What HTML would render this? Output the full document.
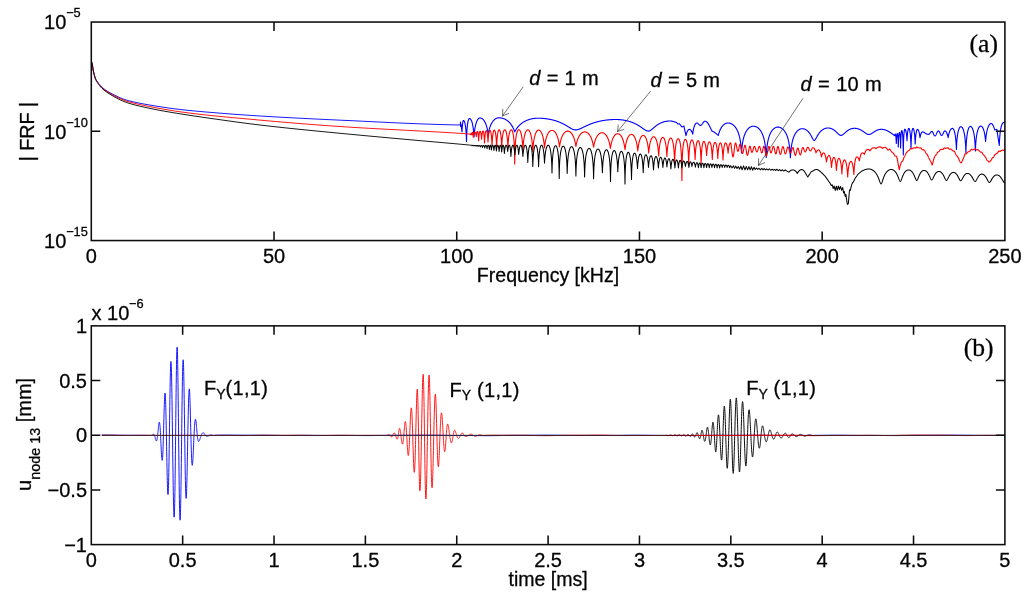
<!DOCTYPE html>
<html><head><meta charset="utf-8"><title>FRF</title>
<style>
html,body{margin:0;padding:0;background:#fff;}
svg{display:block;}
text{font-family:"Liberation Sans",sans-serif;fill:#000000;stroke:#000000;stroke-width:0.3px;}
.s{font-family:"Liberation Serif",serif;}
</style></head>
<body>
<svg width="1024" height="601" viewBox="0 0 1024 601">
<rect x="0" y="0" width="1024" height="601" fill="#ffffff"/>
<g fill="none" stroke-linejoin="round" stroke-linecap="butt">
<path d="M91.60 62.00L91.85 62.59L92.10 63.60L92.35 64.72L92.60 66.21L92.85 67.79L93.10 69.45L93.35 70.85L93.60 72.01L93.85 73.03L94.10 73.98L94.35 74.88L94.60 75.76L94.85 76.60L95.10 77.38L95.35 78.08L95.60 78.70L95.85 79.24L96.10 79.72L96.35 80.15L96.60 80.56L96.85 80.94L97.10 81.31L97.35 81.66L97.60 82.01L97.85 82.35L98.10 82.70L98.35 83.04L98.60 83.39L98.85 83.72L99.10 84.05L99.35 84.38L99.60 84.69L99.85 85.00L100.00 85.18L101.00 86.30L102.00 87.27L103.00 88.13L104.00 88.91L105.00 89.64L106.00 90.33L107.00 90.99L108.00 91.61L109.00 92.20L110.00 92.77L111.00 93.31L112.00 93.84L113.00 94.35L114.00 94.85L115.00 95.35L116.00 95.84L117.00 96.33L118.00 96.80L119.00 97.26L120.00 97.70L121.00 98.12L122.00 98.52L123.00 98.91L124.00 99.27L125.00 99.61L126.00 99.93L127.00 100.23L128.00 100.52L129.00 100.80L130.00 101.06L131.00 101.32L132.00 101.56L133.00 101.80L134.00 102.03L135.00 102.25L136.00 102.46L137.00 102.67L138.00 102.88L139.00 103.08L140.00 103.27L141.00 103.46L142.00 103.65L143.00 103.84L144.00 104.02L145.00 104.20L146.00 104.38L147.00 104.56L148.00 104.73L149.00 104.91L150.00 105.08L151.00 105.25L152.00 105.42L153.00 105.59L154.00 105.75L155.00 105.92L156.00 106.08L157.00 106.24L158.00 106.41L159.00 106.56L160.00 106.72L161.00 106.88L162.00 107.03L163.00 107.18L164.00 107.33L165.00 107.48L166.00 107.63L167.00 107.77L168.00 107.92L169.00 108.06L170.00 108.19L171.00 108.33L172.00 108.46L173.00 108.60L174.00 108.73L175.00 108.86L176.00 108.98L177.00 109.11L178.00 109.23L179.00 109.35L180.00 109.47L181.00 109.58L182.00 109.70L183.00 109.81L184.00 109.92L185.00 110.03L186.00 110.14L187.00 110.24L188.00 110.35L189.00 110.45L190.00 110.55L191.00 110.64L192.00 110.74L193.00 110.84L194.00 110.93L195.00 111.03L196.00 111.12L197.00 111.21L198.00 111.30L199.00 111.39L200.00 111.48L201.00 111.57L202.00 111.65L203.00 111.74L204.00 111.83L205.00 111.91L206.00 112.00L207.00 112.08L208.00 112.16L209.00 112.25L210.00 112.33L211.00 112.41L212.00 112.50L213.00 112.58L214.00 112.66L215.00 112.74L216.00 112.82L217.00 112.91L218.00 112.99L219.00 113.07L220.00 113.15L221.00 113.23L222.00 113.31L223.00 113.39L224.00 113.46L225.00 113.54L226.00 113.62L227.00 113.70L228.00 113.77L229.00 113.85L230.00 113.93L231.00 114.00L232.00 114.08L233.00 114.15L234.00 114.23L235.00 114.30L236.00 114.37L237.00 114.45L238.00 114.52L239.00 114.59L240.00 114.66L241.00 114.74L242.00 114.81L243.00 114.88L244.00 114.95L245.00 115.02L246.00 115.08L247.00 115.15L248.00 115.22L249.00 115.29L250.00 115.35L251.00 115.42L252.00 115.49L253.00 115.55L254.00 115.62L255.00 115.68L256.00 115.75L257.00 115.81L258.00 115.87L259.00 115.93L260.00 116.00L261.00 116.06L262.00 116.12L263.00 116.18L264.00 116.24L265.00 116.30L266.00 116.36L267.00 116.42L268.00 116.48L269.00 116.54L270.00 116.60L271.00 116.66L272.00 116.71L273.00 116.77L274.00 116.83L275.00 116.89L276.00 116.94L277.00 117.00L278.00 117.06L279.00 117.11L280.00 117.17L281.00 117.22L282.00 117.28L283.00 117.33L284.00 117.39L285.00 117.44L286.00 117.50L287.00 117.55L288.00 117.60L289.00 117.66L290.00 117.71L291.00 117.76L292.00 117.82L293.00 117.87L294.00 117.92L295.00 117.97L296.00 118.02L297.00 118.08L298.00 118.13L299.00 118.18L300.00 118.23L301.00 118.28L302.00 118.33L303.00 118.38L304.00 118.43L305.00 118.48L306.00 118.53L307.00 118.58L308.00 118.63L309.00 118.68L310.00 118.73L311.00 118.78L312.00 118.83L313.00 118.88L314.00 118.93L315.00 118.98L316.00 119.03L317.00 119.08L318.00 119.12L319.00 119.17L320.00 119.22L321.00 119.27L322.00 119.32L323.00 119.36L324.00 119.41L325.00 119.46L326.00 119.51L327.00 119.56L328.00 119.60L329.00 119.65L330.00 119.70L331.00 119.74L332.00 119.79L333.00 119.84L334.00 119.88L335.00 119.93L336.00 119.98L337.00 120.02L338.00 120.07L339.00 120.12L340.00 120.16L341.00 120.21L342.00 120.25L343.00 120.30L344.00 120.35L345.00 120.39L346.00 120.44L347.00 120.48L348.00 120.53L349.00 120.57L350.00 120.62L351.00 120.67L352.00 120.71L353.00 120.76L354.00 120.81L355.00 120.85L356.00 120.90L357.00 120.95L358.00 121.00L359.00 121.05L360.00 121.09L361.00 121.14L362.00 121.19L363.00 121.24L364.00 121.29L365.00 121.34L366.00 121.39L367.00 121.44L368.00 121.49L369.00 121.53L370.00 121.58L371.00 121.63L372.00 121.68L373.00 121.73L374.00 121.78L375.00 121.83L376.00 121.88L377.00 121.93L378.00 121.97L379.00 122.02L380.00 122.07L381.00 122.12L382.00 122.17L383.00 122.22L384.00 122.27L385.00 122.31L386.00 122.36L387.00 122.41L388.00 122.46L389.00 122.50L390.00 122.55L391.00 122.60L392.00 122.64L393.00 122.69L394.00 122.74L395.00 122.78L396.00 122.83L397.00 122.87L398.00 122.92L399.00 122.96L400.00 123.01L401.00 123.05L402.00 123.10L403.00 123.14L404.00 123.18L405.00 123.23L406.00 123.27L407.00 123.31L408.00 123.35L409.00 123.40L410.00 123.44L411.00 123.48L412.00 123.52L413.00 123.56L414.00 123.60L415.00 123.64L416.00 123.68L417.00 123.72L418.00 123.76L419.00 123.80L420.00 123.83L421.00 123.87L422.00 123.91L423.00 123.95L424.00 123.98L425.00 124.02L426.00 124.05L427.00 124.09L428.00 124.12L429.00 124.16L430.00 124.19L431.00 124.23L432.00 124.26L433.00 124.29L434.00 124.33L435.00 124.36L436.00 124.39L437.00 124.42L438.00 124.45L439.00 124.48L440.00 124.51L441.00 124.54L442.00 124.57L443.00 124.60L444.00 124.63L445.00 124.65L446.00 124.68L447.00 124.71L448.00 124.73L449.00 124.76L450.00 124.78L451.00 124.81L452.00 124.83L453.00 124.86L454.00 124.88L455.00 124.90L456.00 124.93L457.00 124.95L458.00 124.96L459.00 124.98L460.00 125.00" stroke="#0000ff" stroke-width="0.90"/>
<path d="M460.00 125.00L460.15 125.00L460.30 125.00L460.50 122.00L460.70 126.50L460.85 125.25L461.00 124.00L461.17 125.33L461.33 126.67L461.50 128.00L461.67 129.33L461.83 130.67L462.00 132.00L462.15 128.99L462.30 126.76L462.45 125.05L462.60 123.71L462.75 122.66L462.90 121.85L463.05 121.24L463.20 120.83L463.35 120.58L463.50 120.50L463.65 120.53L463.80 120.61L463.95 120.75L464.10 120.95L464.25 121.21L464.40 121.53L464.55 121.92L464.70 122.38L464.85 122.92L465.00 123.55L465.15 124.27L465.30 125.10L465.45 126.06L465.60 127.18L465.75 128.48L465.90 130.02L466.05 131.88L466.20 134.19L466.35 137.19L466.50 141.40L466.65 136.42L466.80 133.05L466.95 130.52L467.10 128.51L467.25 126.86L467.40 125.48L467.55 124.30L467.70 123.29L467.85 122.42L468.00 121.67L468.15 121.01L468.30 120.45L468.45 119.97L468.60 119.57L468.75 119.23L468.90 118.97L469.05 118.76L469.20 118.62L469.35 118.53L469.50 118.50L469.65 118.51L469.80 118.55L469.95 118.61L470.10 118.69L470.25 118.80L470.40 118.93L470.55 119.08L470.70 119.27L470.85 119.48L471.00 119.71L471.15 119.98L471.30 120.28L471.45 120.61L471.60 120.97L471.75 121.37L471.90 121.81L472.05 122.30L472.20 122.83L472.35 123.41L472.50 124.05L472.65 124.75L472.80 125.53L472.95 126.39L473.10 127.35L473.25 128.42L473.40 129.64L473.55 131.04L473.70 132.67L473.85 134.61L474.00 137.00L474.15 135.07L474.30 133.44L474.45 132.03L474.60 130.79L474.75 129.69L474.90 128.70L475.05 127.81L475.20 127.00L475.35 126.25L475.50 125.57L475.65 124.93L475.80 124.35L475.95 123.80L476.10 123.30L476.25 122.83L476.40 122.39L476.55 121.98L476.70 121.60L476.85 121.24L477.00 120.91L477.15 120.60L477.30 120.32L477.45 120.05L477.60 119.80L477.75 119.57L477.90 119.36L478.05 119.17L478.20 118.99L478.35 118.83L478.50 118.68L478.65 118.55L478.80 118.43L478.95 118.33L479.10 118.24L479.25 118.17L479.40 118.11L479.55 118.06L479.70 118.03L479.85 118.01L480.00 118.00L480.15 118.00L480.30 118.01L480.46 118.03L480.61 118.05L480.76 118.09L480.91 118.12L481.06 118.17L481.21 118.22L481.37 118.28L481.52 118.34L481.67 118.42L481.82 118.50L481.97 118.59L482.13 118.68L482.28 118.78L482.43 118.90L482.58 119.01L482.73 119.14L482.89 119.28L483.04 119.42L483.19 119.58L483.34 119.74L483.49 119.91L483.64 120.09L483.80 120.28L483.95 120.48L484.10 120.70L484.25 120.92L484.40 121.15L484.56 121.40L484.71 121.66L484.86 121.93L485.01 122.22L485.16 122.52L485.31 122.84L485.47 123.17L485.62 123.52L485.77 123.89L485.92 124.28L486.07 124.69L486.23 125.13L486.38 125.58L486.53 126.07L486.68 126.59L486.83 127.13L486.99 127.72L487.14 128.34L487.29 129.01L487.44 129.73L487.59 130.50L487.74 131.35L487.90 132.27L488.05 133.28L488.20 134.40L488.35 133.52L488.50 132.70L488.65 131.95L488.80 131.25L488.95 130.59L489.10 129.98L489.25 129.40L489.41 128.85L489.56 128.34L489.71 127.85L489.86 127.38L490.01 126.94L490.16 126.52L490.31 126.12L490.46 125.73L490.61 125.37L490.76 125.01L490.91 124.68L491.06 124.35L491.21 124.05L491.36 123.75L491.52 123.46L491.67 123.19L491.82 122.92L491.97 122.67L492.12 122.42L492.27 122.19L492.42 121.96L492.57 121.74L492.72 121.54L492.87 121.33L493.02 121.14L493.17 120.95L493.32 120.77L493.47 120.60L493.63 120.43L493.78 120.27L493.93 120.12L494.08 119.97L494.23 119.83L494.38 119.69L494.53 119.56L494.68 119.43L494.83 119.31L494.98 119.20L495.13 119.09L495.28 118.98L495.43 118.88L495.58 118.79L495.74 118.70L495.89 118.61L496.04 118.53L496.19 118.46L496.34 118.38L496.49 118.32L496.64 118.25L496.79 118.19L496.94 118.14L497.09 118.09L497.24 118.04L497.39 118.00L497.54 117.96L497.69 117.93L497.85 117.90L498.00 117.87L498.15 117.85L498.30 117.83L498.45 117.82L498.60 117.81L498.75 117.80L498.90 117.80L499.05 117.80L499.20 117.80L499.35 117.81L499.50 117.81L499.65 117.82L499.80 117.83L499.95 117.84L500.10 117.85L500.25 117.87L500.40 117.88L500.56 117.90L500.71 117.92L500.86 117.94L501.01 117.96L501.16 117.99L501.31 118.01L501.46 118.04L501.61 118.07L501.76 118.10L501.91 118.14L502.06 118.17L502.21 118.21L502.36 118.24L502.51 118.28L502.66 118.33L502.81 118.37L502.96 118.42L503.11 118.46L503.26 118.51L503.41 118.56L503.56 118.62L503.72 118.67L503.87 118.73L504.02 118.79L504.17 118.85L504.32 118.91L504.47 118.98L504.62 119.04L504.77 119.11L504.92 119.18L505.07 119.26L505.22 119.33L505.37 119.41L505.52 119.49L505.67 119.57L505.82 119.66L505.97 119.74L506.12 119.83L506.27 119.93L506.42 120.02L506.57 120.12L506.72 120.21L506.88 120.32L507.03 120.42L507.18 120.53L507.33 120.64L507.48 120.75L507.63 120.86L507.78 120.98L507.93 121.10L508.08 121.23L508.23 121.36L508.38 121.49L508.53 121.62L508.68 121.76L508.83 121.90L508.98 122.04L509.13 122.19L509.28 122.34L509.43 122.49L509.58 122.65L509.73 122.82L509.88 122.98L510.04 123.15L510.19 123.33L510.34 123.51L510.49 123.69L510.64 123.88L510.79 124.08L510.94 124.28L511.09 124.48L511.24 124.69L511.39 124.91L511.54 125.13L511.69 125.36L511.84 125.60L511.99 125.84L512.14 126.09L512.29 126.35L512.44 126.61L512.59 126.89L512.74 127.17L512.89 127.46L513.04 127.76L513.20 128.07L513.35 128.39L513.50 128.72L513.65 129.07L513.80 129.43L513.95 129.80L514.10 130.18L514.25 130.59L514.40 131.01L514.55 131.44L514.70 131.90L514.85 131.60L515.00 131.31L515.15 131.02L515.30 130.75L515.45 130.48L515.61 130.21L515.76 129.96L515.91 129.71L516.06 129.47L516.21 129.23L516.36 129.00L516.51 128.78L516.66 128.56L516.81 128.34L516.96 128.13L517.12 127.93L517.27 127.73L517.42 127.53L517.57 127.34L517.72 127.15L517.87 126.97L518.02 126.79L518.17 126.61L518.32 126.44L518.47 126.27L518.63 126.10L518.78 125.94L518.93 125.78L519.08 125.62L519.23 125.47L519.38 125.32L519.53 125.17L519.68 125.02L519.83 124.88L519.98 124.74L520.14 124.60L520.29 124.47L520.44 124.33L520.59 124.20L520.74 124.08L520.89 123.95L521.04 123.83L521.19 123.70L521.34 123.59L521.49 123.47L521.65 123.35L521.80 123.24L521.95 123.13L522.10 123.02L522.25 122.91L522.40 122.80L522.55 122.70L522.70 122.60L522.85 122.50L523.00 122.40L523.15 122.30L523.31 122.20L523.46 122.11L523.61 122.02L523.76 121.92L523.91 121.83L524.06 121.75L524.21 121.66L524.36 121.57L524.51 121.49L524.66 121.41L524.82 121.33L524.97 121.25L525.12 121.17L525.27 121.09L525.42 121.02L525.57 120.94L525.72 120.87L525.87 120.80L526.02 120.73L526.17 120.66L526.33 120.59L526.48 120.52L526.63 120.45L526.78 120.39L526.93 120.33L527.08 120.26L527.23 120.20L527.38 120.14L527.53 120.08L527.68 120.02L527.84 119.97L527.99 119.91L528.14 119.86L528.29 119.80L528.44 119.75L528.59 119.70L528.74 119.65L528.89 119.60L529.04 119.55L529.19 119.50L529.35 119.45L529.50 119.41L529.65 119.36L529.80 119.32L529.95 119.27L530.10 119.23L530.25 119.19L530.40 119.15L530.55 119.11L530.70 119.07L530.85 119.03L531.01 119.00L531.16 118.96L531.31 118.93L531.46 118.89L531.61 118.86L531.76 118.83L531.91 118.80L532.06 118.76L532.21 118.73L532.36 118.71L532.52 118.68L532.67 118.65L532.82 118.62L532.97 118.60L533.12 118.57L533.27 118.55L533.42 118.53L533.57 118.50L533.72 118.48L533.87 118.46L534.03 118.44L534.18 118.42L534.33 118.40L534.48 118.39L534.63 118.37L534.78 118.35L534.93 118.34L535.08 118.32L535.23 118.31L535.38 118.30L535.54 118.29L535.69 118.28L535.84 118.27L535.99 118.26L536.14 118.25L536.29 118.24L536.44 118.23L536.59 118.22L536.74 118.22L536.89 118.21L537.05 118.21L537.20 118.21L537.35 118.20L537.50 118.20L537.65 118.20L537.80 118.20L537.95 118.20L538.10 118.20L538.25 118.20L538.40 118.20L538.55 118.20L538.70 118.21L538.85 118.21L539.00 118.21L539.15 118.21L539.30 118.22L539.45 118.22L539.60 118.22L539.76 118.23L539.91 118.23L540.06 118.24L540.21 118.24L540.36 118.25L540.51 118.26L540.66 118.26L540.81 118.27L540.96 118.28L541.11 118.28L541.26 118.29L541.41 118.30L541.56 118.31L541.71 118.32L541.86 118.33L542.01 118.33L542.16 118.34L542.31 118.35L542.46 118.37L542.61 118.38L542.76 118.39L542.91 118.40L543.06 118.41L543.21 118.42L543.36 118.44L543.52 118.45L543.67 118.46L543.82 118.48L543.97 118.49L544.12 118.50L544.27 118.52L544.42 118.53L544.57 118.55L544.72 118.57L544.87 118.58L545.02 118.60L545.17 118.62L545.32 118.63L545.47 118.65L545.62 118.67L545.77 118.69L545.92 118.71L546.07 118.73L546.22 118.75L546.37 118.77L546.52 118.79L546.67 118.81L546.82 118.83L546.97 118.85L547.12 118.87L547.28 118.89L547.43 118.92L547.58 118.94L547.73 118.96L547.88 118.99L548.03 119.01L548.18 119.03L548.33 119.06L548.48 119.08L548.63 119.11L548.78 119.14L548.93 119.16L549.08 119.19L549.23 119.22L549.38 119.25L549.53 119.27L549.68 119.30L549.83 119.33L549.98 119.36L550.13 119.39L550.28 119.42L550.43 119.45L550.58 119.48L550.73 119.51L550.88 119.55L551.04 119.58L551.19 119.61L551.34 119.64L551.49 119.68L551.64 119.71L551.79 119.75L551.94 119.78L552.09 119.82L552.24 119.85L552.39 119.89L552.54 119.93L552.69 119.96L552.84 120.00L552.99 120.04L553.14 120.08L553.29 120.12L553.44 120.16L553.59 120.20L553.74 120.24L553.89 120.28L554.04 120.32L554.19 120.36L554.34 120.40L554.49 120.45L554.64 120.49L554.80 120.53L554.95 120.58L555.10 120.62L555.25 120.67L555.40 120.71L555.55 120.76L555.70 120.81L555.85 120.85L556.00 120.90L556.15 120.95L556.30 121.00L556.45 121.05L556.60 121.10L556.75 121.15L556.90 121.20L557.05 121.25L557.20 121.30L557.35 121.36L557.50 121.41L557.65 121.46L557.80 121.52L557.95 121.57L558.10 121.63L558.25 121.68L558.40 121.74L558.56 121.80L558.71 121.85L558.86 121.91L559.01 121.97L559.16 122.03L559.31 122.09L559.46 122.15L559.61 122.21L559.76 122.28L559.91 122.34L560.06 122.40L560.21 122.46L560.36 122.53L560.51 122.59L560.66 122.66L560.81 122.73L560.96 122.79L561.11 122.86L561.26 122.93L561.41 123.00L561.56 123.07L561.71 123.14L561.86 123.21L562.01 123.28L562.16 123.35L562.32 123.42L562.47 123.50L562.62 123.57L562.77 123.64L562.92 123.72L563.07 123.80L563.22 123.87L563.37 123.95L563.52 124.03L563.67 124.10L563.82 124.18L563.97 124.26L564.12 124.34L564.27 124.42L564.42 124.51L564.57 124.59L564.72 124.67L564.87 124.76L565.02 124.84L565.17 124.92L565.32 125.01L565.47 125.10L565.62 125.18L565.77 125.27L565.92 125.36L566.08 125.44L566.23 125.53L566.38 125.62L566.53 125.71L566.68 125.80L566.83 125.89L566.98 125.98L567.13 126.07L567.28 126.17L567.43 126.26L567.58 126.35L567.73 126.44L567.88 126.54L568.03 126.63L568.18 126.72L568.33 126.82L568.48 126.91L568.63 127.00L568.78 127.10L568.93 127.19L569.08 127.29L569.23 127.38L569.38 127.47L569.53 127.56L569.68 127.66L569.84 127.75L569.99 127.84L570.14 127.93L570.29 128.02L570.44 128.11L570.59 128.20L570.74 128.29L570.89 128.37L571.04 128.46L571.19 128.54L571.34 128.63L571.49 128.71L571.64 128.79L571.79 128.86L571.94 128.94L572.09 129.01L572.24 129.09L572.39 129.16L572.54 129.22L572.69 129.29L572.84 129.35L572.99 129.41L573.14 129.47L573.29 129.52L573.44 129.57L573.60 129.62L573.75 129.66L573.90 129.70L574.05 129.74L574.20 129.77L574.35 129.80L574.50 129.83L574.65 129.85L574.80 129.87L574.95 129.88L575.10 129.89L575.25 129.90L575.40 129.90L575.55 129.90L575.70 129.89L575.85 129.89L576.00 129.88L576.15 129.87L576.30 129.85L576.45 129.84L576.60 129.82L576.75 129.80L576.90 129.77L577.05 129.75L577.20 129.72L577.35 129.69L577.50 129.65L577.65 129.62L577.80 129.58L577.95 129.54L578.10 129.50L578.25 129.46L578.40 129.41L578.55 129.37L578.70 129.32L578.85 129.27L579.00 129.21L579.15 129.16L579.30 129.10L579.46 129.05L579.61 128.99L579.76 128.93L579.91 128.87L580.06 128.81L580.21 128.75L580.36 128.68L580.51 128.62L580.66 128.55L580.81 128.49L580.96 128.42L581.11 128.35L581.26 128.28L581.41 128.21L581.56 128.14L581.71 128.07L581.86 128.00L582.01 127.93L582.16 127.86L582.31 127.79L582.46 127.71L582.61 127.64L582.76 127.57L582.91 127.49L583.06 127.42L583.21 127.35L583.36 127.27L583.51 127.20L583.66 127.13L583.81 127.05L583.96 126.98L584.11 126.91L584.26 126.83L584.41 126.76L584.56 126.68L584.71 126.61L584.86 126.54L585.01 126.47L585.16 126.39L585.31 126.32L585.46 126.25L585.61 126.18L585.76 126.10L585.91 126.03L586.06 125.96L586.21 125.89L586.36 125.82L586.51 125.75L586.66 125.68L586.81 125.61L586.96 125.54L587.11 125.47L587.26 125.41L587.41 125.34L587.57 125.27L587.72 125.20L587.87 125.14L588.02 125.07L588.17 125.00L588.32 124.94L588.47 124.87L588.62 124.81L588.77 124.74L588.92 124.68L589.07 124.62L589.22 124.55L589.37 124.49L589.52 124.43L589.67 124.37L589.82 124.31L589.97 124.24L590.12 124.18L590.27 124.12L590.42 124.06L590.57 124.01L590.72 123.95L590.87 123.89L591.02 123.83L591.17 123.77L591.32 123.72L591.47 123.66L591.62 123.60L591.77 123.55L591.92 123.49L592.07 123.44L592.22 123.39L592.37 123.33L592.52 123.28L592.67 123.23L592.82 123.17L592.97 123.12L593.12 123.07L593.27 123.02L593.42 122.97L593.57 122.92L593.72 122.87L593.87 122.82L594.02 122.77L594.17 122.72L594.32 122.67L594.47 122.63L594.62 122.58L594.77 122.53L594.92 122.49L595.07 122.44L595.22 122.39L595.37 122.35L595.52 122.30L595.68 122.26L595.83 122.22L595.98 122.17L596.13 122.13L596.28 122.09L596.43 122.05L596.58 122.00L596.73 121.96L596.88 121.92L597.03 121.88L597.18 121.84L597.33 121.80L597.48 121.76L597.63 121.72L597.78 121.68L597.93 121.65L598.08 121.61L598.23 121.57L598.38 121.53L598.53 121.50L598.68 121.46L598.83 121.42L598.98 121.39L599.13 121.35L599.28 121.32L599.43 121.28L599.58 121.25L599.73 121.22L599.88 121.18L600.03 121.15L600.18 121.12L600.33 121.09L600.48 121.05L600.63 121.02L600.78 120.99L600.93 120.96L601.08 120.93L601.23 120.90L601.38 120.87L601.53 120.84L601.68 120.81L601.83 120.78L601.98 120.75L602.13 120.73L602.28 120.70L602.43 120.67L602.58 120.64L602.73 120.62L602.88 120.59L603.03 120.57L603.18 120.54L603.33 120.51L603.48 120.49L603.63 120.47L603.79 120.44L603.94 120.42L604.09 120.39L604.24 120.37L604.39 120.35L604.54 120.32L604.69 120.30L604.84 120.28L604.99 120.26L605.14 120.24L605.29 120.22L605.44 120.20L605.59 120.18L605.74 120.16L605.89 120.14L606.04 120.12L606.19 120.10L606.34 120.08L606.49 120.06L606.64 120.04L606.79 120.02L606.94 120.01L607.09 119.99L607.24 119.97L607.39 119.96L607.54 119.94L607.69 119.92L607.84 119.91L607.99 119.89L608.14 119.88L608.29 119.86L608.44 119.85L608.59 119.83L608.74 119.82L608.89 119.81L609.04 119.79L609.19 119.78L609.34 119.77L609.49 119.75L609.64 119.74L609.79 119.73L609.94 119.72L610.09 119.71L610.24 119.70L610.39 119.69L610.54 119.68L610.69 119.67L610.84 119.66L610.99 119.65L611.14 119.64L611.29 119.63L611.44 119.62L611.59 119.61L611.74 119.60L611.90 119.60L612.05 119.59L612.20 119.58L612.35 119.58L612.50 119.57L612.65 119.56L612.80 119.56L612.95 119.55L613.10 119.55L613.25 119.54L613.40 119.54L613.55 119.53L613.70 119.53L613.85 119.52L614.00 119.52L614.15 119.52L614.30 119.51L614.45 119.51L614.60 119.51L614.75 119.51L614.90 119.51L615.05 119.50L615.20 119.50L615.35 119.50L615.50 119.50L615.65 119.50L615.80 119.50L615.95 119.50L616.10 119.50L616.25 119.50L616.40 119.50L616.55 119.51L616.70 119.51L616.85 119.51L617.00 119.51L617.15 119.52L617.30 119.52L617.45 119.53L617.60 119.53L617.75 119.54L617.90 119.54L618.05 119.55L618.20 119.56L618.35 119.57L618.50 119.57L618.65 119.58L618.80 119.59L618.95 119.60L619.10 119.61L619.25 119.62L619.40 119.63L619.55 119.64L619.70 119.65L619.85 119.66L620.00 119.68L620.15 119.69L620.30 119.70L620.45 119.72L620.60 119.73L620.75 119.75L620.90 119.76L621.05 119.78L621.20 119.79L621.35 119.81L621.50 119.83L621.65 119.85L621.80 119.86L621.95 119.88L622.10 119.90L622.25 119.92L622.40 119.94L622.55 119.96L622.70 119.98L622.85 120.00L623.00 120.03L623.15 120.05L623.30 120.07L623.45 120.09L623.60 120.12L623.75 120.14L623.90 120.17L624.05 120.19L624.20 120.22L624.35 120.25L624.50 120.27L624.65 120.30L624.80 120.33L624.95 120.36L625.10 120.39L625.25 120.41L625.40 120.44L625.55 120.48L625.70 120.51L625.85 120.54L626.00 120.57L626.15 120.60L626.30 120.64L626.45 120.67L626.60 120.70L626.75 120.74L626.90 120.78L627.05 120.81L627.20 120.85L627.35 120.88L627.50 120.92L627.65 120.96L627.80 121.00L627.95 121.04L628.10 121.08L628.25 121.12L628.40 121.16L628.55 121.20L628.70 121.24L628.85 121.29L629.00 121.33L629.15 121.38L629.30 121.42L629.45 121.47L629.60 121.51L629.75 121.56L629.90 121.60L630.05 121.65L630.20 121.70L630.35 121.75L630.50 121.80L630.65 121.85L630.80 121.90L630.95 121.95L631.10 122.01L631.25 122.06L631.40 122.11L631.55 122.17L631.70 122.22L631.85 122.28L632.00 122.33L632.15 122.39L632.30 122.45L632.45 122.51L632.60 122.57L632.75 122.63L632.90 122.69L633.05 122.75L633.20 122.81L633.35 122.87L633.50 122.94L633.65 123.00L633.80 123.06L633.95 123.13L634.10 123.20L634.25 123.26L634.40 123.33L634.55 123.40L634.70 123.47L634.85 123.54L635.00 123.61L635.15 123.68L635.30 123.76L635.45 123.83L635.60 123.90L635.75 123.98L635.90 124.06L636.05 124.13L636.20 124.21L636.35 124.29L636.50 124.37L636.65 124.45L636.80 124.53L636.95 124.61L637.10 124.69L637.25 124.78L637.40 124.86L637.55 124.95L637.70 125.03L637.85 125.12L638.00 125.21L638.15 125.29L638.30 125.38L638.45 125.47L638.60 125.56L638.75 125.66L638.90 125.75L639.05 125.84L639.20 125.94L639.35 126.03L639.50 126.13L639.65 126.22L639.80 126.32L639.95 126.42L640.10 126.52L640.25 126.62L640.40 126.72L640.55 126.82L640.70 126.92L640.85 127.02L641.00 127.12L641.15 127.23L641.30 127.33L641.45 127.44L641.60 127.54L641.75 127.64L641.90 127.75L642.05 127.86L642.20 127.96L642.35 128.07L642.50 128.17L642.65 128.28L642.80 128.39L642.95 128.49L643.10 128.60L643.25 128.70L643.40 128.81L643.55 128.91L643.70 129.02L643.85 129.12L644.00 129.22L644.15 129.32L644.30 129.42L644.45 129.52L644.60 129.62L644.75 129.71L644.90 129.81L645.05 129.90L645.20 129.99L645.35 130.08L645.50 130.16L645.65 130.25L645.80 130.33L645.95 130.41L646.10 130.48L646.25 130.55L646.40 130.62L646.55 130.68L646.70 130.74L646.85 130.80L647.00 130.85L647.15 130.89L647.30 130.94L647.45 130.97L647.60 131.01L647.75 131.04L647.90 131.06L648.05 131.08L648.20 131.09L648.35 131.10L648.50 131.10L648.65 131.10L648.80 131.08L648.95 131.06L649.10 131.03L649.25 131.00L649.40 130.95L649.55 130.90L649.70 130.84L649.85 130.77L650.00 130.69L650.15 130.61L650.30 130.53L650.45 130.44L650.60 130.34L650.76 130.24L650.91 130.13L651.06 130.02L651.21 129.90L651.36 129.79L651.51 129.67L651.66 129.54L651.81 129.42L651.96 129.29L652.11 129.16L652.26 129.03L652.41 128.90L652.56 128.77L652.71 128.64L652.86 128.51L653.01 128.37L653.16 128.24L653.31 128.11L653.46 127.97L653.61 127.84L653.76 127.71L653.91 127.58L654.06 127.45L654.21 127.32L654.36 127.19L654.51 127.06L654.66 126.94L654.81 126.81L654.97 126.69L655.12 126.56L655.27 126.44L655.42 126.32L655.57 126.20L655.72 126.09L655.87 125.97L656.02 125.85L656.17 125.74L656.32 125.63L656.47 125.52L656.62 125.41L656.77 125.30L656.92 125.20L657.07 125.09L657.22 124.99L657.37 124.89L657.52 124.79L657.67 124.69L657.82 124.60L657.97 124.50L658.12 124.41L658.27 124.32L658.42 124.22L658.57 124.14L658.72 124.05L658.87 123.96L659.02 123.88L659.17 123.79L659.33 123.71L659.48 123.63L659.63 123.55L659.78 123.47L659.93 123.40L660.08 123.32L660.23 123.25L660.38 123.18L660.53 123.11L660.68 123.04L660.83 122.97L660.98 122.90L661.13 122.83L661.28 122.77L661.43 122.71L661.58 122.65L661.73 122.58L661.88 122.53L662.03 122.47L662.18 122.41L662.33 122.36L662.48 122.30L662.63 122.25L662.78 122.20L662.93 122.15L663.08 122.10L663.23 122.05L663.38 122.00L663.53 121.95L663.69 121.91L663.84 121.87L663.99 121.82L664.14 121.78L664.29 121.74L664.44 121.70L664.59 121.66L664.74 121.63L664.89 121.59L665.04 121.56L665.19 121.52L665.34 121.49L665.49 121.46L665.64 121.43L665.79 121.40L665.94 121.37L666.09 121.34L666.24 121.32L666.39 121.29L666.54 121.27L666.69 121.25L666.84 121.22L666.99 121.20L667.14 121.18L667.29 121.16L667.44 121.15L667.59 121.13L667.74 121.11L667.90 121.10L668.05 121.09L668.20 121.07L668.35 121.06L668.50 121.05L668.65 121.04L668.80 121.03L668.95 121.02L669.10 121.02L669.25 121.01L669.40 121.01L669.55 121.00L669.70 121.00L669.85 121.00L670.00 121.00L670.15 121.00L670.30 121.00L670.46 121.01L670.61 121.02L670.76 121.03L670.91 121.04L671.07 121.05L671.22 121.07L671.37 121.08L671.52 121.10L671.68 121.13L671.83 121.15L671.98 121.17L672.13 121.20L672.29 121.23L672.44 121.26L672.59 121.29L672.74 121.33L672.90 121.36L673.05 121.40L673.20 121.44L673.35 121.48L673.50 121.52L673.66 121.56L673.81 121.61L673.96 121.66L674.11 121.70L674.27 121.75L674.42 121.80L674.57 121.85L674.72 121.90L674.88 121.95L675.03 122.00L675.18 122.06L675.33 122.11L675.49 122.17L675.64 122.22L675.79 122.28L675.94 122.33L676.10 122.39L676.25 122.44L676.40 122.50L676.56 122.65L676.72 122.80L676.88 122.95L677.04 123.10L677.20 123.25L677.36 123.40L677.52 123.55L677.68 123.70L677.84 123.85L678.00 124.00L678.15 123.98L678.30 123.96L678.45 123.94L678.60 123.92L678.75 123.90L678.90 123.88L679.05 123.86L679.20 123.84L679.35 123.82L679.50 123.80L679.66 124.01L679.82 124.23L679.98 124.44L680.14 124.65L680.30 124.87L680.46 125.08L680.62 125.29L680.78 125.51L680.94 125.72L681.10 125.93L681.26 126.15L681.42 126.36L681.58 126.57L681.74 126.79L681.90 127.00L682.05 126.92L682.21 126.85L682.36 126.77L682.52 126.69L682.67 126.62L682.82 126.54L682.98 126.46L683.13 126.38L683.28 126.31L683.44 126.23L683.59 126.15L683.75 126.08L683.90 126.00L684.05 126.69L684.20 127.39L684.35 128.08L684.50 128.77L684.65 129.46L684.80 130.16L684.95 130.85L685.10 131.54L685.25 132.24L685.40 132.93L685.55 133.62L685.70 134.31L685.85 135.01L686.00 135.70L686.15 135.02L686.31 134.40L686.46 133.84L686.62 133.32L686.77 132.84L686.93 132.41L687.08 132.01L687.24 131.65L687.39 131.32L687.55 131.02L687.70 130.75L687.85 130.51L688.01 130.29L688.16 130.10L688.32 129.93L688.47 129.79L688.63 129.67L688.78 129.57L688.94 129.50L689.09 129.44L689.25 129.41L689.40 129.40L689.55 129.41L689.70 129.43L689.85 129.48L690.00 129.54L690.15 129.61L690.30 129.71L690.45 129.82L690.60 129.95L690.75 130.10L690.90 130.26L691.05 130.45L691.20 130.66L691.35 130.89L691.50 131.14L691.65 131.41L691.80 131.71L691.95 132.03L692.10 132.38L692.25 132.76L692.40 133.18L692.55 133.62L692.70 134.10L692.86 132.93L693.01 131.89L693.17 130.96L693.32 130.13L693.48 129.37L693.63 128.68L693.79 128.05L693.94 127.48L694.10 126.96L694.26 126.48L694.41 126.04L694.57 125.64L694.72 125.27L694.88 124.94L695.03 124.64L695.19 124.36L695.34 124.12L695.50 123.90L695.66 123.71L695.81 123.54L695.97 123.39L696.12 123.27L696.28 123.17L696.43 123.10L696.59 123.04L696.74 123.01L696.90 123.00L697.05 123.01L697.20 123.04L697.36 123.10L697.51 123.17L697.66 123.27L697.81 123.38L697.97 123.51L698.12 123.65L698.27 123.80L698.42 123.96L698.57 124.12L698.73 124.28L698.88 124.44L699.03 124.60L699.18 124.75L699.33 124.89L699.49 125.02L699.64 125.13L699.79 125.23L699.94 125.30L700.10 125.36L700.25 125.39L700.40 125.40L700.55 125.39L700.71 125.35L700.86 125.30L701.01 125.22L701.17 125.12L701.32 125.00L701.47 124.86L701.63 124.71L701.78 124.53L701.93 124.35L702.09 124.15L702.24 123.95L702.39 123.74L702.55 123.52L702.70 123.30L702.85 123.08L703.01 122.86L703.16 122.65L703.31 122.45L703.47 122.25L703.62 122.07L703.77 121.89L703.93 121.74L704.08 121.60L704.23 121.48L704.39 121.38L704.54 121.30L704.69 121.25L704.85 121.21L705.00 121.20L705.15 121.21L705.30 121.22L705.45 121.25L705.60 121.29L705.76 121.35L705.91 121.41L706.06 121.49L706.21 121.58L706.36 121.67L706.51 121.78L706.66 121.91L706.81 122.04L706.96 122.18L707.12 122.34L707.27 122.50L707.42 122.67L707.57 122.86L707.72 123.05L707.87 123.26L708.02 123.47L708.17 123.69L708.32 123.92L708.48 124.16L708.63 124.41L708.78 124.66L708.93 124.93L709.08 125.20L709.23 125.48L709.38 125.76L709.53 126.05L709.68 126.35L709.84 126.65L709.99 126.95L710.14 127.27L710.29 127.58L710.44 127.90L710.59 128.23L710.74 128.55L710.89 128.88L711.04 129.22L711.20 129.55L711.35 129.89L711.50 130.22L711.65 130.56L711.80 130.90L711.96 130.97L712.11 131.05L712.27 131.12L712.42 131.20L712.58 131.28L712.74 131.35L712.89 131.43L713.05 131.50L713.21 131.57L713.36 131.65L713.52 131.72L713.67 131.80L713.83 131.88L713.99 131.95L714.14 132.03L714.30 132.10L714.45 132.23L714.61 132.35L714.76 132.48L714.92 132.61L715.07 132.73L715.22 132.86L715.38 132.99L715.53 133.12L715.68 133.24L715.84 133.37L715.99 133.50L716.15 133.62L716.30 133.75L716.45 133.88L716.61 134.00L716.76 134.13L716.92 134.26L717.07 134.38L717.22 134.51L717.38 134.64L717.53 134.77L717.68 134.89L717.84 135.02L717.99 135.15L718.15 135.27L718.30 135.40L718.45 134.80L718.60 134.23L718.75 133.69L718.91 133.18L719.06 132.70L719.21 132.24L719.36 131.81L719.51 131.39L719.66 131.00L719.82 130.62L719.97 130.26L720.12 129.91L720.27 129.58L720.42 129.27L720.57 128.96L720.72 128.67L720.88 128.39L721.03 128.12L721.18 127.86L721.33 127.61L721.48 127.37L721.63 127.14L721.79 126.92L721.94 126.71L722.09 126.50L722.24 126.30L722.39 126.11L722.54 125.93L722.70 125.76L722.85 125.59L723.00 125.42L723.15 125.27L723.30 125.12L723.45 124.98L723.60 124.84L723.76 124.71L723.91 124.58L724.06 124.46L724.21 124.35L724.36 124.24L724.51 124.13L724.67 124.03L724.82 123.94L724.97 123.85L725.12 123.76L725.27 123.68L725.42 123.61L725.58 123.54L725.73 123.47L725.88 123.41L726.03 123.35L726.18 123.30L726.33 123.25L726.48 123.21L726.64 123.17L726.79 123.13L726.94 123.10L727.09 123.07L727.24 123.05L727.39 123.03L727.55 123.02L727.70 123.01L727.85 123.00L728.00 123.00L728.15 123.00L728.30 123.01L728.45 123.01L728.60 123.02L728.75 123.04L728.90 123.06L729.05 123.08L729.20 123.10L729.35 123.13L729.50 123.15L729.65 123.19L729.80 123.22L729.95 123.26L730.10 123.30L730.25 123.35L730.40 123.40L730.55 123.45L730.70 123.51L730.85 123.56L731.00 123.63L731.15 123.69L731.30 123.76L731.45 123.83L731.60 123.91L731.75 123.99L731.90 124.07L732.05 124.16L732.20 124.25L732.35 124.35L732.50 124.45L732.65 124.55L732.80 124.66L732.95 124.77L733.10 124.88L733.25 125.00L733.40 125.13L733.55 125.25L733.70 125.39L733.85 125.53L734.00 125.67L734.15 125.82L734.30 125.97L734.45 126.13L734.60 126.29L734.75 126.46L734.90 126.64L735.05 126.82L735.20 127.00L735.35 127.20L735.50 127.40L735.65 127.60L735.80 127.82L735.95 128.04L736.10 128.27L736.25 128.51L736.40 128.75L736.55 129.01L736.70 129.27L736.85 129.54L737.00 129.83L737.15 130.12L737.30 130.43L737.45 130.74L737.60 131.07L737.75 131.41L737.90 131.77L738.05 132.14L738.20 132.53L738.35 132.94L738.50 133.36L738.65 133.81L738.80 134.27L738.95 134.77L739.10 135.28L739.25 135.83L739.40 136.41L739.55 137.02L739.70 137.67L739.85 138.37L740.00 139.11L740.15 139.92L740.30 140.79L740.45 141.74L740.60 142.78L740.75 143.94L740.90 145.23L741.05 146.70L741.20 148.40L741.35 150.42L741.50 152.90L741.65 150.79L741.80 149.02L741.95 147.50L742.10 146.17L742.25 144.99L742.40 143.92L742.55 142.96L742.71 142.07L742.86 141.26L743.01 140.50L743.16 139.80L743.31 139.14L743.46 138.52L743.61 137.94L743.76 137.39L743.91 136.87L744.06 136.38L744.21 135.92L744.36 135.47L744.51 135.05L744.66 134.65L744.81 134.26L744.96 133.89L745.12 133.54L745.27 133.20L745.42 132.88L745.57 132.57L745.72 132.27L745.87 131.98L746.02 131.71L746.17 131.44L746.32 131.18L746.47 130.94L746.62 130.70L746.77 130.47L746.92 130.25L747.07 130.04L747.22 129.84L747.37 129.64L747.53 129.45L747.68 129.27L747.83 129.10L747.98 128.93L748.13 128.77L748.28 128.61L748.43 128.46L748.58 128.32L748.73 128.18L748.88 128.04L749.03 127.92L749.18 127.79L749.33 127.68L749.48 127.56L749.63 127.46L749.78 127.36L749.94 127.26L750.09 127.17L750.24 127.08L750.39 126.99L750.54 126.91L750.69 126.84L750.84 126.77L750.99 126.70L751.14 126.64L751.29 126.58L751.44 126.53L751.59 126.48L751.74 126.44L751.89 126.39L752.04 126.36L752.19 126.32L752.35 126.30L752.50 126.27L752.65 126.25L752.80 126.23L752.95 126.22L753.10 126.21L753.25 126.20L753.40 126.20L753.55 126.20L753.70 126.21L753.85 126.22L754.00 126.23L754.15 126.24L754.30 126.26L754.45 126.29L754.60 126.31L754.76 126.34L754.91 126.37L755.06 126.41L755.21 126.45L755.36 126.50L755.51 126.54L755.66 126.60L755.81 126.65L755.96 126.71L756.11 126.77L756.26 126.84L756.41 126.91L756.56 126.99L756.71 127.06L756.86 127.15L757.01 127.23L757.16 127.33L757.32 127.42L757.47 127.52L757.62 127.63L757.77 127.73L757.92 127.85L758.07 127.97L758.22 128.09L758.37 128.22L758.52 128.35L758.67 128.49L758.82 128.63L758.97 128.78L759.12 128.93L759.27 129.09L759.42 129.26L759.57 129.43L759.72 129.61L759.88 129.79L760.03 129.98L760.18 130.18L760.33 130.39L760.48 130.60L760.63 130.82L760.78 131.05L760.93 131.29L761.08 131.53L761.23 131.79L761.38 132.05L761.53 132.33L761.68 132.61L761.83 132.91L761.98 133.22L762.13 133.54L762.28 133.87L762.44 134.22L762.59 134.58L762.74 134.96L762.89 135.36L763.04 135.77L763.19 136.21L763.34 136.66L763.49 137.14L763.64 137.64L763.79 138.18L763.94 138.74L764.09 139.34L764.24 139.97L764.39 140.65L764.54 141.38L764.69 142.16L764.84 143.00L765.00 143.92L765.15 144.93L765.30 146.04L765.45 147.28L765.60 148.69L765.75 150.30L765.90 152.20L766.05 154.49L766.20 157.40L766.35 154.46L766.50 152.14L766.66 150.23L766.81 148.61L766.96 147.20L767.11 145.95L767.26 144.84L767.42 143.83L767.57 142.91L767.72 142.07L767.87 141.29L768.02 140.56L768.18 139.88L768.33 139.25L768.48 138.66L768.63 138.10L768.78 137.57L768.94 137.07L769.09 136.59L769.24 136.14L769.39 135.71L769.54 135.30L769.69 134.91L769.85 134.54L770.00 134.18L770.15 133.84L770.30 133.51L770.45 133.20L770.61 132.90L770.76 132.61L770.91 132.33L771.06 132.07L771.21 131.81L771.37 131.57L771.52 131.33L771.67 131.10L771.82 130.89L771.97 130.67L772.13 130.47L772.28 130.28L772.43 130.09L772.58 129.91L772.73 129.74L772.89 129.57L773.04 129.42L773.19 129.26L773.34 129.12L773.49 128.98L773.65 128.84L773.80 128.71L773.95 128.59L774.10 128.47L774.25 128.36L774.41 128.25L774.56 128.15L774.71 128.06L774.86 127.97L775.01 127.88L775.16 127.80L775.32 127.72L775.47 127.65L775.62 127.58L775.77 127.52L775.92 127.46L776.08 127.41L776.23 127.36L776.38 127.31L776.53 127.27L776.68 127.24L776.84 127.20L776.99 127.18L777.14 127.15L777.29 127.13L777.44 127.12L777.60 127.11L777.75 127.10L777.90 127.10L778.05 127.10L778.20 127.11L778.35 127.12L778.50 127.13L778.65 127.15L778.80 127.17L778.95 127.19L779.10 127.22L779.26 127.25L779.41 127.28L779.56 127.32L779.71 127.36L779.86 127.41L780.01 127.46L780.16 127.51L780.31 127.57L780.46 127.63L780.61 127.70L780.76 127.77L780.91 127.84L781.06 127.92L781.21 128.00L781.36 128.09L781.51 128.18L781.67 128.28L781.82 128.38L781.97 128.48L782.12 128.59L782.27 128.71L782.42 128.82L782.57 128.95L782.72 129.08L782.87 129.21L783.02 129.35L783.17 129.50L783.32 129.65L783.47 129.80L783.62 129.96L783.77 130.13L783.92 130.31L784.07 130.49L784.23 130.68L784.38 130.87L784.53 131.07L784.68 131.28L784.83 131.50L784.98 131.73L785.13 131.96L785.28 132.20L785.43 132.45L785.58 132.72L785.73 132.99L785.88 133.27L786.03 133.56L786.18 133.87L786.33 134.19L786.48 134.52L786.63 134.86L786.79 135.22L786.94 135.60L787.09 135.99L787.24 136.40L787.39 136.83L787.54 137.28L787.69 137.76L787.84 138.26L787.99 138.79L788.14 139.35L788.29 139.94L788.44 140.57L788.59 141.24L788.74 141.96L788.89 142.74L789.04 143.57L789.20 144.48L789.35 145.48L789.50 146.58L789.65 147.80L789.80 149.19L789.95 150.77L790.10 152.63L790.25 154.87L790.40 157.70L790.55 155.12L790.70 153.04L790.85 151.29L791.00 149.79L791.15 148.47L791.30 147.29L791.45 146.24L791.61 145.27L791.76 144.39L791.91 143.58L792.06 142.83L792.21 142.13L792.36 141.48L792.51 140.86L792.66 140.28L792.81 139.74L792.96 139.22L793.11 138.74L793.26 138.27L793.41 137.83L793.56 137.41L793.71 137.01L793.86 136.62L794.02 136.26L794.17 135.91L794.32 135.57L794.47 135.25L794.62 134.94L794.77 134.64L794.92 134.36L795.07 134.08L795.22 133.82L795.37 133.56L795.52 133.32L795.67 133.09L795.82 132.86L795.97 132.64L796.12 132.43L796.27 132.23L796.43 132.04L796.58 131.85L796.73 131.67L796.88 131.50L797.03 131.33L797.18 131.17L797.33 131.01L797.48 130.87L797.63 130.72L797.78 130.59L797.93 130.46L798.08 130.33L798.23 130.21L798.38 130.10L798.53 129.99L798.68 129.88L798.84 129.78L798.99 129.69L799.14 129.60L799.29 129.51L799.44 129.43L799.59 129.35L799.74 129.28L799.89 129.21L800.04 129.15L800.19 129.09L800.34 129.04L800.49 128.99L800.64 128.94L800.79 128.90L800.94 128.86L801.09 128.83L801.25 128.80L801.40 128.77L801.55 128.75L801.70 128.73L801.85 128.72L802.00 128.71L802.15 128.70L802.30 128.70L802.45 128.70L802.60 128.71L802.75 128.72L802.90 128.73L803.05 128.74L803.20 128.76L803.35 128.78L803.51 128.81L803.66 128.84L803.81 128.87L803.96 128.91L804.11 128.95L804.26 128.99L804.41 129.04L804.56 129.09L804.71 129.14L804.86 129.20L805.01 129.26L805.16 129.33L805.31 129.40L805.46 129.47L805.61 129.55L805.76 129.63L805.92 129.72L806.07 129.81L806.22 129.90L806.37 130.00L806.52 130.10L806.67 130.20L806.82 130.31L806.97 130.43L807.12 130.55L807.27 130.67L807.42 130.80L807.57 130.94L807.72 131.07L807.87 131.22L808.02 131.37L808.17 131.52L808.33 131.68L808.48 131.84L808.63 132.01L808.78 132.19L808.93 132.37L809.08 132.56L809.23 132.75L809.38 132.95L809.53 133.15L809.68 133.36L809.83 133.58L809.98 133.81L810.13 134.04L810.28 134.27L810.43 134.52L810.58 134.77L810.74 135.02L810.89 135.29L811.04 135.56L811.19 135.83L811.34 136.11L811.49 136.40L811.64 136.69L811.79 136.98L811.94 137.27L812.09 137.57L812.24 137.87L812.39 138.16L812.54 138.45L812.69 138.73L812.84 139.00L812.99 139.26L813.15 139.50L813.30 139.72L813.45 139.92L813.60 140.09L813.75 140.22L813.90 140.32L814.05 140.38L814.20 140.40L814.35 140.38L814.50 140.33L814.65 140.24L814.81 140.12L814.96 139.97L815.11 139.80L815.26 139.60L815.41 139.38L815.56 139.14L815.72 138.89L815.87 138.63L816.02 138.36L816.17 138.09L816.32 137.81L816.47 137.53L816.63 137.25L816.78 136.97L816.93 136.69L817.08 136.42L817.23 136.14L817.38 135.88L817.54 135.61L817.69 135.36L817.84 135.10L817.99 134.86L818.14 134.61L818.29 134.38L818.45 134.15L818.60 133.92L818.75 133.70L818.90 133.49L819.05 133.28L819.20 133.07L819.36 132.87L819.51 132.68L819.66 132.49L819.81 132.31L819.96 132.13L820.11 131.96L820.27 131.79L820.42 131.63L820.57 131.47L820.72 131.32L820.87 131.17L821.02 131.02L821.18 130.88L821.33 130.74L821.48 130.61L821.63 130.48L821.78 130.35L821.93 130.23L822.09 130.12L822.24 130.00L822.39 129.89L822.54 129.79L822.69 129.68L822.84 129.58L823.00 129.49L823.15 129.40L823.30 129.31L823.45 129.22L823.60 129.14L823.75 129.06L823.91 128.98L824.06 128.91L824.21 128.84L824.36 128.77L824.51 128.71L824.66 128.65L824.82 128.59L824.97 128.53L825.12 128.48L825.27 128.43L825.42 128.38L825.57 128.34L825.73 128.30L825.88 128.26L826.03 128.22L826.18 128.19L826.33 128.16L826.48 128.13L826.64 128.11L826.79 128.08L826.94 128.06L827.09 128.05L827.24 128.03L827.39 128.02L827.55 128.01L827.70 128.01L827.85 128.00L828.00 128.00L828.15 128.00L828.30 128.01L828.46 128.01L828.61 128.02L828.76 128.03L828.91 128.05L829.06 128.06L829.21 128.08L829.37 128.10L829.52 128.13L829.67 128.16L829.82 128.18L829.97 128.22L830.12 128.25L830.28 128.29L830.43 128.33L830.58 128.37L830.73 128.42L830.88 128.46L831.04 128.52L831.19 128.57L831.34 128.62L831.49 128.68L831.64 128.74L831.79 128.81L831.95 128.88L832.10 128.95L832.25 129.02L832.40 129.09L832.55 129.17L832.70 129.25L832.86 129.33L833.01 129.42L833.16 129.51L833.31 129.60L833.46 129.70L833.62 129.79L833.77 129.89L833.92 130.00L834.07 130.10L834.22 130.21L834.37 130.32L834.53 130.44L834.68 130.56L834.83 130.68L834.98 130.80L835.13 130.92L835.28 131.05L835.44 131.18L835.59 131.31L835.74 131.45L835.89 131.59L836.04 131.73L836.20 131.87L836.35 132.01L836.50 132.16L836.65 132.30L836.80 132.45L836.95 132.60L837.11 132.75L837.26 132.90L837.41 133.05L837.56 133.20L837.71 133.35L837.86 133.50L838.02 133.65L838.17 133.80L838.32 133.94L838.47 134.08L838.62 134.22L838.78 134.36L838.93 134.48L839.08 134.61L839.23 134.72L839.38 134.83L839.53 134.93L839.69 135.03L839.84 135.11L839.99 135.19L840.14 135.25L840.29 135.30L840.44 135.35L840.60 135.38L840.75 135.39L840.90 135.40L841.05 135.39L841.20 135.38L841.35 135.36L841.50 135.32L841.65 135.28L841.80 135.22L841.95 135.16L842.10 135.09L842.25 135.01L842.40 134.93L842.55 134.84L842.70 134.74L842.85 134.63L843.00 134.52L843.15 134.41L843.30 134.29L843.45 134.17L843.60 134.04L843.75 133.91L843.90 133.78L844.05 133.65L844.20 133.52L844.35 133.38L844.50 133.25L844.65 133.11L844.80 132.98L844.95 132.84L845.10 132.70L845.25 132.57L845.40 132.44L845.55 132.30L845.70 132.17L845.85 132.04L846.00 131.91L846.15 131.79L846.30 131.66L846.45 131.54L846.60 131.42L846.75 131.30L846.90 131.18L847.05 131.07L847.20 130.95L847.35 130.84L847.50 130.73L847.65 130.63L847.80 130.52L847.95 130.42L848.10 130.32L848.25 130.23L848.40 130.13L848.55 130.04L848.70 129.95L848.85 129.86L849.00 129.78L849.15 129.70L849.30 129.62L849.45 129.54L849.60 129.47L849.75 129.39L849.90 129.32L850.05 129.25L850.20 129.19L850.35 129.13L850.50 129.07L850.65 129.01L850.80 128.95L850.95 128.90L851.10 128.85L851.25 128.80L851.40 128.75L851.55 128.71L851.70 128.66L851.85 128.63L852.00 128.59L852.15 128.55L852.30 128.52L852.45 128.49L852.60 128.46L852.75 128.44L852.90 128.41L853.05 128.39L853.20 128.37L853.35 128.35L853.50 128.34L853.65 128.33L853.80 128.32L853.95 128.31L854.10 128.30L854.25 128.30L854.40 128.30L854.55 128.30L854.70 128.30L854.85 128.31L855.00 128.31L855.16 128.32L855.31 128.33L855.46 128.35L855.61 128.36L855.76 128.38L855.91 128.39L856.06 128.41L856.21 128.43L856.36 128.46L856.51 128.48L856.67 128.51L856.82 128.54L856.97 128.57L857.12 128.60L857.27 128.64L857.42 128.67L857.57 128.71L857.72 128.75L857.87 128.79L858.02 128.84L858.18 128.88L858.33 128.93L858.48 128.98L858.63 129.03L858.78 129.08L858.93 129.14L859.08 129.20L859.23 129.25L859.38 129.32L859.54 129.38L859.69 129.44L859.84 129.51L859.99 129.58L860.14 129.65L860.29 129.72L860.44 129.79L860.59 129.87L860.74 129.95L860.89 130.03L861.05 130.11L861.20 130.19L861.35 130.28L861.50 130.36L861.65 130.45L861.80 130.54L861.95 130.63L862.10 130.72L862.25 130.82L862.41 130.92L862.56 131.01L862.71 131.11L862.86 131.21L863.01 131.31L863.16 131.42L863.31 131.52L863.46 131.63L863.61 131.73L863.76 131.84L863.92 131.95L864.07 132.05L864.22 132.16L864.37 132.27L864.52 132.38L864.67 132.49L864.82 132.60L864.97 132.71L865.12 132.81L865.27 132.92L865.43 133.03L865.58 133.13L865.73 133.23L865.88 133.33L866.03 133.43L866.18 133.53L866.33 133.62L866.48 133.71L866.63 133.80L866.79 133.88L866.94 133.96L867.09 134.04L867.24 134.11L867.39 134.17L867.54 134.23L867.69 134.29L867.84 134.34L867.99 134.38L868.14 134.42L868.30 134.45L868.45 134.47L868.60 134.49L868.75 134.50L868.90 134.50L869.05 134.50L869.20 134.49L869.35 134.47L869.50 134.45L869.65 134.42L869.80 134.38L869.95 134.34L870.10 134.29L870.26 134.24L870.41 134.18L870.56 134.11L870.71 134.04L870.86 133.97L871.01 133.89L871.16 133.81L871.31 133.73L871.46 133.64L871.61 133.55L871.76 133.45L871.91 133.36L872.06 133.26L872.21 133.16L872.36 133.06L872.51 132.96L872.67 132.86L872.82 132.75L872.97 132.65L873.12 132.55L873.27 132.44L873.42 132.34L873.57 132.24L873.72 132.14L873.87 132.03L874.02 131.93L874.17 131.83L874.32 131.74L874.47 131.64L874.62 131.54L874.77 131.45L874.92 131.36L875.07 131.26L875.23 131.17L875.38 131.09L875.53 131.00L875.68 130.92L875.83 130.83L875.98 130.75L876.13 130.68L876.28 130.60L876.43 130.52L876.58 130.45L876.73 130.38L876.88 130.31L877.03 130.25L877.18 130.18L877.33 130.12L877.48 130.06L877.63 130.01L877.79 129.95L877.94 129.90L878.09 129.85L878.24 129.80L878.39 129.75L878.54 129.71L878.69 129.67L878.84 129.63L878.99 129.59L879.14 129.55L879.29 129.52L879.44 129.49L879.59 129.46L879.74 129.44L879.89 129.41L880.04 129.39L880.20 129.37L880.35 129.36L880.50 129.34L880.65 129.33L880.80 129.32L880.95 129.31L881.10 129.30L881.25 129.30L881.40 129.30L881.55 129.30L881.70 129.30L881.85 129.31L882.00 129.32L882.15 129.33L882.30 129.34L882.45 129.35L882.60 129.36L882.75 129.38L882.90 129.40L883.05 129.42L883.20 129.44L883.35 129.47L883.50 129.50L883.65 129.52L883.80 129.56L883.95 129.59L884.10 129.62L884.25 129.66L884.40 129.70L884.55 129.74L884.70 129.78L884.85 129.82L885.00 129.87L885.15 129.92L885.30 129.97L885.45 130.02L885.60 130.07L885.75 130.13L885.90 130.18L886.05 130.24L886.20 130.30L886.35 130.36L886.50 130.43L886.65 130.49L886.80 130.56L886.95 130.62L887.10 130.69L887.25 130.77L887.40 130.84L887.55 130.91L887.70 130.99L887.85 131.07L888.00 131.15L888.15 131.23L888.30 131.31L888.45 131.39L888.60 131.47L888.75 131.56L888.90 131.65L889.05 131.74L889.20 131.82L889.35 131.92L889.50 132.01L889.65 132.10L889.80 132.19L889.95 132.29L890.10 132.39L890.25 132.48L890.40 132.58L890.55 132.68L890.70 132.78L890.85 132.88L891.00 132.98L891.15 133.09L891.30 133.19L891.45 133.29L891.60 133.40L891.75 133.50L891.90 133.61L892.05 133.72L892.20 133.83L892.35 133.93L892.50 134.04L892.65 134.15L892.80 134.26L892.95 134.37L893.10 134.48L893.25 134.59L893.40 134.70L893.55 134.81L893.70 134.93L893.85 135.04L894.00 135.15L894.15 135.26L894.30 135.38L894.45 135.49L894.60 135.60L894.77 134.99L894.95 134.47L895.12 134.12L895.30 134.00L895.47 134.20L895.63 134.80L895.80 135.86L895.97 137.48L896.13 139.85L896.30 143.40L896.47 139.62L896.63 137.12L896.80 135.44L896.97 134.33L897.13 133.70L897.30 133.50L897.47 133.75L897.63 134.52L897.80 135.89L897.97 138.03L898.13 141.35L898.30 146.90L898.45 141.99L898.60 138.82L898.75 136.60L898.90 135.00L899.05 133.86L899.20 133.09L899.35 132.65L899.50 132.50L899.66 132.70L899.81 133.30L899.97 134.37L900.13 135.99L900.29 138.37L900.44 141.94L900.60 147.90L900.77 140.82L900.94 136.84L901.11 134.25L901.29 132.50L901.46 131.36L901.63 130.71L901.80 130.50L901.95 130.62L902.10 130.98L902.25 131.59L902.40 132.50L902.55 133.74L902.70 135.42L902.85 137.68L903.00 140.84L903.15 145.64L903.30 154.90L903.46 144.82L903.62 139.79L903.78 136.54L903.94 134.22L904.10 132.50L904.26 131.23L904.42 130.31L904.58 129.69L904.74 129.32L904.90 129.20L905.05 129.24L905.20 129.36L905.35 129.57L905.50 129.87L905.65 130.26L905.80 130.75L905.95 131.34L906.10 132.06L906.25 132.92L906.40 133.94L906.55 135.15L906.70 136.61L906.85 138.38L907.00 140.60L907.16 137.59L907.33 135.35L907.49 133.60L907.65 132.22L907.82 131.11L907.98 130.23L908.15 129.55L908.31 129.04L908.47 128.68L908.64 128.47L908.80 128.40L908.96 128.46L909.11 128.62L909.27 128.91L909.43 129.31L909.59 129.85L909.74 130.54L909.90 131.39L910.06 132.43L910.21 133.70L910.37 135.27L910.53 137.23L910.69 139.76L910.84 143.19L911.00 148.40L911.15 142.88L911.31 139.32L911.46 136.73L911.62 134.75L911.77 133.18L911.92 131.92L912.08 130.91L912.23 130.10L912.38 129.47L912.54 128.99L912.69 128.66L912.85 128.46L913.00 128.40L913.16 128.45L913.31 128.60L913.47 128.85L913.63 129.21L913.79 129.68L913.94 130.27L914.10 131.01L914.26 131.90L914.41 132.98L914.57 134.29L914.73 135.89L914.89 137.88L915.04 140.44L915.20 143.90L915.35 140.95L915.51 138.69L915.66 136.89L915.81 135.41L915.97 134.18L916.12 133.15L916.27 132.29L916.43 131.56L916.58 130.96L916.73 130.47L916.89 130.07L917.04 129.78L917.19 129.57L917.35 129.44L917.50 129.40L917.66 129.43L917.81 129.50L917.97 129.63L918.12 129.81L918.28 130.04L918.44 130.33L918.59 130.68L918.75 131.09L918.91 131.57L919.06 132.13L919.22 132.77L919.38 133.50L919.53 134.34L919.69 135.30L919.84 136.41L920.00 137.70L920.16 136.87L920.31 136.13L920.47 135.47L920.62 134.89L920.78 134.37L920.94 133.92L921.09 133.51L921.25 133.16L921.41 132.86L921.56 132.60L921.72 132.38L921.88 132.21L922.03 132.07L922.19 131.98L922.34 131.92L922.50 131.90L922.65 131.90L922.80 131.92L922.95 131.94L923.10 131.97L923.25 132.01L923.40 132.06L923.55 132.12L923.70 132.19L923.85 132.26L924.00 132.34L924.15 132.43L924.30 132.52L924.45 132.62L924.60 132.72L924.75 132.83L924.90 132.94L925.05 133.05L925.20 133.17L925.35 133.28L925.50 133.40L925.65 133.48L925.80 133.56L925.95 133.63L926.10 133.71L926.25 133.78L926.40 133.85L926.55 133.92L926.70 133.99L926.85 134.05L927.00 134.11L927.15 134.16L927.30 134.21L927.45 134.25L927.60 134.29L927.75 134.32L927.90 134.35L928.05 134.37L928.20 134.39L928.35 134.40L928.50 134.40L928.65 134.38L928.81 134.34L928.96 134.26L929.12 134.16L929.27 134.03L929.43 133.88L929.58 133.71L929.74 133.52L929.89 133.32L930.05 133.11L930.20 132.90L930.35 132.69L930.51 132.48L930.66 132.28L930.82 132.09L930.97 131.92L931.13 131.77L931.28 131.64L931.44 131.54L931.59 131.46L931.75 131.42L931.90 131.40L932.05 131.43L932.20 131.51L932.35 131.65L932.50 131.83L932.65 132.06L932.80 132.33L932.95 132.63L933.10 132.95L933.25 133.30L933.40 133.65L933.55 134.00L933.70 134.35L933.85 134.67L934.00 134.97L934.15 135.24L934.30 135.47L934.45 135.65L934.60 135.79L934.75 135.87L934.90 135.90L935.05 135.88L935.20 135.81L935.36 135.69L935.51 135.54L935.66 135.34L935.81 135.11L935.97 134.84L936.12 134.55L936.27 134.24L936.42 133.91L936.57 133.57L936.73 133.23L936.88 132.89L937.03 132.56L937.18 132.25L937.33 131.96L937.49 131.69L937.64 131.46L937.79 131.26L937.94 131.11L938.10 130.99L938.25 130.92L938.40 130.90L938.55 130.92L938.70 130.99L938.85 131.10L939.00 131.26L939.15 131.45L939.30 131.68L939.45 131.93L939.60 132.22L939.75 132.52L939.90 132.83L940.05 133.15L940.20 133.47L940.35 133.78L940.50 134.08L940.65 134.37L940.80 134.62L940.95 134.85L941.10 135.04L941.25 135.20L941.40 135.31L941.55 135.38L941.70 135.40L941.85 135.37L942.00 135.30L942.16 135.18L942.31 135.01L942.46 134.80L942.61 134.55L942.77 134.28L942.92 133.97L943.07 133.65L943.22 133.32L943.38 132.98L943.53 132.65L943.68 132.33L943.83 132.03L943.99 131.75L944.14 131.50L944.29 131.29L944.44 131.12L944.60 131.00L944.75 130.93L944.90 130.90L945.05 130.91L945.20 130.95L945.36 131.01L945.51 131.10L945.66 131.22L945.81 131.36L945.97 131.52L946.12 131.72L946.27 131.95L946.42 132.20L946.58 132.49L946.73 132.81L946.88 133.17L947.03 133.56L947.19 133.99L947.34 134.47L947.49 135.00L947.64 135.58L947.80 136.22L947.95 136.92L948.10 137.70L948.25 136.81L948.41 136.01L948.56 135.28L948.71 134.61L948.87 134.00L949.02 133.43L949.17 132.91L949.33 132.43L949.48 131.99L949.64 131.58L949.79 131.21L949.94 130.86L950.10 130.54L950.25 130.25L950.40 129.98L950.56 129.74L950.71 129.52L950.86 129.32L951.02 129.14L951.17 128.98L951.33 128.84L951.48 128.72L951.63 128.62L951.79 128.54L951.94 128.48L952.09 128.44L952.25 128.41L952.40 128.40L952.55 128.42L952.71 128.47L952.86 128.55L953.02 128.67L953.17 128.82L953.32 129.00L953.48 129.23L953.63 129.49L953.78 129.79L953.94 130.13L954.09 130.52L954.25 130.96L954.40 131.45L954.55 132.00L954.71 132.61L954.86 133.29L955.02 134.06L955.17 134.91L955.32 135.87L955.48 136.96L955.63 138.21L955.78 139.66L955.94 141.36L956.09 143.42L956.25 145.99L956.40 149.40L956.55 145.90L956.70 143.27L956.85 141.17L957.00 139.43L957.15 137.95L957.30 136.67L957.45 135.54L957.60 134.54L957.75 133.65L957.90 132.85L958.05 132.13L958.20 131.48L958.35 130.88L958.50 130.34L958.65 129.85L958.80 129.41L958.95 129.01L959.10 128.65L959.25 128.32L959.40 128.03L959.55 127.77L959.70 127.54L959.85 127.34L960.00 127.16L960.15 127.02L960.30 126.90L960.45 126.81L960.60 126.75L960.75 126.71L960.90 126.70L961.05 126.71L961.20 126.74L961.35 126.80L961.51 126.88L961.66 126.98L961.81 127.10L961.96 127.25L962.11 127.42L962.26 127.62L962.42 127.84L962.57 128.09L962.72 128.37L962.87 128.68L963.02 129.02L963.17 129.40L963.32 129.81L963.48 130.26L963.63 130.75L963.78 131.29L963.93 131.87L964.08 132.52L964.23 133.23L964.38 134.01L964.54 134.87L964.69 135.84L964.84 136.92L964.99 138.14L965.14 139.54L965.29 141.17L965.45 143.11L965.60 145.50L965.75 148.58L965.90 152.90L966.05 148.11L966.20 144.81L966.35 142.29L966.50 140.27L966.65 138.58L966.80 137.14L966.95 135.89L967.10 134.80L967.25 133.82L967.40 132.96L967.55 132.18L967.70 131.47L967.85 130.84L968.00 130.26L968.15 129.74L968.30 129.27L968.45 128.84L968.60 128.45L968.75 128.11L968.90 127.80L969.05 127.52L969.20 127.28L969.35 127.07L969.50 126.89L969.65 126.74L969.80 126.62L969.95 126.52L970.10 126.45L970.25 126.41L970.40 126.40L970.55 126.41L970.70 126.44L970.85 126.50L971.01 126.57L971.16 126.67L971.31 126.79L971.46 126.94L971.61 127.11L971.76 127.30L971.92 127.52L972.07 127.76L972.22 128.04L972.37 128.34L972.52 128.67L972.67 129.04L972.82 129.44L972.98 129.87L973.13 130.35L973.28 130.87L973.43 131.45L973.58 132.07L973.73 132.76L973.88 133.51L974.04 134.35L974.19 135.27L974.34 136.31L974.49 137.48L974.64 138.81L974.79 140.34L974.95 142.16L975.10 144.36L975.25 147.14L975.40 150.90L975.55 147.23L975.71 144.50L975.86 142.33L976.02 140.53L976.17 139.01L976.33 137.68L976.48 136.52L976.63 135.49L976.79 134.56L976.94 133.72L977.10 132.96L977.25 132.27L977.41 131.63L977.56 131.05L977.71 130.52L977.87 130.03L978.02 129.58L978.18 129.16L978.33 128.78L978.49 128.43L978.64 128.11L978.79 127.82L978.95 127.55L979.10 127.31L979.26 127.09L979.41 126.90L979.57 126.73L979.72 126.58L979.87 126.45L980.03 126.34L980.18 126.26L980.34 126.19L980.49 126.14L980.65 126.11L980.80 126.10L980.95 126.11L981.10 126.14L981.25 126.18L981.40 126.25L981.55 126.34L981.70 126.44L981.85 126.56L982.00 126.71L982.15 126.88L982.30 127.06L982.45 127.27L982.60 127.51L982.75 127.76L982.90 128.04L983.05 128.35L983.20 128.69L983.35 129.06L983.50 129.46L983.65 129.89L983.80 130.36L983.95 130.87L984.10 131.43L984.25 132.03L984.40 132.69L984.55 133.42L984.70 134.21L984.85 135.09L985.00 136.06L985.15 137.14L985.30 138.37L985.45 139.77L985.60 141.40L985.75 139.54L985.91 137.96L986.06 136.59L986.22 135.39L986.37 134.32L986.52 133.36L986.68 132.49L986.83 131.70L986.99 130.97L987.14 130.31L987.29 129.69L987.45 129.13L987.60 128.60L987.76 128.12L987.91 127.66L988.06 127.25L988.22 126.86L988.37 126.50L988.53 126.16L988.68 125.85L988.84 125.56L988.99 125.30L989.14 125.06L989.30 124.83L989.45 124.63L989.61 124.44L989.76 124.28L989.91 124.13L990.07 123.99L990.22 123.88L990.38 123.77L990.53 123.69L990.68 123.62L990.84 123.57L990.99 123.53L991.15 123.51L991.30 123.50L991.45 123.51L991.60 123.56L991.76 123.63L991.91 123.74L992.06 123.87L992.21 124.03L992.37 124.22L992.52 124.43L992.67 124.67L992.82 124.94L992.97 125.22L993.13 125.53L993.28 125.86L993.43 126.21L993.58 126.57L993.73 126.96L993.89 127.35L994.04 127.76L994.19 128.17L994.34 128.60L994.50 129.03L994.65 129.46L994.80 129.90L994.95 129.86L995.11 129.82L995.26 129.78L995.42 129.75L995.57 129.71L995.72 129.67L995.88 129.63L996.03 129.59L996.18 129.55L996.34 129.52L996.49 129.48L996.65 129.44L996.80 129.40L996.96 130.40L997.11 131.40L997.27 132.40L997.42 133.40L997.58 134.40L997.74 135.40L997.89 136.40L998.05 137.40L998.21 138.40L998.36 139.40L998.52 140.40L998.67 141.40L998.83 142.40L998.99 143.40L999.14 144.40L999.30 145.40L999.45 141.84L999.60 139.17L999.75 137.05L999.90 135.30L1000.05 133.80L1000.20 132.51L1000.35 131.38L1000.50 130.38L1000.65 129.48L1000.80 128.68L1000.95 127.95L1001.10 127.29L1001.25 126.70L1001.40 126.16L1001.55 125.67L1001.70 125.22L1001.85 124.82L1002.00 124.45L1002.15 124.12L1002.30 123.83L1002.45 123.57L1002.60 123.34L1002.75 123.14L1002.90 122.97L1003.05 122.82L1003.20 122.71L1003.35 122.62L1003.50 122.55L1003.65 122.51L1003.80 122.50L1003.95 122.51L1004.10 122.52L1004.25 122.55L1004.40 122.59L1004.55 122.63L1004.70 122.69L1004.85 122.74L1005.00 122.80" stroke="#0000ff" stroke-width="1.12"/>
<path d="M91.60 62.00L91.85 62.59L92.10 63.60L92.35 64.72L92.60 66.20L92.85 67.81L93.10 69.52L93.35 70.96L93.60 72.14L93.85 73.19L94.10 74.16L94.35 75.08L94.60 75.98L94.85 76.85L95.10 77.65L95.35 78.37L95.60 79.00L95.85 79.55L96.10 80.04L96.35 80.49L96.60 80.91L96.85 81.30L97.10 81.67L97.35 82.04L97.60 82.39L97.85 82.75L98.10 83.10L98.35 83.45L98.60 83.80L98.85 84.15L99.10 84.49L99.35 84.82L99.60 85.14L99.85 85.46L100.00 85.64L101.00 86.79L102.00 87.78L103.00 88.66L104.00 89.46L105.00 90.21L106.00 90.92L107.00 91.61L108.00 92.26L109.00 92.88L110.00 93.47L111.00 94.05L112.00 94.60L113.00 95.14L114.00 95.66L115.00 96.18L116.00 96.69L117.00 97.19L118.00 97.67L119.00 98.14L120.00 98.59L121.00 99.03L122.00 99.45L123.00 99.85L124.00 100.23L125.00 100.59L126.00 100.93L127.00 101.26L128.00 101.57L129.00 101.87L130.00 102.16L131.00 102.43L132.00 102.70L133.00 102.96L134.00 103.21L135.00 103.45L136.00 103.69L137.00 103.92L138.00 104.15L139.00 104.37L140.00 104.59L141.00 104.81L142.00 105.02L143.00 105.23L144.00 105.44L145.00 105.64L146.00 105.84L147.00 106.04L148.00 106.24L149.00 106.44L150.00 106.63L151.00 106.83L152.00 107.02L153.00 107.21L154.00 107.40L155.00 107.59L156.00 107.78L157.00 107.97L158.00 108.15L159.00 108.34L160.00 108.52L161.00 108.70L162.00 108.88L163.00 109.06L164.00 109.23L165.00 109.41L166.00 109.58L167.00 109.75L168.00 109.92L169.00 110.08L170.00 110.24L171.00 110.41L172.00 110.57L173.00 110.72L174.00 110.88L175.00 111.03L176.00 111.18L177.00 111.33L178.00 111.48L179.00 111.63L180.00 111.77L181.00 111.91L182.00 112.05L183.00 112.19L184.00 112.33L185.00 112.46L186.00 112.59L187.00 112.72L188.00 112.85L189.00 112.98L190.00 113.11L191.00 113.23L192.00 113.36L193.00 113.48L194.00 113.60L195.00 113.72L196.00 113.84L197.00 113.96L198.00 114.07L199.00 114.19L200.00 114.30L201.00 114.42L202.00 114.53L203.00 114.64L204.00 114.75L205.00 114.86L206.00 114.97L207.00 115.08L208.00 115.19L209.00 115.30L210.00 115.40L211.00 115.51L212.00 115.62L213.00 115.72L214.00 115.82L215.00 115.93L216.00 116.03L217.00 116.13L218.00 116.23L219.00 116.33L220.00 116.43L221.00 116.53L222.00 116.63L223.00 116.72L224.00 116.82L225.00 116.92L226.00 117.01L227.00 117.10L228.00 117.20L229.00 117.29L230.00 117.38L231.00 117.48L232.00 117.57L233.00 117.66L234.00 117.75L235.00 117.84L236.00 117.93L237.00 118.03L238.00 118.12L239.00 118.21L240.00 118.30L241.00 118.39L242.00 118.48L243.00 118.57L244.00 118.66L245.00 118.75L246.00 118.84L247.00 118.94L248.00 119.03L249.00 119.12L250.00 119.21L251.00 119.30L252.00 119.39L253.00 119.48L254.00 119.58L255.00 119.67L256.00 119.76L257.00 119.85L258.00 119.94L259.00 120.03L260.00 120.12L261.00 120.21L262.00 120.30L263.00 120.39L264.00 120.48L265.00 120.57L266.00 120.66L267.00 120.75L268.00 120.84L269.00 120.93L270.00 121.01L271.00 121.10L272.00 121.19L273.00 121.28L274.00 121.37L275.00 121.45L276.00 121.54L277.00 121.63L278.00 121.71L279.00 121.80L280.00 121.89L281.00 121.97L282.00 122.06L283.00 122.14L284.00 122.23L285.00 122.31L286.00 122.40L287.00 122.48L288.00 122.57L289.00 122.65L290.00 122.73L291.00 122.82L292.00 122.90L293.00 122.98L294.00 123.06L295.00 123.15L296.00 123.23L297.00 123.31L298.00 123.39L299.00 123.47L300.00 123.55L301.00 123.63L302.00 123.71L303.00 123.79L304.00 123.87L305.00 123.95L306.00 124.03L307.00 124.11L308.00 124.18L309.00 124.26L310.00 124.34L311.00 124.42L312.00 124.49L313.00 124.57L314.00 124.65L315.00 124.72L316.00 124.80L317.00 124.87L318.00 124.95L319.00 125.02L320.00 125.09L321.00 125.17L322.00 125.24L323.00 125.31L324.00 125.39L325.00 125.46L326.00 125.53L327.00 125.60L328.00 125.68L329.00 125.75L330.00 125.82L331.00 125.89L332.00 125.96L333.00 126.03L334.00 126.10L335.00 126.17L336.00 126.24L337.00 126.31L338.00 126.37L339.00 126.44L340.00 126.51L341.00 126.58L342.00 126.64L343.00 126.71L344.00 126.78L345.00 126.84L346.00 126.91L347.00 126.97L348.00 127.04L349.00 127.10L350.00 127.17L351.00 127.23L352.00 127.29L353.00 127.36L354.00 127.42L355.00 127.48L356.00 127.54L357.00 127.60L358.00 127.66L359.00 127.72L360.00 127.78L361.00 127.84L362.00 127.90L363.00 127.95L364.00 128.01L365.00 128.07L366.00 128.12L367.00 128.18L368.00 128.24L369.00 128.29L370.00 128.35L371.00 128.40L372.00 128.46L373.00 128.51L374.00 128.57L375.00 128.62L376.00 128.68L377.00 128.73L378.00 128.79L379.00 128.84L380.00 128.89L381.00 128.95L382.00 129.00L383.00 129.05L384.00 129.11L385.00 129.16L386.00 129.21L387.00 129.26L388.00 129.32L389.00 129.37L390.00 129.42L391.00 129.47L392.00 129.53L393.00 129.58L394.00 129.63L395.00 129.68L396.00 129.74L397.00 129.79L398.00 129.84L399.00 129.89L400.00 129.95L401.00 130.00L402.00 130.05L403.00 130.10L404.00 130.16L405.00 130.21L406.00 130.26L407.00 130.31L408.00 130.37L409.00 130.42L410.00 130.47L411.00 130.53L412.00 130.58L413.00 130.63L414.00 130.69L415.00 130.74L416.00 130.79L417.00 130.85L418.00 130.90L419.00 130.95L420.00 131.01L421.00 131.06L422.00 131.12L423.00 131.17L424.00 131.22L425.00 131.28L426.00 131.33L427.00 131.39L428.00 131.44L429.00 131.50L430.00 131.56L431.00 131.61L432.00 131.67L433.00 131.72L434.00 131.78L435.00 131.84L436.00 131.89L437.00 131.95L438.00 132.01L439.00 132.06L440.00 132.12L441.00 132.18L442.00 132.24L443.00 132.30L444.00 132.35L445.00 132.41L446.00 132.47L447.00 132.53L448.00 132.59L449.00 132.65L450.00 132.71L451.00 132.77L452.00 132.83L453.00 132.89L454.00 132.95L455.00 133.01L456.00 133.08L457.00 133.14L458.00 133.21L459.00 133.28L460.00 133.35L461.00 133.42L462.00 133.50L463.00 133.57L464.00 133.65L465.00 133.72L466.00 133.80L467.00 133.88L468.00 133.95L469.00 134.03L470.00 134.10" stroke="#ff0000" stroke-width="0.90"/>
<path d="M470.00 134.10L470.15 134.22L470.30 134.35L470.45 134.47L470.60 134.60L470.76 133.93L470.93 133.48L471.09 133.23L471.25 133.14L471.41 133.25L471.57 133.57L471.74 134.14L471.90 135.00L472.07 133.72L472.25 132.88L472.43 132.40L472.60 132.24L472.78 132.51L472.95 133.36L473.12 134.88L473.30 137.30L473.45 136.15L473.60 135.19L473.75 134.39L473.90 133.72L474.05 133.18L474.20 132.75L474.35 132.43L474.50 132.20L474.65 132.06L474.80 132.02L474.95 132.06L475.10 132.18L475.25 132.38L475.40 132.67L475.55 133.05L475.70 133.52L475.85 134.10L476.00 134.79L476.15 135.62L476.30 136.60L476.46 135.05L476.63 133.86L476.79 132.94L476.96 132.27L477.12 131.80L477.29 131.52L477.45 131.43L477.61 131.58L477.78 132.01L477.94 132.76L478.11 133.87L478.27 135.42L478.44 137.57L478.60 140.60L478.75 138.29L478.90 136.51L479.05 135.09L479.20 133.97L479.35 133.08L479.50 132.38L479.65 131.86L479.80 131.50L479.95 131.29L480.10 131.21L480.25 131.28L480.40 131.47L480.55 131.79L480.70 132.26L480.85 132.87L481.00 133.66L481.15 134.65L481.30 135.87L481.45 137.39L481.60 139.30L481.76 137.13L481.92 135.46L482.08 134.14L482.24 133.11L482.41 132.32L482.57 131.73L482.73 131.32L482.89 131.07L483.05 131.00L483.21 131.10L483.37 131.41L483.53 131.94L483.69 132.72L483.86 133.78L484.02 135.19L484.18 137.04L484.34 139.52L484.50 143.00L484.66 139.95L484.82 137.68L484.98 135.92L485.14 134.52L485.30 133.40L485.45 132.52L485.61 131.83L485.77 131.31L485.93 130.96L486.09 130.74L486.25 130.68L486.41 130.74L486.57 130.94L486.73 131.28L486.89 131.77L487.05 132.42L487.20 133.25L487.36 134.29L487.52 135.59L487.68 137.22L487.84 139.28L488.00 142.00L488.15 139.55L488.31 137.62L488.46 136.07L488.62 134.79L488.77 133.73L488.92 132.86L489.08 132.14L489.23 131.55L489.38 131.09L489.54 130.74L489.69 130.49L489.85 130.35L490.00 130.30L490.15 130.36L490.31 130.53L490.46 130.83L490.62 131.25L490.77 131.80L490.92 132.51L491.08 133.39L491.23 134.48L491.38 135.81L491.54 137.46L491.69 139.53L491.85 142.24L492.00 146.00L492.15 142.60L492.31 140.07L492.46 138.09L492.61 136.48L492.77 135.16L492.92 134.06L493.07 133.14L493.23 132.37L493.38 131.73L493.53 131.21L493.69 130.80L493.84 130.48L493.99 130.26L494.15 130.13L494.30 130.09L494.45 130.13L494.61 130.27L494.76 130.50L494.91 130.83L495.07 131.27L495.22 131.82L495.37 132.49L495.53 133.31L495.68 134.29L495.83 135.46L495.99 136.89L496.14 138.63L496.29 140.80L496.45 143.64L496.60 147.60L496.76 143.76L496.92 140.98L497.08 138.83L497.24 137.11L497.40 135.68L497.56 134.50L497.72 133.50L497.88 132.66L498.03 131.95L498.19 131.36L498.35 130.88L498.51 130.50L498.67 130.21L498.83 130.00L498.99 129.88L499.15 129.84L499.30 129.88L499.45 129.98L499.60 130.16L499.75 130.41L499.90 130.75L500.05 131.16L500.20 131.66L500.35 132.26L500.50 132.98L500.65 133.81L500.80 134.79L500.95 135.95L501.10 137.32L501.25 138.96L501.40 140.98L501.55 143.55L501.70 147.00L501.85 143.98L502.01 141.66L502.16 139.78L502.32 138.22L502.47 136.90L502.63 135.77L502.78 134.79L502.94 133.94L503.09 133.19L503.25 132.54L503.40 131.98L503.56 131.49L503.71 131.07L503.87 130.72L504.02 130.42L504.18 130.19L504.33 130.01L504.49 129.88L504.64 129.80L504.80 129.78L504.95 129.80L505.11 129.88L505.26 130.01L505.42 130.19L505.57 130.43L505.73 130.72L505.88 131.08L506.04 131.50L506.19 131.99L506.35 132.56L506.50 133.22L506.66 133.96L506.81 134.82L506.97 135.81L507.12 136.95L507.28 138.29L507.44 139.86L507.59 141.76L507.75 144.12L507.90 147.20L508.05 144.36L508.21 142.14L508.36 140.33L508.52 138.81L508.67 137.51L508.83 136.39L508.98 135.41L509.14 134.55L509.29 133.79L509.45 133.12L509.60 132.53L509.75 132.01L509.91 131.56L510.06 131.16L510.22 130.82L510.37 130.52L510.53 130.28L510.68 130.09L510.84 129.94L510.99 129.83L511.15 129.76L511.30 129.74L511.45 129.77L511.61 129.85L511.76 129.98L511.92 130.17L512.07 130.42L512.23 130.72L512.38 131.09L512.54 131.53L512.69 132.04L512.85 132.63L513.00 133.31L513.15 134.10L513.31 135.00L513.46 136.04L513.62 137.24L513.77 138.65L513.93 140.34L514.08 142.39L514.24 144.98L514.39 148.45L514.55 153.64L514.70 163.90L514.85 154.92L515.00 150.07L515.16 146.74L515.31 144.21L515.46 142.19L515.61 140.51L515.76 139.09L515.91 137.86L516.07 136.78L516.22 135.84L516.37 135.00L516.52 134.25L516.67 133.58L516.83 132.99L516.98 132.46L517.13 131.99L517.28 131.57L517.43 131.20L517.59 130.87L517.74 130.59L517.89 130.35L518.04 130.15L518.19 129.99L518.34 129.86L518.50 129.78L518.65 129.72L518.80 129.71L518.95 129.72L519.10 129.77L519.26 129.84L519.41 129.95L519.56 130.09L519.71 130.26L519.86 130.46L520.01 130.70L520.17 130.97L520.32 131.28L520.47 131.64L520.62 132.03L520.77 132.47L520.93 132.96L521.08 133.51L521.23 134.11L521.38 134.79L521.53 135.53L521.69 136.37L521.84 137.31L521.99 138.37L522.14 139.57L522.29 140.95L522.44 142.58L522.60 144.51L522.75 146.90L522.90 150.00L523.05 147.37L523.21 145.27L523.36 143.52L523.52 142.03L523.67 140.74L523.83 139.61L523.98 138.60L524.14 137.69L524.29 136.87L524.45 136.13L524.60 135.46L524.76 134.84L524.91 134.28L525.07 133.77L525.22 133.30L525.38 132.87L525.53 132.47L525.68 132.11L525.84 131.78L525.99 131.49L526.15 131.22L526.30 130.98L526.46 130.76L526.61 130.57L526.77 130.40L526.92 130.26L527.08 130.14L527.23 130.04L527.39 129.97L527.54 129.91L527.70 129.88L527.85 129.87L528.00 129.88L528.15 129.91L528.30 129.96L528.45 130.04L528.60 130.13L528.75 130.25L528.90 130.39L529.05 130.55L529.20 130.73L529.35 130.94L529.50 131.17L529.65 131.43L529.80 131.72L529.95 132.03L530.10 132.38L530.25 132.76L530.40 133.18L530.55 133.63L530.70 134.12L530.85 134.66L531.00 135.24L531.15 135.89L531.30 136.59L531.45 137.37L531.60 138.22L531.75 139.17L531.90 140.23L532.05 141.43L532.20 142.80L532.35 144.39L532.50 146.27L532.65 148.57L532.80 151.50L532.95 149.02L533.10 147.02L533.25 145.33L533.40 143.88L533.55 142.62L533.70 141.49L533.85 140.49L534.00 139.58L534.15 138.76L534.30 138.01L534.45 137.32L534.60 136.68L534.75 136.09L534.90 135.55L535.05 135.04L535.20 134.58L535.35 134.14L535.50 133.74L535.65 133.36L535.80 133.01L535.95 132.69L536.10 132.39L536.25 132.11L536.40 131.86L536.55 131.62L536.70 131.40L536.85 131.20L537.00 131.02L537.15 130.86L537.30 130.72L537.45 130.59L537.60 130.47L537.75 130.38L537.90 130.29L538.05 130.23L538.20 130.17L538.35 130.14L538.50 130.12L538.65 130.11L538.80 130.11L538.95 130.14L539.10 130.17L539.25 130.22L539.40 130.28L539.55 130.35L539.70 130.44L539.85 130.55L540.00 130.67L540.15 130.80L540.30 130.95L540.45 131.12L540.60 131.30L540.75 131.50L540.90 131.71L541.05 131.95L541.20 132.20L541.35 132.48L541.50 132.77L541.65 133.09L541.80 133.43L541.95 133.79L542.10 134.18L542.25 134.60L542.40 135.05L542.55 135.54L542.70 136.06L542.85 136.62L543.00 137.22L543.15 137.88L543.30 138.59L543.45 139.36L543.60 140.21L543.75 141.14L543.90 142.18L544.05 143.33L544.20 144.64L544.35 146.14L544.50 147.90L544.65 146.55L544.80 145.35L544.95 144.28L545.10 143.31L545.25 142.43L545.40 141.62L545.55 140.87L545.70 140.18L545.85 139.53L546.00 138.94L546.15 138.37L546.30 137.85L546.45 137.35L546.60 136.89L546.75 136.45L546.90 136.04L547.05 135.65L547.20 135.28L547.35 134.93L547.50 134.60L547.65 134.29L547.80 133.99L547.95 133.71L548.10 133.44L548.25 133.19L548.40 132.95L548.55 132.73L548.70 132.52L548.85 132.32L549.00 132.13L549.15 131.95L549.30 131.79L549.45 131.63L549.60 131.49L549.75 131.35L549.90 131.22L550.05 131.11L550.20 131.00L550.35 130.90L550.50 130.82L550.65 130.74L550.80 130.66L550.95 130.60L551.10 130.55L551.25 130.50L551.40 130.47L551.55 130.44L551.70 130.42L551.85 130.40L552.00 130.40L552.15 130.40L552.30 130.42L552.45 130.44L552.60 130.46L552.75 130.50L552.90 130.54L553.05 130.60L553.20 130.66L553.35 130.73L553.50 130.80L553.65 130.89L553.80 130.98L553.95 131.09L554.10 131.20L554.25 131.32L554.40 131.45L554.55 131.59L554.70 131.74L554.85 131.91L555.00 132.08L555.15 132.26L555.30 132.45L555.45 132.66L555.60 132.88L555.75 133.10L555.90 133.35L556.05 133.60L556.20 133.87L556.35 134.16L556.50 134.46L556.65 134.78L556.80 135.11L556.95 135.47L557.10 135.84L557.25 136.24L557.40 136.66L557.55 137.10L557.70 137.57L557.85 138.07L558.00 138.60L558.15 139.17L558.30 139.78L558.45 140.43L558.60 141.13L558.75 141.89L558.90 142.71L559.05 143.61L559.20 144.59L559.35 145.68L559.50 146.90L559.65 145.85L559.80 144.90L559.96 144.03L560.11 143.22L560.26 142.48L560.41 141.80L560.56 141.16L560.71 140.56L560.87 140.00L561.02 139.47L561.17 138.97L561.32 138.50L561.47 138.06L561.63 137.64L561.78 137.24L561.93 136.86L562.08 136.50L562.23 136.16L562.39 135.84L562.54 135.53L562.69 135.23L562.84 134.96L562.99 134.69L563.14 134.44L563.30 134.19L563.45 133.97L563.60 133.75L563.75 133.54L563.90 133.34L564.06 133.16L564.21 132.98L564.36 132.81L564.51 132.65L564.66 132.50L564.81 132.36L564.97 132.23L565.12 132.10L565.27 131.99L565.42 131.88L565.57 131.78L565.73 131.68L565.88 131.60L566.03 131.52L566.18 131.45L566.33 131.38L566.49 131.32L566.64 131.27L566.79 131.23L566.94 131.19L567.09 131.16L567.24 131.14L567.40 131.12L567.55 131.11L567.70 131.11L567.85 131.11L568.00 131.12L568.16 131.14L568.31 131.16L568.46 131.19L568.61 131.23L568.76 131.27L568.91 131.32L569.07 131.38L569.22 131.44L569.37 131.51L569.52 131.59L569.67 131.67L569.83 131.77L569.98 131.87L570.13 131.97L570.28 132.09L570.43 132.21L570.59 132.34L570.74 132.48L570.89 132.63L571.04 132.78L571.19 132.95L571.34 133.12L571.50 133.30L571.65 133.50L571.80 133.70L571.95 133.91L572.10 134.14L572.26 134.37L572.41 134.62L572.56 134.88L572.71 135.15L572.86 135.44L573.01 135.74L573.17 136.06L573.32 136.39L573.47 136.74L573.62 137.11L573.77 137.50L573.93 137.91L574.08 138.34L574.23 138.79L574.38 139.28L574.53 139.79L574.69 140.33L574.84 140.91L574.99 141.53L575.14 142.19L575.29 142.90L575.44 143.67L575.60 144.50L575.75 145.40L575.90 146.40L576.05 145.56L576.20 144.79L576.35 144.08L576.50 143.41L576.65 142.79L576.80 142.20L576.95 141.65L577.10 141.13L577.25 140.64L577.40 140.17L577.55 139.73L577.70 139.31L577.85 138.92L578.00 138.54L578.15 138.18L578.30 137.83L578.45 137.50L578.60 137.19L578.75 136.89L578.90 136.60L579.05 136.33L579.20 136.06L579.35 135.81L579.50 135.57L579.65 135.34L579.80 135.12L579.95 134.91L580.10 134.71L580.25 134.52L580.40 134.33L580.55 134.16L580.70 133.99L580.85 133.83L581.00 133.68L581.15 133.53L581.30 133.39L581.45 133.26L581.60 133.14L581.75 133.02L581.90 132.91L582.05 132.80L582.20 132.71L582.35 132.61L582.50 132.53L582.65 132.45L582.80 132.37L582.95 132.30L583.10 132.24L583.25 132.18L583.40 132.13L583.55 132.09L583.70 132.05L583.85 132.01L584.00 131.98L584.15 131.96L584.30 131.94L584.45 131.93L584.60 131.92L584.75 131.92L584.90 131.92L585.05 131.93L585.20 131.94L585.35 131.96L585.50 131.98L585.65 132.01L585.80 132.05L585.95 132.09L586.10 132.14L586.25 132.19L586.40 132.25L586.55 132.32L586.70 132.39L586.85 132.46L587.00 132.54L587.15 132.63L587.30 132.73L587.45 132.83L587.60 132.94L587.75 133.05L587.90 133.17L588.05 133.30L588.20 133.43L588.35 133.58L588.50 133.72L588.65 133.88L588.80 134.05L588.95 134.22L589.10 134.40L589.25 134.59L589.40 134.79L589.55 135.00L589.70 135.21L589.85 135.44L590.00 135.68L590.15 135.93L590.30 136.19L590.45 136.46L590.60 136.75L590.75 137.04L590.90 137.36L591.05 137.68L591.20 138.02L591.35 138.38L591.50 138.76L591.65 139.16L591.80 139.57L591.95 140.01L592.10 140.47L592.25 140.96L592.40 141.48L592.55 142.02L592.70 142.60L592.85 143.23L593.00 143.89L593.15 144.60L593.30 145.37L593.45 146.20L593.60 147.10L593.75 146.22L593.91 145.40L594.06 144.65L594.21 143.95L594.36 143.30L594.52 142.69L594.67 142.12L594.82 141.59L594.97 141.08L595.13 140.60L595.28 140.15L595.43 139.72L595.59 139.32L595.74 138.93L595.89 138.57L596.04 138.22L596.20 137.88L596.35 137.57L596.50 137.27L596.65 136.98L596.81 136.70L596.96 136.44L597.11 136.19L597.27 135.95L597.42 135.73L597.57 135.51L597.72 135.30L597.88 135.11L598.03 134.92L598.18 134.74L598.33 134.57L598.49 134.41L598.64 134.26L598.79 134.11L598.95 133.98L599.10 133.85L599.25 133.73L599.40 133.62L599.56 133.51L599.71 133.41L599.86 133.32L600.01 133.23L600.17 133.15L600.32 133.08L600.47 133.02L600.63 132.96L600.78 132.90L600.93 132.86L601.08 132.82L601.24 132.78L601.39 132.76L601.54 132.73L601.69 132.72L601.85 132.71L602.00 132.71L602.15 132.71L602.31 132.72L602.46 132.74L602.61 132.76L602.76 132.79L602.92 132.82L603.07 132.86L603.22 132.91L603.37 132.97L603.53 133.03L603.68 133.10L603.83 133.17L603.99 133.26L604.14 133.35L604.29 133.44L604.44 133.55L604.60 133.66L604.75 133.78L604.90 133.91L605.05 134.04L605.21 134.19L605.36 134.34L605.51 134.50L605.67 134.67L605.82 134.85L605.97 135.03L606.12 135.23L606.28 135.44L606.43 135.66L606.58 135.89L606.73 136.13L606.89 136.38L607.04 136.65L607.19 136.93L607.35 137.22L607.50 137.53L607.65 137.85L607.80 138.19L607.96 138.54L608.11 138.92L608.26 139.31L608.41 139.73L608.57 140.17L608.72 140.63L608.87 141.12L609.03 141.64L609.18 142.20L609.33 142.79L609.48 143.41L609.64 144.09L609.79 144.81L609.94 145.60L610.09 146.45L610.25 147.38L610.40 148.40L610.55 147.36L610.70 146.41L610.86 145.55L611.01 144.76L611.16 144.02L611.31 143.35L611.46 142.71L611.62 142.12L611.77 141.57L611.92 141.05L612.07 140.57L612.23 140.11L612.38 139.68L612.53 139.27L612.68 138.88L612.83 138.52L612.99 138.18L613.14 137.85L613.29 137.54L613.44 137.25L613.59 136.97L613.75 136.71L613.90 136.46L614.05 136.22L614.20 136.00L614.35 135.79L614.51 135.59L614.66 135.41L614.81 135.23L614.96 135.07L615.11 134.91L615.27 134.77L615.42 134.64L615.57 134.51L615.72 134.40L615.88 134.29L616.03 134.19L616.18 134.11L616.33 134.03L616.48 133.96L616.64 133.89L616.79 133.84L616.94 133.80L617.09 133.76L617.24 133.73L617.40 133.71L617.55 133.70L617.70 133.69L617.85 133.70L618.00 133.71L618.16 133.73L618.31 133.76L618.46 133.80L618.61 133.85L618.76 133.90L618.92 133.97L619.07 134.04L619.22 134.12L619.37 134.22L619.53 134.32L619.68 134.43L619.83 134.55L619.98 134.68L620.13 134.82L620.29 134.97L620.44 135.13L620.59 135.31L620.74 135.49L620.89 135.69L621.05 135.90L621.20 136.12L621.35 136.35L621.50 136.60L621.65 136.86L621.81 137.14L621.96 137.43L622.11 137.75L622.26 138.07L622.41 138.42L622.57 138.79L622.72 139.18L622.87 139.59L623.02 140.03L623.17 140.49L623.33 140.98L623.48 141.51L623.63 142.07L623.78 142.67L623.94 143.31L624.09 144.00L624.24 144.75L624.39 145.56L624.54 146.45L624.70 147.42L624.85 148.50L625.00 149.70L625.15 148.43L625.30 147.31L625.46 146.30L625.61 145.38L625.76 144.54L625.91 143.78L626.07 143.07L626.22 142.42L626.37 141.81L626.52 141.25L626.68 140.72L626.83 140.23L626.98 139.77L627.13 139.34L627.29 138.93L627.44 138.55L627.59 138.19L627.74 137.86L627.90 137.54L628.05 137.25L628.20 136.97L628.35 136.71L628.50 136.47L628.66 136.24L628.81 136.03L628.96 135.83L629.11 135.65L629.27 135.48L629.42 135.32L629.57 135.18L629.72 135.05L629.88 134.93L630.03 134.83L630.18 134.73L630.33 134.65L630.49 134.58L630.64 134.52L630.79 134.47L630.94 134.43L631.10 134.40L631.25 134.39L631.40 134.38L631.55 134.39L631.70 134.40L631.86 134.43L632.01 134.47L632.16 134.52L632.31 134.59L632.47 134.66L632.62 134.75L632.77 134.85L632.92 134.96L633.08 135.08L633.23 135.22L633.38 135.37L633.53 135.53L633.69 135.71L633.84 135.90L633.99 136.11L634.14 136.33L634.30 136.57L634.45 136.82L634.60 137.10L634.75 137.39L634.90 137.70L635.06 138.03L635.21 138.38L635.36 138.76L635.51 139.16L635.67 139.59L635.82 140.05L635.97 140.54L636.12 141.07L636.28 141.63L636.43 142.24L636.58 142.89L636.73 143.60L636.89 144.37L637.04 145.21L637.19 146.13L637.34 147.14L637.50 148.27L637.65 149.55L637.80 151.00L637.95 149.50L638.10 148.19L638.25 147.03L638.41 146.00L638.56 145.07L638.71 144.23L638.86 143.46L639.01 142.75L639.16 142.10L639.31 141.50L639.47 140.95L639.62 140.44L639.77 139.96L639.92 139.52L640.07 139.11L640.22 138.73L640.37 138.38L640.52 138.05L640.68 137.74L640.83 137.46L640.98 137.20L641.13 136.96L641.28 136.74L641.43 136.54L641.58 136.36L641.74 136.19L641.89 136.05L642.04 135.92L642.19 135.80L642.34 135.70L642.49 135.62L642.64 135.55L642.80 135.50L642.95 135.46L643.10 135.44L643.25 135.43L643.40 135.44L643.55 135.46L643.70 135.50L643.86 135.56L644.01 135.63L644.16 135.72L644.31 135.82L644.46 135.95L644.61 136.09L644.76 136.24L644.92 136.42L645.07 136.61L645.22 136.83L645.37 137.06L645.52 137.32L645.67 137.60L645.82 137.90L645.98 138.23L646.13 138.58L646.28 138.96L646.43 139.38L646.58 139.82L646.73 140.30L646.88 140.82L647.03 141.38L647.19 141.99L647.34 142.65L647.49 143.37L647.64 144.15L647.79 145.02L647.94 145.97L648.09 147.03L648.25 148.23L648.40 149.58L648.55 151.15L648.70 153.00L648.85 151.24L649.00 149.75L649.15 148.44L649.31 147.30L649.46 146.27L649.61 145.35L649.76 144.52L649.91 143.77L650.06 143.08L650.22 142.45L650.37 141.86L650.52 141.33L650.67 140.84L650.82 140.38L650.97 139.97L651.12 139.58L651.28 139.23L651.43 138.90L651.58 138.60L651.73 138.33L651.88 138.08L652.03 137.85L652.18 137.65L652.34 137.47L652.49 137.31L652.64 137.17L652.79 137.05L652.94 136.94L653.09 136.86L653.25 136.80L653.40 136.75L653.55 136.72L653.70 136.71L653.85 136.72L654.00 136.75L654.15 136.80L654.31 136.87L654.46 136.96L654.61 137.07L654.76 137.20L654.91 137.36L655.06 137.53L655.22 137.73L655.37 137.95L655.52 138.20L655.67 138.47L655.82 138.77L655.97 139.10L656.12 139.46L656.28 139.85L656.43 140.27L656.58 140.74L656.73 141.24L656.88 141.79L657.03 142.39L657.18 143.04L657.34 143.76L657.49 144.55L657.64 145.42L657.79 146.39L657.94 147.47L658.09 148.69L658.25 150.09L658.40 151.71L658.55 153.64L658.70 156.00L658.85 153.35L659.00 151.24L659.16 149.50L659.31 148.02L659.46 146.74L659.61 145.62L659.76 144.63L659.91 143.75L660.07 142.96L660.22 142.25L660.37 141.61L660.52 141.04L660.67 140.52L660.83 140.05L660.98 139.62L661.13 139.25L661.28 138.91L661.43 138.61L661.59 138.35L661.74 138.12L661.89 137.92L662.04 137.76L662.19 137.63L662.34 137.52L662.50 137.45L662.65 137.41L662.80 137.39L662.95 137.41L663.10 137.45L663.26 137.53L663.41 137.63L663.56 137.76L663.71 137.93L663.86 138.13L664.01 138.36L664.17 138.63L664.32 138.93L664.47 139.27L664.62 139.65L664.77 140.08L664.93 140.56L665.08 141.08L665.23 141.67L665.38 142.32L665.53 143.04L665.69 143.84L665.84 144.74L665.99 145.75L666.14 146.90L666.29 148.21L666.44 149.73L666.60 151.53L666.75 153.72L666.90 156.50L667.05 153.72L667.21 151.52L667.36 149.73L667.52 148.21L667.67 146.91L667.82 145.77L667.98 144.78L668.13 143.89L668.29 143.11L668.44 142.40L668.59 141.78L668.75 141.21L668.90 140.71L669.06 140.26L669.21 139.86L669.36 139.51L669.52 139.20L669.67 138.93L669.83 138.70L669.98 138.51L670.13 138.36L670.29 138.24L670.44 138.15L670.60 138.10L670.75 138.09L670.90 138.11L671.06 138.16L671.21 138.26L671.37 138.40L671.52 138.57L671.67 138.79L671.83 139.05L671.98 139.36L672.14 139.72L672.29 140.13L672.44 140.59L672.60 141.11L672.75 141.71L672.91 142.37L673.06 143.12L673.21 143.96L673.37 144.92L673.52 146.01L673.68 147.26L673.83 148.72L673.98 150.45L674.14 152.54L674.29 155.18L674.45 158.71L674.60 164.00L674.75 158.79L674.90 155.29L675.06 152.68L675.21 150.60L675.36 148.89L675.51 147.45L675.66 146.21L675.82 145.13L675.97 144.19L676.12 143.36L676.27 142.62L676.42 141.98L676.58 141.40L676.73 140.90L676.88 140.45L677.03 140.07L677.19 139.73L677.34 139.45L677.49 139.21L677.64 139.02L677.79 138.87L677.95 138.77L678.10 138.71L678.25 138.69L678.40 138.71L678.55 138.79L678.71 138.91L678.86 139.08L679.01 139.31L679.16 139.59L679.31 139.93L679.47 140.33L679.62 140.80L679.77 141.33L679.92 141.94L680.08 142.63L680.23 143.43L680.38 144.33L680.53 145.35L680.68 146.53L680.84 147.89L680.99 149.49L681.14 151.39L681.29 153.71L681.44 156.66L681.60 160.66L681.75 166.81L681.90 180.40L682.05 166.33L682.21 160.16L682.36 156.19L682.52 153.27L682.67 150.98L682.83 149.12L682.98 147.56L683.14 146.24L683.29 145.11L683.45 144.12L683.60 143.27L683.75 142.53L683.91 141.89L684.06 141.33L684.22 140.86L684.37 140.45L684.53 140.12L684.68 139.86L684.84 139.65L684.99 139.51L685.15 139.42L685.30 139.39L685.45 139.41L685.61 139.49L685.76 139.61L685.92 139.78L686.07 140.01L686.23 140.29L686.38 140.63L686.54 141.03L686.69 141.49L686.85 142.03L687.00 142.64L687.15 143.35L687.31 144.15L687.46 145.07L687.62 146.13L687.77 147.35L687.93 148.79L688.08 150.49L688.24 152.57L688.39 155.19L688.55 158.71L688.70 164.00L688.85 158.73L689.00 155.22L689.16 152.61L689.31 150.54L689.46 148.85L689.61 147.43L689.77 146.21L689.92 145.17L690.07 144.27L690.22 143.48L690.38 142.80L690.53 142.21L690.68 141.69L690.83 141.26L690.99 140.88L691.14 140.58L691.29 140.33L691.44 140.14L691.60 140.01L691.75 139.93L691.90 139.90L692.05 139.92L692.20 140.00L692.36 140.12L692.51 140.30L692.66 140.52L692.81 140.81L692.97 141.15L693.12 141.55L693.27 142.02L693.42 142.56L693.58 143.18L693.73 143.89L693.88 144.70L694.03 145.62L694.19 146.69L694.34 147.93L694.49 149.38L694.64 151.11L694.80 153.22L694.95 155.89L695.10 159.50L695.25 156.00L695.40 153.39L695.55 151.32L695.70 149.63L695.85 148.21L696.00 147.00L696.15 145.96L696.30 145.05L696.45 144.27L696.60 143.59L696.75 142.99L696.90 142.48L697.05 142.04L697.20 141.67L697.35 141.36L697.50 141.12L697.65 140.93L697.80 140.79L697.95 140.71L698.10 140.69L698.25 140.72L698.40 140.80L698.55 140.95L698.70 141.15L698.85 141.42L699.00 141.75L699.15 142.16L699.30 142.63L699.45 143.19L699.60 143.84L699.75 144.59L699.90 145.46L700.05 146.47L700.20 147.64L700.35 149.02L700.50 150.66L700.65 152.65L700.80 155.16L700.95 158.50L701.10 163.40L701.25 158.37L701.41 154.98L701.56 152.45L701.71 150.45L701.86 148.82L702.02 147.46L702.17 146.31L702.32 145.34L702.48 144.51L702.63 143.80L702.78 143.20L702.93 142.70L703.09 142.29L703.24 141.96L703.39 141.71L703.54 141.53L703.70 141.43L703.85 141.39L704.00 141.42L704.16 141.51L704.31 141.65L704.46 141.85L704.61 142.12L704.77 142.44L704.92 142.84L705.07 143.31L705.23 143.86L705.38 144.50L705.53 145.24L705.68 146.09L705.84 147.07L705.99 148.22L706.14 149.56L706.29 151.15L706.45 153.09L706.60 155.50L706.75 153.32L706.90 151.55L707.05 150.06L707.20 148.80L707.35 147.71L707.50 146.76L707.65 145.94L707.80 145.22L707.95 144.59L708.10 144.04L708.25 143.57L708.40 143.16L708.55 142.81L708.70 142.53L708.85 142.30L709.00 142.12L709.15 142.00L709.30 141.92L709.45 141.90L709.61 141.93L709.77 142.02L709.93 142.18L710.08 142.41L710.24 142.71L710.40 143.08L710.56 143.53L710.72 144.07L710.88 144.70L711.03 145.43L711.19 146.29L711.35 147.29L711.51 148.46L711.67 149.84L711.82 151.49L711.98 153.51L712.14 156.07L712.30 159.50L712.45 156.24L712.61 153.78L712.76 151.82L712.91 150.21L713.06 148.87L713.22 147.72L713.37 146.74L713.52 145.90L713.67 145.18L713.83 144.56L713.98 144.03L714.13 143.59L714.29 143.22L714.44 142.93L714.59 142.71L714.74 142.55L714.90 142.45L715.05 142.42L715.20 142.45L715.36 142.54L715.51 142.70L715.66 142.92L715.81 143.20L715.97 143.55L716.12 143.98L716.27 144.49L716.42 145.09L716.58 145.78L716.73 146.59L716.88 147.53L717.04 148.62L717.19 149.91L717.34 151.43L717.49 153.26L717.65 155.54L717.80 158.50L717.95 155.54L718.11 153.26L718.26 151.43L718.41 149.92L718.56 148.65L718.72 147.58L718.87 146.66L719.02 145.87L719.18 145.20L719.33 144.63L719.48 144.16L719.64 143.76L719.79 143.45L719.94 143.21L720.09 143.04L720.25 142.94L720.40 142.90L720.55 142.94L720.71 143.04L720.86 143.22L721.01 143.48L721.16 143.81L721.32 144.22L721.47 144.72L721.62 145.32L721.78 146.03L721.93 146.86L722.08 147.84L722.24 149.00L722.39 150.36L722.54 152.00L722.69 154.02L722.85 156.57L723.00 160.00L723.16 156.42L723.32 153.79L723.48 151.73L723.64 150.06L723.80 148.69L723.96 147.53L724.12 146.56L724.27 145.74L724.43 145.05L724.59 144.48L724.75 144.01L724.91 143.64L725.07 143.35L725.23 143.15L725.39 143.03L725.55 142.99L725.70 143.02L725.85 143.10L726.00 143.23L726.15 143.41L726.30 143.66L726.45 143.96L726.60 144.32L726.75 144.75L726.90 145.25L727.05 145.82L727.20 146.49L727.35 147.25L727.50 148.13L727.65 149.14L727.80 150.31L727.95 151.68L728.10 153.30L728.26 151.46L728.42 149.94L728.58 148.67L728.74 147.59L728.90 146.67L729.06 145.88L729.22 145.20L729.38 144.63L729.54 144.16L729.70 143.76L729.86 143.45L730.02 143.20L730.18 143.03L730.34 142.93L730.50 142.90L730.66 143.03L730.81 143.43L730.97 144.08L731.12 144.95L731.28 146.01L731.44 147.22L731.59 148.53L731.75 149.90L731.91 151.27L732.06 152.58L732.22 153.79L732.38 154.85L732.53 155.72L732.69 156.37L732.84 156.77L733.00 156.90L733.16 156.77L733.31 156.37L733.47 155.73L733.62 154.86L733.78 153.81L733.94 152.61L734.09 151.31L734.25 149.95L734.41 148.59L734.56 147.29L734.72 146.09L734.88 145.04L735.03 144.17L735.19 143.53L735.34 143.13L735.50 143.00L735.66 143.08L735.81 143.32L735.97 143.71L736.12 144.23L736.28 144.87L736.44 145.59L736.59 146.38L736.75 147.20L736.91 148.02L737.06 148.81L737.22 149.53L737.38 150.17L737.53 150.69L737.69 151.08L737.84 151.32L738.00 151.40L738.15 151.30L738.31 150.99L738.46 150.49L738.62 149.85L738.77 149.08L738.92 148.23L739.08 147.37L739.23 146.52L739.38 145.75L739.54 145.11L739.69 144.61L739.85 144.30L740.00 144.20L740.16 144.29L740.31 144.55L740.47 144.98L740.62 145.55L740.78 146.24L740.94 147.04L741.09 147.90L741.25 148.80L741.41 149.70L741.56 150.56L741.72 151.36L741.88 152.05L742.03 152.62L742.19 153.05L742.34 153.31L742.50 153.40L742.66 153.32L742.81 153.09L742.97 152.71L743.12 152.20L743.28 151.58L743.44 150.87L743.59 150.10L743.75 149.30L743.91 148.50L744.06 147.73L744.22 147.02L744.38 146.40L744.53 145.89L744.69 145.51L744.84 145.28L745.00 145.20L745.16 145.31L745.32 145.64L745.48 146.17L745.64 146.89L745.80 147.75L745.96 148.72L746.12 149.77L746.28 150.83L746.44 151.88L746.60 152.85L746.76 153.71L746.92 154.43L747.08 154.96L747.24 155.29L747.40 155.40L747.56 155.31L747.71 155.05L747.87 154.62L748.02 154.05L748.18 153.36L748.34 152.56L748.49 151.70L748.65 150.80L748.81 149.90L748.96 149.04L749.12 148.24L749.27 147.55L749.43 146.98L749.59 146.55L749.74 146.29L749.90 146.20L750.05 146.29L750.21 146.56L750.36 146.98L750.52 147.54L750.67 148.20L750.82 148.93L750.98 149.67L751.13 150.40L751.28 151.06L751.44 151.62L751.59 152.04L751.75 152.31L751.90 152.40L752.06 152.34L752.21 152.17L752.37 151.89L752.52 151.52L752.68 151.07L752.84 150.55L752.99 149.99L753.15 149.40L753.31 148.81L753.46 148.25L753.62 147.73L753.77 147.28L753.93 146.91L754.09 146.63L754.24 146.46L754.40 146.40L754.56 146.45L754.71 146.61L754.87 146.86L755.02 147.21L755.18 147.62L755.34 148.10L755.49 148.61L755.65 149.15L755.81 149.69L755.96 150.20L756.12 150.68L756.27 151.09L756.43 151.44L756.59 151.69L756.74 151.85L756.90 151.90L757.06 151.85L757.21 151.69L757.37 151.44L757.52 151.09L757.68 150.68L757.84 150.20L757.99 149.69L758.15 149.15L758.31 148.61L758.46 148.10L758.62 147.62L758.77 147.21L758.93 146.86L759.09 146.61L759.24 146.45L759.40 146.40L759.56 146.46L759.71 146.65L759.87 146.95L760.02 147.35L760.18 147.84L760.34 148.41L760.49 149.02L760.65 149.65L760.81 150.28L760.96 150.89L761.12 151.46L761.27 151.95L761.43 152.35L761.59 152.65L761.74 152.84L761.90 152.90L762.05 152.80L762.21 152.52L762.36 152.06L762.52 151.45L762.67 150.74L762.82 149.95L762.98 149.15L763.13 148.36L763.28 147.65L763.44 147.04L763.59 146.58L763.75 146.30L763.90 146.20L764.06 146.29L764.21 146.57L764.37 147.02L764.52 147.62L764.68 148.36L764.84 149.19L764.99 150.10L765.15 151.05L765.31 152.00L765.46 152.91L765.62 153.74L765.77 154.48L765.93 155.08L766.09 155.53L766.24 155.81L766.40 155.90L766.56 155.81L766.71 155.54L766.87 155.10L767.02 154.51L767.18 153.79L767.34 152.97L767.49 152.08L767.65 151.15L767.81 150.22L767.96 149.33L768.12 148.51L768.27 147.79L768.43 147.20L768.59 146.76L768.74 146.49L768.90 146.40L769.05 146.49L769.21 146.77L769.36 147.22L769.52 147.80L769.67 148.50L769.82 149.26L769.98 150.04L770.13 150.80L770.28 151.50L770.44 152.08L770.59 152.53L770.75 152.81L770.90 152.90L771.06 152.84L771.21 152.65L771.37 152.35L771.52 151.95L771.68 151.46L771.84 150.89L771.99 150.28L772.15 149.65L772.31 149.02L772.46 148.41L772.62 147.84L772.77 147.35L772.93 146.95L773.09 146.65L773.24 146.46L773.40 146.40L773.56 146.47L773.71 146.69L773.87 147.03L774.02 147.50L774.18 148.07L774.34 148.71L774.49 149.42L774.65 150.15L774.81 150.88L774.96 151.59L775.12 152.23L775.27 152.80L775.43 153.27L775.59 153.61L775.74 153.83L775.90 153.90L776.05 153.79L776.21 153.47L776.36 152.96L776.52 152.28L776.67 151.48L776.82 150.60L776.98 149.70L777.13 148.82L777.28 148.02L777.44 147.34L777.59 146.83L777.75 146.51L777.90 146.40L778.06 146.48L778.21 146.70L778.37 147.07L778.52 147.57L778.68 148.18L778.84 148.87L778.99 149.62L779.15 150.40L779.31 151.18L779.46 151.93L779.62 152.62L779.77 153.23L779.93 153.73L780.09 154.10L780.24 154.32L780.40 154.40L780.56 154.33L780.71 154.10L780.87 153.74L781.02 153.26L781.18 152.67L781.34 151.99L781.49 151.26L781.65 150.50L781.81 149.74L781.96 149.01L782.12 148.33L782.27 147.74L782.43 147.26L782.59 146.90L782.74 146.67L782.90 146.60L783.06 146.67L783.21 146.88L783.37 147.22L783.52 147.67L783.68 148.22L783.84 148.85L783.99 149.54L784.15 150.25L784.31 150.96L784.46 151.65L784.62 152.28L784.77 152.83L784.93 153.28L785.09 153.62L785.24 153.83L785.40 153.90L785.56 153.83L785.71 153.64L785.87 153.32L786.02 152.89L786.18 152.37L786.34 151.77L786.49 151.12L786.65 150.45L786.81 149.78L786.96 149.13L787.12 148.53L787.27 148.01L787.43 147.58L787.59 147.26L787.74 147.07L787.90 147.00L788.06 147.06L788.21 147.22L788.37 147.50L788.52 147.86L788.68 148.31L788.84 148.82L788.99 149.37L789.15 149.95L789.31 150.53L789.46 151.08L789.62 151.59L789.77 152.04L789.93 152.40L790.09 152.68L790.24 152.84L790.40 152.90L790.56 152.85L790.71 152.70L790.87 152.45L791.02 152.12L791.18 151.72L791.34 151.26L791.49 150.77L791.65 150.25L791.81 149.73L791.96 149.24L792.12 148.78L792.27 148.38L792.43 148.05L792.59 147.80L792.74 147.65L792.90 147.60L793.06 147.69L793.22 147.94L793.38 148.34L793.54 148.89L793.70 149.55L793.86 150.29L794.02 151.09L794.18 151.91L794.34 152.71L794.50 153.45L794.66 154.11L794.82 154.66L794.98 155.06L795.14 155.31L795.30 155.40L795.46 155.33L795.61 155.12L795.77 154.78L795.92 154.32L796.08 153.76L796.24 153.12L796.39 152.42L796.55 151.70L796.71 150.98L796.86 150.28L797.02 149.64L797.17 149.08L797.33 148.62L797.49 148.28L797.64 148.07L797.80 148.00L797.96 148.07L798.11 148.26L798.27 148.58L798.42 149.01L798.58 149.53L798.74 150.13L798.89 150.78L799.05 151.45L799.21 152.12L799.36 152.77L799.52 153.37L799.67 153.89L799.83 154.32L799.99 154.64L800.14 154.83L800.30 154.90L800.46 154.83L800.61 154.62L800.77 154.28L800.92 153.83L801.08 153.28L801.24 152.65L801.39 151.96L801.55 151.25L801.71 150.54L801.86 149.85L802.02 149.22L802.17 148.67L802.33 148.22L802.49 147.88L802.64 147.67L802.80 147.60L802.96 147.64L803.11 147.76L803.27 147.96L803.42 148.23L803.58 148.56L803.74 148.93L803.89 149.33L804.05 149.75L804.21 150.17L804.36 150.57L804.52 150.94L804.67 151.27L804.83 151.54L804.99 151.74L805.14 151.86L805.30 151.90L805.46 151.85L805.61 151.72L805.77 151.50L805.92 151.21L806.08 150.86L806.24 150.45L806.39 150.01L806.55 149.55L806.71 149.09L806.86 148.65L807.02 148.24L807.17 147.89L807.33 147.60L807.49 147.38L807.64 147.25L807.80 147.20L807.96 147.24L808.11 147.34L808.27 147.51L808.42 147.74L808.58 148.02L808.74 148.34L808.89 148.69L809.05 149.05L809.21 149.41L809.36 149.76L809.52 150.08L809.67 150.36L809.83 150.59L809.99 150.76L810.14 150.86L810.30 150.90L810.45 150.88L810.60 150.80L810.75 150.69L810.90 150.53L811.05 150.33L811.20 150.10L811.35 149.85L811.50 149.58L811.65 149.30L811.80 149.02L811.95 148.75L812.10 148.50L812.25 148.27L812.40 148.07L812.55 147.91L812.70 147.80L812.85 147.72L813.00 147.70L813.15 147.71L813.30 147.74L813.45 147.80L813.60 147.88L813.75 147.98L813.90 148.10L814.05 148.25L814.20 148.43L814.35 148.62L814.50 148.85L814.65 149.10L814.80 149.38L814.95 149.69L815.10 150.03L815.25 150.41L815.40 150.82L815.55 151.27L815.70 151.77L815.85 152.31L816.00 152.90L816.16 152.50L816.31 152.14L816.47 151.81L816.62 151.51L816.78 151.24L816.94 151.00L817.09 150.79L817.25 150.60L817.41 150.43L817.56 150.29L817.72 150.17L817.88 150.07L818.03 150.00L818.19 149.94L818.34 149.91L818.50 149.90L818.65 149.91L818.80 149.96L818.95 150.03L819.10 150.13L819.25 150.26L819.40 150.42L819.55 150.61L819.70 150.83L819.85 151.09L820.00 151.38L820.15 151.70L820.30 152.07L820.45 152.48L820.60 152.93L820.75 153.44L820.90 154.00L821.05 154.61L821.20 155.30L821.35 156.05L821.50 156.90L821.65 156.24L821.81 155.66L821.96 155.14L822.12 154.69L822.27 154.30L822.42 153.96L822.58 153.67L822.73 153.43L822.88 153.24L823.04 153.09L823.19 152.98L823.35 152.92L823.50 152.90L823.65 152.92L823.80 152.97L823.95 153.06L824.10 153.18L824.25 153.34L824.40 153.53L824.55 153.76L824.70 154.04L824.85 154.36L825.00 154.72L825.15 155.13L825.30 155.59L825.45 156.10L825.60 156.68L825.75 157.33L825.90 158.06L826.05 158.87L826.20 159.78L826.35 160.82L826.50 162.00L826.66 161.03L826.81 160.18L826.97 159.42L827.12 158.76L827.28 158.17L827.44 157.65L827.59 157.20L827.75 156.81L827.91 156.47L828.06 156.18L828.22 155.93L828.38 155.74L828.53 155.59L828.69 155.48L828.84 155.42L829.00 155.40L829.16 155.43L829.31 155.53L829.47 155.70L829.62 155.93L829.78 156.24L829.94 156.62L830.09 157.08L830.25 157.63L830.41 158.28L830.56 159.04L830.72 159.93L830.88 160.96L831.03 162.18L831.19 163.62L831.34 165.36L831.50 167.50L831.66 165.83L831.81 164.43L831.97 163.25L832.12 162.23L832.28 161.35L832.44 160.59L832.59 159.93L832.75 159.36L832.91 158.88L833.06 158.48L833.22 158.14L833.38 157.87L833.53 157.66L833.69 157.52L833.84 157.43L834.00 157.40L834.16 157.44L834.32 157.56L834.48 157.75L834.64 158.03L834.80 158.40L834.96 158.87L835.12 159.43L835.28 160.11L835.44 160.91L835.60 161.86L835.76 162.99L835.92 164.34L836.08 165.96L836.24 167.96L836.40 170.50L836.56 168.36L836.71 166.62L836.87 165.18L837.02 163.96L837.18 162.93L837.34 162.04L837.49 161.28L837.65 160.63L837.81 160.08L837.96 159.62L838.12 159.24L838.27 158.93L838.43 158.70L838.59 158.53L838.74 158.43L838.90 158.40L839.05 158.42L839.20 158.50L839.35 158.62L839.50 158.79L839.65 159.02L839.80 159.29L839.95 159.63L840.10 160.03L840.25 160.49L840.40 161.02L840.55 161.63L840.70 162.33L840.85 163.12L841.00 164.03L841.15 165.08L841.30 166.29L841.45 167.71L841.60 169.39L841.75 171.43L841.90 174.00L842.06 171.32L842.21 169.23L842.37 167.54L842.52 166.13L842.68 164.95L842.84 163.94L842.99 163.09L843.15 162.37L843.31 161.75L843.46 161.24L843.62 160.82L843.77 160.48L843.93 160.22L844.09 160.04L844.24 159.94L844.40 159.90L844.55 159.92L844.70 159.98L844.85 160.09L845.00 160.24L845.15 160.43L845.30 160.67L845.45 160.96L845.60 161.30L845.75 161.69L845.90 162.14L846.05 162.66L846.20 163.24L846.35 163.90L846.50 164.65L846.65 165.50L846.80 166.46L846.95 167.56L847.10 168.84L847.25 170.32L847.40 172.09L847.55 174.25L847.70 177.00L847.85 174.54L848.00 172.56L848.16 170.93L848.31 169.54L848.46 168.35L848.61 167.32L848.77 166.41L848.92 165.62L849.07 164.92L849.22 164.30L849.38 163.76L849.53 163.28L849.68 162.87L849.83 162.51L849.99 162.21L850.14 161.96L850.29 161.75L850.44 161.60L850.60 161.49L850.75 161.42L850.90 161.40L851.05 161.42L851.20 161.49L851.35 161.60L851.50 161.75L851.65 161.96L851.80 162.21L851.95 162.51L852.10 162.87L852.25 163.28L852.40 163.75L852.55 164.29L852.70 164.91L852.85 165.61L853.00 166.40L853.15 167.31L853.30 168.34L853.45 169.52L853.60 170.90L853.75 172.53L853.90 174.50L854.05 171.37L854.20 168.98L854.35 167.06L854.50 165.47L854.65 164.12L854.80 162.97L854.95 161.98L855.10 161.11L855.25 160.36L855.40 159.70L855.55 159.13L855.70 158.63L855.85 158.21L856.00 157.85L856.15 157.56L856.30 157.32L856.45 157.13L856.60 157.00L856.75 156.93L856.90 156.90L857.06 156.91L857.21 156.96L857.37 157.02L857.52 157.12L857.68 157.25L857.84 157.41L857.99 157.59L858.15 157.81L858.31 158.06L858.46 158.34L858.62 158.67L858.77 159.02L858.93 159.42L859.09 159.87L859.24 160.36L859.40 160.90L859.55 159.90L859.70 159.01L859.85 158.22L860.00 157.51L860.15 156.87L860.30 156.30L860.45 155.79L860.60 155.32L860.75 154.91L860.90 154.54L861.05 154.22L861.20 153.93L861.35 153.68L861.50 153.47L861.65 153.30L861.80 153.15L861.95 153.04L862.10 152.96L862.25 152.92L862.40 152.90L862.55 152.91L862.71 152.93L862.86 152.97L863.02 153.03L863.17 153.10L863.32 153.20L863.48 153.31L863.63 153.43L863.78 153.58L863.94 153.75L864.09 153.94L864.25 154.16L864.40 154.40L864.55 153.91L864.70 153.45L864.86 153.02L865.01 152.63L865.16 152.27L865.31 151.93L865.47 151.62L865.62 151.34L865.77 151.07L865.92 150.83L866.07 150.61L866.23 150.41L866.38 150.23L866.53 150.07L866.68 149.93L866.83 149.80L866.99 149.69L867.14 149.60L867.29 149.53L867.44 149.47L867.60 149.43L867.75 149.41L867.90 149.40L868.05 149.41L868.21 149.43L868.36 149.47L868.52 149.53L868.67 149.60L868.82 149.70L868.98 149.81L869.13 149.93L869.28 150.08L869.44 150.25L869.59 150.44L869.75 150.66L869.90 150.90L870.05 150.63L870.21 150.38L870.36 150.15L870.52 149.92L870.67 149.71L870.82 149.51L870.98 149.33L871.13 149.15L871.28 148.99L871.44 148.84L871.59 148.70L871.75 148.56L871.90 148.44L872.05 148.33L872.21 148.23L872.36 148.13L872.52 148.05L872.67 147.98L872.82 147.91L872.98 147.86L873.13 147.81L873.28 147.77L873.44 147.74L873.59 147.72L873.75 147.70L873.90 147.70L874.05 147.71L874.21 147.72L874.36 147.75L874.52 147.79L874.67 147.84L874.82 147.90L874.98 147.97L875.13 148.06L875.28 148.15L875.44 148.27L875.59 148.40L875.75 148.54L875.90 148.70L876.05 148.55L876.21 148.41L876.36 148.28L876.52 148.15L876.67 148.03L876.82 147.92L876.98 147.82L877.13 147.72L877.28 147.63L877.44 147.54L877.59 147.46L877.75 147.39L877.90 147.32L878.05 147.25L878.21 147.20L878.36 147.14L878.52 147.10L878.67 147.06L878.82 147.02L878.98 146.99L879.13 146.96L879.28 146.94L879.44 146.92L879.59 146.91L879.75 146.90L879.90 146.90L880.06 146.91L880.21 146.92L880.37 146.95L880.52 146.99L880.68 147.03L880.84 147.09L880.99 147.17L881.15 147.25L881.31 147.34L881.46 147.45L881.62 147.57L881.77 147.71L881.93 147.86L882.09 148.02L882.24 148.20L882.40 148.40L882.56 148.27L882.71 148.15L882.87 148.04L883.02 147.94L883.18 147.85L883.34 147.77L883.49 147.70L883.65 147.63L883.81 147.58L883.96 147.53L884.12 147.49L884.27 147.46L884.43 147.43L884.59 147.41L884.74 147.40L884.90 147.40L885.05 147.41L885.21 147.43L885.36 147.48L885.51 147.54L885.66 147.61L885.82 147.70L885.97 147.81L886.12 147.93L886.27 148.06L886.43 148.20L886.58 148.35L886.73 148.51L886.88 148.67L887.04 148.85L887.19 149.04L887.34 149.24L887.49 149.46L887.65 149.69L887.80 149.94L887.95 149.95L888.11 149.96L888.26 149.96L888.42 149.94L888.57 149.90L888.72 149.83L888.88 149.73L889.03 149.61L889.18 149.48L889.34 149.36L889.49 149.25L889.65 149.17L889.80 149.12L889.95 149.32L890.10 149.55L890.25 149.80L890.40 150.05L890.55 150.30L890.70 150.54L890.85 150.75L891.00 150.95L891.15 151.12L891.30 151.29L891.45 151.46L891.60 151.63L891.75 151.81L891.90 152.01L892.05 152.20L892.20 152.39L892.35 152.56L892.50 152.70L892.65 152.82L892.80 152.90L892.95 152.98L893.11 153.05L893.26 153.14L893.42 153.25L893.57 153.41L893.72 153.63L893.88 153.90L894.03 154.22L894.18 154.58L894.34 154.94L894.49 155.29L894.65 155.61L894.80 155.87L894.95 155.99L895.11 156.05L895.26 156.07L895.42 156.06L895.57 156.04L895.72 156.03L895.88 156.04L896.03 156.09L896.18 156.18L896.34 156.31L896.49 156.45L896.65 156.60L896.80 156.75L896.96 157.57L897.11 158.37L897.27 159.16L897.42 159.94L897.58 160.74L897.74 161.56L897.89 162.40L898.05 163.27L898.21 164.15L898.36 165.04L898.52 165.91L898.67 166.75L898.83 167.54L898.99 168.28L899.14 168.97L899.30 169.61L899.45 168.86L899.61 168.11L899.76 167.38L899.92 166.70L900.07 166.08L900.22 165.52L900.38 165.02L900.53 164.56L900.68 164.12L900.84 163.69L900.99 163.24L901.15 162.75L901.30 162.21L901.45 162.12L901.60 161.99L901.75 161.84L901.90 161.68L902.05 161.52L902.20 161.38L902.35 161.25L902.50 161.13L902.65 161.02L902.80 160.91L902.95 160.50L903.11 160.07L903.26 159.62L903.41 159.16L903.56 158.69L903.72 158.23L903.87 157.80L904.02 157.40L904.18 157.05L904.33 156.74L904.48 156.48L904.64 156.24L904.79 156.00L904.94 155.74L905.09 155.44L905.25 155.09L905.40 154.68L905.55 154.41L905.71 154.09L905.86 153.75L906.01 153.40L906.16 153.07L906.32 152.77L906.47 152.51L906.62 152.31L906.78 152.15L906.93 152.03L907.08 151.93L907.24 151.83L907.39 151.71L907.54 151.58L907.69 151.43L907.85 151.25L908.00 151.07L908.15 150.96L908.30 150.85L908.45 150.76L908.60 150.68L908.75 150.61L908.90 150.53L909.05 150.44L909.20 150.32L909.35 150.17L909.50 149.98L909.65 149.75L909.80 149.50L909.95 149.24L910.10 148.99L910.25 148.77L910.40 148.60L910.55 148.48L910.70 148.42L910.85 148.42L911.00 148.45L911.16 148.60L911.31 148.74L911.47 148.85L911.62 148.91L911.78 148.91L911.94 148.85L912.09 148.76L912.25 148.63L912.41 148.49L912.56 148.36L912.72 148.26L912.88 148.18L913.03 148.13L913.19 148.10L913.34 148.08L913.50 148.07L913.65 148.02L913.81 147.97L913.96 147.90L914.12 147.84L914.27 147.78L914.42 147.74L914.58 147.74L914.73 147.77L914.88 147.83L915.04 147.92L915.19 148.01L915.35 148.09L915.50 148.14L915.65 148.14L915.81 148.08L915.96 147.97L916.12 147.81L916.27 147.62L916.42 147.43L916.58 147.26L916.73 147.13L916.88 147.06L917.04 147.05L917.19 147.10L917.35 147.19L917.50 147.31L917.65 147.45L917.80 147.57L917.96 147.67L918.11 147.74L918.26 147.78L918.41 147.80L918.57 147.80L918.72 147.80L918.87 147.81L919.02 147.83L919.17 147.87L919.33 147.92L919.48 147.97L919.63 148.01L919.78 148.03L919.93 148.03L920.09 148.00L920.24 147.96L920.39 147.92L920.54 147.88L920.70 147.88L920.85 147.92L921.00 148.01L921.15 148.19L921.31 148.42L921.46 148.68L921.62 148.95L921.77 149.20L921.92 149.42L922.08 149.58L922.23 149.68L922.38 149.72L922.54 149.72L922.69 149.68L922.85 149.63L923.00 149.59L923.15 149.59L923.31 149.62L923.46 149.70L923.62 149.81L923.77 149.95L923.92 150.11L924.08 150.26L924.23 150.40L924.38 150.53L924.54 150.64L924.69 150.75L924.85 150.86L925.00 150.98L925.15 151.29L925.31 151.62L925.46 151.97L925.62 152.32L925.77 152.66L925.92 152.98L926.08 153.25L926.23 153.48L926.38 153.66L926.54 153.80L926.69 153.92L926.85 154.02L927.00 154.15L927.15 154.32L927.31 154.54L927.46 154.83L927.62 155.17L927.77 155.57L927.92 155.99L928.08 156.42L928.23 156.83L928.38 157.21L928.54 157.54L928.69 157.83L928.85 158.07L929.00 158.27L929.15 158.53L929.31 158.79L929.47 159.06L929.62 159.34L929.77 159.65L929.93 159.97L930.09 160.30L930.24 160.62L930.39 160.93L930.55 161.23L930.71 161.51L930.86 161.79L931.01 162.07L931.17 162.38L931.33 162.73L931.48 163.11L931.63 163.54L931.79 164.01L931.95 164.49L932.10 164.97L932.26 164.61L932.41 164.21L932.57 163.74L932.72 163.21L932.88 162.63L933.03 162.00L933.19 161.34L933.34 160.69L933.50 160.07L933.66 159.49L933.81 158.97L933.97 158.50L934.12 158.07L934.28 157.68L934.43 157.30L934.59 156.92L934.74 156.52L934.90 156.09L935.05 155.93L935.20 155.76L935.35 155.58L935.51 155.39L935.66 155.22L935.81 155.05L935.96 154.90L936.11 154.75L936.26 154.59L936.42 154.42L936.57 154.22L936.72 153.98L936.87 153.71L937.02 153.41L937.17 153.10L937.32 152.79L937.48 152.51L937.63 152.27L937.78 152.08L937.93 151.95L938.08 151.87L938.23 151.83L938.38 151.82L938.54 151.80L938.69 151.76L938.84 151.68L938.99 151.55L939.14 151.35L939.29 151.11L939.45 150.83L939.60 150.53L939.75 150.22L939.90 149.94L940.05 149.81L940.21 149.72L940.36 149.65L940.51 149.62L940.66 149.59L940.82 149.56L940.97 149.53L941.12 149.49L941.28 149.43L941.43 149.37L941.58 149.32L941.74 149.29L941.89 149.28L942.04 149.30L942.19 149.35L942.35 149.41L942.50 149.47L942.66 149.49L942.81 149.48L942.97 149.41L943.12 149.29L943.28 149.11L943.44 148.89L943.59 148.65L943.75 148.41L943.90 148.20L944.06 148.04L944.22 147.95L944.37 147.92L944.53 147.95L944.68 148.02L944.84 148.12L945.00 148.22L945.15 148.30L945.31 148.35L945.46 148.36L945.62 148.33L945.78 148.29L945.93 148.23L946.09 148.17L946.24 148.12L946.40 148.10L946.55 148.09L946.70 148.09L946.85 148.09L947.00 148.09L947.15 148.07L947.30 148.04L947.45 147.99L947.60 147.93L947.75 147.88L947.90 147.85L948.05 147.86L948.20 147.91L948.35 148.02L948.50 148.17L948.65 148.37L948.80 148.58L948.95 148.80L949.10 148.99L949.25 149.14L949.40 149.24L949.55 149.28L949.70 149.26L949.85 149.21L950.00 149.12L950.16 149.05L950.31 148.99L950.47 148.96L950.62 148.99L950.78 149.06L950.94 149.17L951.09 149.31L951.25 149.46L951.40 149.61L951.56 149.74L951.72 149.86L951.87 149.96L952.03 150.05L952.18 150.14L952.34 150.24L952.50 150.36L952.65 150.49L952.81 150.63L952.96 150.78L953.12 150.91L953.28 151.01L953.43 151.07L953.59 151.09L953.74 151.06L953.90 150.99L954.05 151.08L954.20 151.18L954.36 151.30L954.51 151.48L954.66 151.71L954.81 152.00L954.96 152.35L955.11 152.74L955.27 153.14L955.42 153.54L955.57 153.92L955.72 154.25L955.87 154.53L956.03 154.76L956.18 154.95L956.33 155.11L956.48 155.26L956.63 155.41L956.79 155.57L956.94 155.76L957.09 155.97L957.24 156.20L957.39 156.44L957.54 156.68L957.70 156.91L957.85 157.12L958.00 157.33L958.15 157.58L958.31 157.84L958.47 158.12L958.62 158.43L958.77 158.78L958.93 159.17L959.09 159.59L959.24 160.03L959.39 160.46L959.55 160.86L959.71 161.22L959.86 161.52L960.01 161.75L960.17 161.93L960.33 162.07L960.48 162.20L960.63 162.33L960.79 162.48L960.95 162.69L961.10 162.95L961.25 162.62L961.40 162.34L961.56 162.08L961.71 161.84L961.86 161.60L962.01 161.33L962.16 161.04L962.32 160.72L962.47 160.37L962.62 160.01L962.77 159.64L962.92 159.27L963.08 158.91L963.23 158.57L963.38 158.23L963.53 157.89L963.68 157.53L963.84 157.16L963.99 156.76L964.14 156.32L964.29 155.86L964.44 155.39L964.60 154.92L964.75 154.47L964.90 154.06L965.05 153.94L965.20 153.88L965.35 153.87L965.50 153.91L965.65 153.96L965.80 154.01L965.95 154.04L966.10 154.03L966.25 153.96L966.40 153.84L966.55 153.66L966.70 153.44L966.85 153.20L967.00 152.96L967.15 152.73L967.30 152.52L967.45 152.35L967.60 152.22L967.75 152.12L967.90 152.03L968.05 151.96L968.20 151.88L968.35 151.79L968.50 151.69L968.65 151.58L968.80 151.47L968.95 151.36L969.10 151.27L969.25 151.21L969.40 151.16L969.55 151.14L969.70 151.12L969.85 151.10L970.00 151.05L970.15 150.97L970.30 150.84L970.45 150.66L970.60 150.43L970.75 150.17L970.90 149.89L971.05 149.68L971.21 149.51L971.36 149.38L971.52 149.31L971.67 149.31L971.82 149.36L971.98 149.45L972.13 149.56L972.28 149.67L972.44 149.75L972.59 149.79L972.75 149.79L972.90 149.75L973.05 149.68L973.21 149.59L973.36 149.50L973.52 149.42L973.67 149.35L973.82 149.31L973.98 149.28L974.13 149.25L974.28 149.23L974.44 149.19L974.59 149.13L974.75 149.06L974.90 148.99L975.05 148.92L975.20 148.88L975.36 148.87L975.51 148.91L975.66 149.00L975.81 149.13L975.96 149.31L976.11 149.50L976.27 149.68L976.42 149.84L976.57 149.96L976.72 150.02L976.87 150.03L977.03 149.98L977.18 149.90L977.33 149.80L977.48 149.71L977.63 149.65L977.79 149.63L977.94 149.66L978.09 149.75L978.24 149.87L978.39 150.02L978.54 150.19L978.70 150.35L978.85 150.50L979.00 150.63L979.15 150.77L979.30 150.90L979.46 151.02L979.61 151.14L979.76 151.28L979.91 151.43L980.06 151.59L980.22 151.76L980.37 151.91L980.52 152.05L980.67 152.15L980.82 152.21L980.98 152.24L981.13 152.23L981.28 152.20L981.43 152.18L981.58 152.18L981.74 152.22L981.89 152.32L982.04 152.47L982.19 152.69L982.34 152.94L982.50 153.22L982.65 153.51L982.80 153.77L982.95 154.10L983.10 154.37L983.26 154.60L983.41 154.77L983.56 154.91L983.71 155.02L983.87 155.14L984.02 155.27L984.17 155.42L984.32 155.60L984.48 155.81L984.63 156.04L984.78 156.27L984.93 156.50L985.09 156.72L985.24 156.93L985.39 157.13L985.54 157.33L985.70 157.54L985.85 157.77L986.00 158.04L986.16 158.34L986.31 158.68L986.47 159.04L986.62 159.40L986.78 159.74L986.93 160.05L987.09 160.29L987.24 160.48L987.40 160.61L987.56 160.70L987.71 160.76L987.87 160.82L988.02 160.91L988.18 161.04L988.33 161.23L988.49 161.48L988.64 161.79L988.80 162.13L988.96 162.11L989.11 162.08L989.27 162.03L989.43 161.95L989.59 161.84L989.74 161.69L989.90 161.51L990.06 161.32L990.21 161.14L990.37 160.96L990.53 160.80L990.69 160.64L990.84 160.49L991.00 160.33L991.15 160.10L991.30 159.84L991.46 159.56L991.61 159.25L991.76 158.94L991.91 158.63L992.06 158.35L992.22 158.11L992.37 157.92L992.52 157.79L992.67 157.70L992.82 157.64L992.98 157.60L993.13 157.55L993.28 157.47L993.43 157.34L993.58 157.15L993.74 156.91L993.89 156.60L994.04 156.27L994.19 155.91L994.34 155.57L994.50 155.24L994.65 154.95L994.80 154.70L994.95 154.57L995.10 154.47L995.25 154.39L995.40 154.32L995.55 154.24L995.70 154.14L995.85 154.04L996.00 153.92L996.15 153.79L996.30 153.68L996.45 153.58L996.60 153.49L996.75 153.43L996.90 153.38L997.05 153.33L997.20 153.27L997.35 153.18L997.50 153.05L997.65 152.88L997.80 152.66L997.95 152.40L998.10 152.12L998.25 151.83L998.40 151.56L998.55 151.34L998.70 151.16L998.85 151.04L999.00 150.99L999.15 151.06L999.31 151.17L999.46 151.29L999.62 151.39L999.77 151.46L999.93 151.48L1000.08 151.45L1000.24 151.38L1000.39 151.27L1000.55 151.15L1000.70 151.02L1000.86 150.91L1001.01 150.82L1001.17 150.74L1001.32 150.69L1001.48 150.63L1001.63 150.58L1001.79 150.51L1001.94 150.42L1002.10 150.33L1002.25 150.22L1002.41 150.13L1002.56 150.05L1002.72 150.02L1002.87 150.02L1003.03 150.07L1003.18 150.15L1003.34 150.25L1003.49 150.36L1003.65 150.43L1003.80 150.47L1003.95 150.49L1004.10 150.46L1004.25 150.37L1004.40 150.23L1004.55 150.07L1004.70 149.91L1004.85 149.76L1005.00 149.65" stroke="#ff0000" stroke-width="1.12"/>
<path d="M91.60 62.00L91.85 62.59L92.10 63.60L92.35 64.72L92.60 66.20L92.85 67.84L93.10 69.59L93.35 71.07L93.60 72.28L93.85 73.35L94.10 74.34L94.35 75.29L94.60 76.21L94.85 77.09L95.10 77.91L95.35 78.65L95.60 79.30L95.85 79.86L96.10 80.37L96.35 80.83L96.60 81.25L96.85 81.65L97.10 82.04L97.35 82.41L97.60 82.77L97.85 83.14L98.10 83.50L98.35 83.86L98.60 84.22L98.85 84.57L99.10 84.92L99.35 85.25L99.60 85.58L99.85 85.91L100.00 86.09L101.00 87.27L102.00 88.30L103.00 89.23L104.00 90.07L105.00 90.86L106.00 91.61L107.00 92.33L108.00 93.01L109.00 93.65L110.00 94.28L111.00 94.87L112.00 95.46L113.00 96.02L114.00 96.58L115.00 97.13L116.00 97.67L117.00 98.20L118.00 98.72L119.00 99.23L120.00 99.72L121.00 100.18L122.00 100.63L123.00 101.07L124.00 101.48L125.00 101.87L126.00 102.24L127.00 102.59L128.00 102.93L129.00 103.25L130.00 103.56L131.00 103.86L132.00 104.15L133.00 104.43L134.00 104.70L135.00 104.97L136.00 105.23L137.00 105.48L138.00 105.73L139.00 105.97L140.00 106.21L141.00 106.44L142.00 106.67L143.00 106.89L144.00 107.12L145.00 107.34L146.00 107.56L147.00 107.77L148.00 107.98L149.00 108.20L150.00 108.41L151.00 108.61L152.00 108.82L153.00 109.03L154.00 109.23L155.00 109.43L156.00 109.62L157.00 109.82L158.00 110.01L159.00 110.20L160.00 110.38L161.00 110.57L162.00 110.75L163.00 110.93L164.00 111.11L165.00 111.29L166.00 111.46L167.00 111.64L168.00 111.81L169.00 111.98L170.00 112.15L171.00 112.32L172.00 112.49L173.00 112.66L174.00 112.82L175.00 112.99L176.00 113.15L177.00 113.32L178.00 113.48L179.00 113.64L180.00 113.80L181.00 113.96L182.00 114.12L183.00 114.27L184.00 114.43L185.00 114.59L186.00 114.74L187.00 114.90L188.00 115.05L189.00 115.21L190.00 115.36L191.00 115.51L192.00 115.66L193.00 115.81L194.00 115.96L195.00 116.11L196.00 116.26L197.00 116.41L198.00 116.56L199.00 116.70L200.00 116.85L201.00 117.00L202.00 117.14L203.00 117.29L204.00 117.43L205.00 117.58L206.00 117.72L207.00 117.87L208.00 118.01L209.00 118.15L210.00 118.29L211.00 118.44L212.00 118.58L213.00 118.72L214.00 118.86L215.00 119.00L216.00 119.14L217.00 119.28L218.00 119.42L219.00 119.56L220.00 119.71L221.00 119.85L222.00 119.99L223.00 120.13L224.00 120.27L225.00 120.41L226.00 120.55L227.00 120.69L228.00 120.84L229.00 120.98L230.00 121.12L231.00 121.25L232.00 121.39L233.00 121.53L234.00 121.67L235.00 121.81L236.00 121.95L237.00 122.08L238.00 122.22L239.00 122.35L240.00 122.49L241.00 122.62L242.00 122.76L243.00 122.89L244.00 123.02L245.00 123.15L246.00 123.28L247.00 123.41L248.00 123.54L249.00 123.67L250.00 123.79L251.00 123.92L252.00 124.04L253.00 124.17L254.00 124.29L255.00 124.41L256.00 124.54L257.00 124.66L258.00 124.78L259.00 124.90L260.00 125.02L261.00 125.14L262.00 125.25L263.00 125.37L264.00 125.49L265.00 125.60L266.00 125.72L267.00 125.83L268.00 125.95L269.00 126.06L270.00 126.17L271.00 126.29L272.00 126.40L273.00 126.51L274.00 126.62L275.00 126.73L276.00 126.84L277.00 126.95L278.00 127.06L279.00 127.17L280.00 127.28L281.00 127.39L282.00 127.49L283.00 127.60L284.00 127.71L285.00 127.82L286.00 127.92L287.00 128.03L288.00 128.13L289.00 128.24L290.00 128.34L291.00 128.45L292.00 128.55L293.00 128.66L294.00 128.76L295.00 128.86L296.00 128.96L297.00 129.07L298.00 129.17L299.00 129.27L300.00 129.37L301.00 129.48L302.00 129.58L303.00 129.68L304.00 129.78L305.00 129.88L306.00 129.98L307.00 130.08L308.00 130.18L309.00 130.28L310.00 130.38L311.00 130.48L312.00 130.58L313.00 130.68L314.00 130.78L315.00 130.88L316.00 130.97L317.00 131.07L318.00 131.17L319.00 131.27L320.00 131.37L321.00 131.46L322.00 131.56L323.00 131.66L324.00 131.76L325.00 131.85L326.00 131.95L327.00 132.05L328.00 132.14L329.00 132.24L330.00 132.34L331.00 132.43L332.00 132.53L333.00 132.63L334.00 132.72L335.00 132.82L336.00 132.91L337.00 133.01L338.00 133.11L339.00 133.20L340.00 133.30L341.00 133.39L342.00 133.49L343.00 133.58L344.00 133.68L345.00 133.77L346.00 133.87L347.00 133.96L348.00 134.06L349.00 134.15L350.00 134.25L351.00 134.34L352.00 134.43L353.00 134.53L354.00 134.62L355.00 134.72L356.00 134.81L357.00 134.90L358.00 135.00L359.00 135.09L360.00 135.18L361.00 135.28L362.00 135.37L363.00 135.46L364.00 135.56L365.00 135.65L366.00 135.74L367.00 135.84L368.00 135.93L369.00 136.02L370.00 136.11L371.00 136.21L372.00 136.30L373.00 136.39L374.00 136.48L375.00 136.57L376.00 136.67L377.00 136.76L378.00 136.85L379.00 136.94L380.00 137.03L381.00 137.12L382.00 137.22L383.00 137.31L384.00 137.40L385.00 137.49L386.00 137.58L387.00 137.67L388.00 137.76L389.00 137.85L390.00 137.94L391.00 138.04L392.00 138.13L393.00 138.22L394.00 138.31L395.00 138.40L396.00 138.49L397.00 138.58L398.00 138.67L399.00 138.76L400.00 138.85L401.00 138.94L402.00 139.03L403.00 139.12L404.00 139.21L405.00 139.30L406.00 139.39L407.00 139.48L408.00 139.57L409.00 139.66L410.00 139.75L411.00 139.84L412.00 139.93L413.00 140.02L414.00 140.10L415.00 140.19L416.00 140.28L417.00 140.37L418.00 140.46L419.00 140.55L420.00 140.64L421.00 140.73L422.00 140.82L423.00 140.91L424.00 140.99L425.00 141.08L426.00 141.17L427.00 141.26L428.00 141.35L429.00 141.44L430.00 141.52L431.00 141.61L432.00 141.70L433.00 141.79L434.00 141.88L435.00 141.97L436.00 142.05L437.00 142.14L438.00 142.23L439.00 142.32L440.00 142.41L441.00 142.49L442.00 142.58L443.00 142.67L444.00 142.76L445.00 142.84L446.00 142.93L447.00 143.02L448.00 143.11L449.00 143.19L450.00 143.28L451.00 143.37L452.00 143.46L453.00 143.54L454.00 143.63L455.00 143.72L456.00 143.81L457.00 143.89L458.00 143.99L459.00 144.08L460.00 144.17L461.00 144.26L462.00 144.36L463.00 144.45L464.00 144.54L465.00 144.64L466.00 144.73L467.00 144.83L468.00 144.92L469.00 145.02L470.00 145.11L471.00 145.21L472.00 145.30" stroke="#000000" stroke-width="0.90"/>
<path d="M472.00 145.30L472.00 145.80L472.17 145.65L472.33 145.53L472.50 145.44L472.67 145.38L472.83 145.35L473.00 145.34L473.17 145.35L473.33 145.40L473.50 145.47L473.67 145.58L473.83 145.73L474.00 145.91L474.17 145.75L474.34 145.62L474.51 145.53L474.68 145.46L474.85 145.43L475.02 145.41L475.19 145.43L475.36 145.49L475.54 145.59L475.71 145.72L475.88 145.91L476.05 146.15L476.22 145.94L476.40 145.77L476.57 145.64L476.75 145.56L476.92 145.51L477.10 145.49L477.27 145.52L477.44 145.59L477.62 145.72L477.79 145.91L477.97 146.16L478.14 146.49L478.30 146.23L478.45 146.02L478.60 145.85L478.76 145.73L478.91 145.64L479.06 145.59L479.22 145.57L479.37 145.60L479.52 145.67L479.68 145.80L479.83 145.98L479.98 146.22L480.14 146.53L480.29 146.91L480.45 146.52L480.60 146.21L480.76 145.96L480.92 145.78L481.07 145.65L481.23 145.57L481.39 145.54L481.54 145.58L481.70 145.68L481.86 145.86L482.01 146.12L482.17 146.46L482.33 146.89L482.49 147.42L482.65 146.86L482.81 146.41L482.97 146.06L483.13 145.79L483.29 145.60L483.45 145.49L483.61 145.46L483.77 145.50L483.93 145.65L484.09 145.89L484.25 146.24L484.41 146.70L484.57 147.28L484.73 148.01L484.90 147.26L485.06 146.65L485.23 146.17L485.39 145.81L485.56 145.56L485.72 145.41L485.88 145.36L486.05 145.43L486.21 145.61L486.38 145.93L486.54 146.38L486.71 146.97L486.87 147.74L487.03 148.69L487.20 147.71L487.37 146.92L487.54 146.31L487.71 145.85L487.88 145.52L488.04 145.33L488.21 145.27L488.38 145.35L488.55 145.57L488.72 145.96L488.89 146.52L489.05 147.26L489.22 148.23L489.39 149.45L489.56 148.02L489.73 146.95L489.89 146.16L490.06 145.62L490.23 145.30L490.40 145.20L490.56 145.32L490.73 145.67L490.90 146.27L491.07 147.15L491.23 148.37L491.40 150.00L491.56 148.73L491.71 147.72L491.87 146.90L492.02 146.27L492.18 145.79L492.34 145.46L492.49 145.26L492.65 145.20L492.81 145.27L492.96 145.48L493.12 145.85L493.27 146.37L493.43 147.06L493.59 147.96L493.74 149.08L493.90 150.50L494.06 149.08L494.21 147.96L494.37 147.06L494.52 146.37L494.68 145.85L494.84 145.48L494.99 145.27L495.15 145.20L495.31 145.28L495.46 145.51L495.62 145.90L495.77 146.46L495.93 147.22L496.09 148.19L496.24 149.43L496.40 151.00L496.55 149.59L496.70 148.44L496.85 147.52L497.00 146.77L497.15 146.19L497.30 145.75L497.45 145.44L497.60 145.26L497.75 145.20L497.90 145.26L498.05 145.46L498.20 145.79L498.35 146.26L498.50 146.89L498.65 147.69L498.80 148.69L498.95 149.94L499.10 151.50L499.26 149.77L499.43 148.42L499.59 147.37L499.75 146.55L499.91 145.95L500.07 145.53L500.24 145.28L500.40 145.20L500.56 145.29L500.72 145.55L500.89 145.99L501.05 146.64L501.21 147.51L501.38 148.65L501.54 150.11L501.70 152.00L501.87 150.11L502.04 148.65L502.21 147.51L502.38 146.64L502.54 145.99L502.71 145.55L502.88 145.29L503.05 145.20L503.20 145.28L503.35 145.52L503.50 145.93L503.65 146.52L503.80 147.32L503.95 148.35L504.10 149.66L504.25 151.33L504.40 153.50L504.56 151.52L504.73 149.96L504.89 148.71L505.06 147.70L505.22 146.89L505.39 146.26L505.55 145.79L505.72 145.46L505.88 145.26L506.05 145.20L506.20 145.24L506.35 145.37L506.50 145.59L506.65 145.90L506.80 146.31L506.95 146.82L507.10 147.45L507.25 148.21L507.40 149.12L507.55 150.20L507.70 151.50L507.86 150.08L508.02 148.92L508.18 147.97L508.34 147.19L508.50 146.55L508.66 146.05L508.82 145.67L508.98 145.41L509.14 145.25L509.30 145.20L509.46 145.28L509.62 145.52L509.78 145.93L509.94 146.53L510.10 147.33L510.26 148.37L510.42 149.69L510.58 151.37L510.74 153.56L510.90 156.50L511.05 154.16L511.21 152.31L511.36 150.81L511.52 149.57L511.67 148.55L511.82 147.70L511.98 147.00L512.13 146.43L512.28 145.97L512.44 145.63L512.59 145.39L512.75 145.25L512.90 145.20L513.05 145.24L513.21 145.37L513.36 145.59L513.52 145.90L513.67 146.31L513.82 146.82L513.98 147.45L514.13 148.21L514.28 149.12L514.44 150.20L514.59 151.50L514.75 153.07L514.90 155.00L515.06 152.92L515.22 151.26L515.38 149.91L515.53 148.80L515.69 147.88L515.85 147.12L516.01 146.51L516.17 146.03L516.32 145.66L516.48 145.40L516.64 145.25L516.80 145.20L516.96 145.25L517.12 145.40L517.27 145.64L517.43 146.00L517.59 146.46L517.75 147.05L517.91 147.77L518.07 148.65L518.23 149.71L518.38 151.00L518.54 152.56L518.70 154.50L518.86 152.69L519.02 151.22L519.18 149.99L519.35 148.96L519.51 148.09L519.67 147.36L519.83 146.76L519.99 146.27L520.15 145.88L520.32 145.58L520.48 145.37L520.64 145.24L520.80 145.20L520.95 145.24L521.10 145.36L521.25 145.57L521.40 145.86L521.55 146.25L521.70 146.74L521.85 147.33L522.00 148.04L522.15 148.89L522.30 149.90L522.45 151.11L522.60 152.55L522.75 154.31L522.90 156.50L523.05 154.56L523.21 152.96L523.36 151.62L523.51 150.48L523.67 149.50L523.82 148.67L523.97 147.95L524.12 147.33L524.28 146.80L524.43 146.36L524.58 146.00L524.74 145.71L524.89 145.48L525.04 145.33L525.20 145.23L525.35 145.20L525.50 145.24L525.66 145.36L525.81 145.56L525.96 145.85L526.12 146.22L526.27 146.70L526.42 147.27L526.57 147.97L526.73 148.79L526.88 149.77L527.03 150.93L527.19 152.32L527.34 154.00L527.49 156.08L527.65 158.76L527.80 162.40L527.96 158.76L528.11 156.08L528.27 154.00L528.42 152.32L528.58 150.93L528.74 149.77L528.89 148.79L529.05 147.97L529.21 147.27L529.36 146.70L529.52 146.22L529.67 145.85L529.83 145.56L529.99 145.36L530.14 145.24L530.30 145.20L530.46 145.24L530.61 145.38L530.77 145.60L530.92 145.91L531.08 146.33L531.24 146.85L531.39 147.49L531.55 148.26L531.71 149.19L531.86 150.30L532.02 151.63L532.17 153.24L532.33 155.24L532.49 157.79L532.64 161.23L532.80 166.40L532.95 161.89L533.11 158.75L533.26 156.36L533.41 154.45L533.56 152.87L533.72 151.55L533.87 150.43L534.02 149.46L534.17 148.63L534.33 147.92L534.48 147.31L534.63 146.79L534.78 146.35L534.94 145.99L535.09 145.70L535.24 145.48L535.39 145.32L535.55 145.23L535.70 145.20L535.85 145.23L536.01 145.32L536.16 145.48L536.31 145.71L536.46 146.00L536.62 146.36L536.77 146.80L536.92 147.32L537.07 147.94L537.23 148.66L537.38 149.49L537.53 150.46L537.68 151.60L537.84 152.93L537.99 154.52L538.14 156.45L538.29 158.88L538.45 162.08L538.60 166.70L538.76 162.08L538.91 158.88L539.07 156.45L539.22 154.52L539.38 152.93L539.53 151.60L539.69 150.46L539.84 149.49L540.00 148.66L540.15 147.94L540.31 147.32L540.46 146.80L540.62 146.36L540.77 146.00L540.93 145.71L541.08 145.48L541.24 145.32L541.39 145.23L541.55 145.20L541.71 145.23L541.86 145.32L542.02 145.46L542.17 145.67L542.33 145.94L542.48 146.27L542.64 146.68L542.79 147.16L542.95 147.73L543.10 148.38L543.26 149.14L543.41 150.02L543.57 151.04L543.72 152.22L543.88 153.62L544.03 155.28L544.19 157.31L544.34 159.87L544.50 163.30L544.65 160.60L544.80 158.46L544.95 156.70L545.10 155.22L545.25 153.94L545.40 152.82L545.55 151.83L545.70 150.96L545.85 150.19L546.00 149.49L546.15 148.87L546.30 148.31L546.45 147.81L546.60 147.37L546.75 146.97L546.90 146.63L547.05 146.32L547.20 146.05L547.35 145.83L547.50 145.64L547.65 145.48L547.80 145.37L547.95 145.28L548.10 145.23L548.25 145.22L548.40 145.24L548.55 145.29L548.70 145.39L548.85 145.53L549.00 145.71L549.15 145.93L549.30 146.20L549.45 146.52L549.60 146.88L549.75 147.30L549.90 147.77L550.05 148.31L550.20 148.91L550.35 149.59L550.50 150.36L550.65 151.23L550.80 152.22L550.95 153.34L551.10 154.64L551.25 156.16L551.40 157.96L551.55 160.17L551.70 162.99L551.85 166.85L552.00 172.90L552.15 166.86L552.30 163.02L552.45 160.21L552.60 158.01L552.75 156.21L552.90 154.70L553.05 153.41L553.20 152.29L553.35 151.32L553.50 150.46L553.65 149.71L553.80 149.04L553.95 148.45L554.10 147.94L554.25 147.48L554.40 147.08L554.55 146.74L554.70 146.45L554.85 146.21L555.00 146.02L555.15 145.87L555.30 145.76L555.45 145.70L555.60 145.67L555.75 145.70L555.90 145.76L556.05 145.87L556.20 146.03L556.35 146.24L556.50 146.49L556.65 146.79L556.80 147.15L556.95 147.57L557.10 148.05L557.25 148.59L557.40 149.21L557.55 149.92L557.70 150.72L557.85 151.63L558.00 152.68L558.15 153.88L558.30 155.28L558.45 156.93L558.60 158.93L558.75 161.43L558.90 164.74L559.05 169.55L559.20 178.40L559.35 170.29L559.51 165.69L559.66 162.49L559.82 160.04L559.97 158.07L560.12 156.43L560.28 155.04L560.43 153.84L560.58 152.79L560.74 151.87L560.89 151.05L561.05 150.32L561.20 149.68L561.35 149.10L561.51 148.59L561.66 148.14L561.82 147.74L561.97 147.40L562.12 147.09L562.28 146.84L562.43 146.63L562.58 146.45L562.74 146.32L562.89 146.23L563.05 146.17L563.20 146.15L563.35 146.17L563.51 146.22L563.66 146.31L563.82 146.44L563.97 146.61L564.12 146.81L564.28 147.06L564.43 147.34L564.58 147.68L564.74 148.06L564.89 148.49L565.05 148.97L565.20 149.52L565.35 150.13L565.51 150.82L565.66 151.59L565.82 152.46L565.97 153.44L566.12 154.56L566.28 155.84L566.43 157.34L566.58 159.11L566.74 161.27L566.89 164.01L567.05 167.72L567.20 173.40L567.36 168.25L567.51 164.78L567.67 162.17L567.82 160.08L567.98 158.36L568.13 156.89L568.29 155.63L568.44 154.52L568.60 153.55L568.75 152.68L568.91 151.90L569.06 151.21L569.22 150.58L569.38 150.02L569.53 149.51L569.69 149.06L569.84 148.65L570.00 148.29L570.15 147.97L570.31 147.69L570.46 147.45L570.62 147.24L570.77 147.06L570.93 146.92L571.08 146.81L571.24 146.73L571.39 146.69L571.55 146.67L571.70 146.69L571.85 146.73L572.00 146.80L572.15 146.91L572.30 147.04L572.45 147.21L572.60 147.41L572.75 147.64L572.90 147.91L573.05 148.22L573.20 148.56L573.35 148.94L573.50 149.37L573.65 149.85L573.80 150.38L573.95 150.97L574.10 151.63L574.25 152.35L574.40 153.16L574.55 154.07L574.70 155.08L574.85 156.24L575.00 157.56L575.15 159.10L575.30 160.93L575.45 163.15L575.60 165.98L575.75 169.84L575.90 175.90L576.05 170.22L576.20 166.51L576.35 163.76L576.50 161.59L576.65 159.80L576.80 158.29L576.95 156.99L577.10 155.85L577.25 154.85L577.40 153.95L577.55 153.15L577.70 152.43L577.85 151.79L578.00 151.21L578.15 150.68L578.30 150.21L578.45 149.78L578.60 149.40L578.75 149.06L578.90 148.75L579.05 148.49L579.20 148.26L579.35 148.06L579.50 147.89L579.65 147.76L579.80 147.66L579.95 147.58L580.10 147.54L580.25 147.53L580.40 147.54L580.55 147.58L580.70 147.66L580.85 147.76L581.00 147.90L581.15 148.06L581.30 148.26L581.45 148.50L581.60 148.77L581.75 149.07L581.90 149.41L582.05 149.80L582.20 150.23L582.35 150.71L582.50 151.24L582.65 151.83L582.80 152.49L582.95 153.21L583.10 154.02L583.25 154.93L583.40 155.95L583.55 157.11L583.70 158.44L583.85 159.98L584.00 161.81L584.15 164.05L584.30 166.89L584.45 170.78L584.60 176.90L584.75 171.32L584.90 167.65L585.05 164.93L585.20 162.77L585.35 160.99L585.50 159.48L585.65 158.18L585.80 157.04L585.95 156.03L586.10 155.13L586.25 154.33L586.40 153.60L586.55 152.95L586.70 152.36L586.85 151.82L587.00 151.34L587.15 150.90L587.30 150.51L587.45 150.15L587.60 149.84L587.75 149.55L587.90 149.31L588.05 149.09L588.20 148.91L588.35 148.75L588.50 148.63L588.65 148.53L588.80 148.46L588.95 148.42L589.10 148.41L589.25 148.42L589.40 148.46L589.55 148.53L589.70 148.63L589.85 148.76L590.00 148.91L590.15 149.10L590.30 149.32L590.45 149.57L590.60 149.86L590.75 150.18L590.90 150.54L591.05 150.94L591.20 151.39L591.35 151.88L591.50 152.43L591.65 153.03L591.80 153.70L591.95 154.44L592.10 155.26L592.25 156.18L592.40 157.22L592.55 158.39L592.70 159.74L592.85 161.30L593.00 163.16L593.15 165.43L593.30 168.33L593.45 172.32L593.60 178.70L593.75 172.46L593.90 168.53L594.06 165.66L594.21 163.41L594.36 161.57L594.51 160.02L594.66 158.68L594.81 157.52L594.97 156.50L595.12 155.59L595.27 154.78L595.42 154.05L595.57 153.39L595.72 152.80L595.88 152.27L596.03 151.78L596.18 151.35L596.33 150.97L596.48 150.62L596.63 150.32L596.79 150.05L596.94 149.81L597.09 149.61L597.24 149.45L597.39 149.31L597.54 149.21L597.70 149.13L597.85 149.09L598.00 149.07L598.15 149.09L598.30 149.13L598.46 149.20L598.61 149.30L598.76 149.42L598.91 149.58L599.06 149.76L599.21 149.98L599.37 150.23L599.52 150.52L599.67 150.84L599.82 151.20L599.97 151.60L600.12 152.04L600.28 152.53L600.43 153.07L600.58 153.67L600.73 154.34L600.88 155.07L601.03 155.89L601.19 156.80L601.34 157.83L601.49 159.00L601.64 160.33L601.79 161.88L601.94 163.71L602.10 165.95L602.25 168.80L602.40 172.70L602.55 168.78L602.70 165.92L602.85 163.67L603.00 161.84L603.15 160.29L603.30 158.97L603.45 157.81L603.60 156.79L603.75 155.89L603.90 155.09L604.05 154.37L604.20 153.72L604.35 153.14L604.50 152.62L604.65 152.16L604.80 151.74L604.95 151.37L605.10 151.04L605.25 150.75L605.40 150.50L605.55 150.28L605.70 150.11L605.85 149.96L606.00 149.85L606.15 149.77L606.30 149.72L606.45 149.71L606.61 149.72L606.76 149.78L606.92 149.87L607.07 150.01L607.23 150.18L607.38 150.39L607.54 150.65L607.70 150.95L607.85 151.29L608.01 151.69L608.16 152.14L608.32 152.65L608.48 153.22L608.63 153.86L608.79 154.58L608.94 155.40L609.10 156.31L609.25 157.36L609.41 158.55L609.57 159.93L609.72 161.56L609.88 163.51L610.03 165.93L610.19 169.08L610.34 173.58L610.50 181.40L610.65 173.59L610.80 169.09L610.96 165.95L611.11 163.54L611.26 161.60L611.41 159.99L611.56 158.62L611.72 157.44L611.87 156.42L612.02 155.53L612.17 154.74L612.33 154.04L612.48 153.43L612.63 152.89L612.78 152.42L612.93 152.01L613.09 151.66L613.24 151.36L613.39 151.11L613.54 150.91L613.69 150.75L613.85 150.64L614.00 150.58L614.15 150.56L614.30 150.57L614.45 150.63L614.61 150.73L614.76 150.87L614.91 151.05L615.06 151.27L615.21 151.53L615.37 151.84L615.52 152.20L615.67 152.62L615.82 153.09L615.97 153.62L616.13 154.22L616.28 154.89L616.43 155.65L616.58 156.51L616.74 157.48L616.89 158.59L617.04 159.86L617.19 161.35L617.34 163.12L617.50 165.27L617.65 168.00L617.80 171.70L617.95 168.26L618.10 165.67L618.25 163.61L618.40 161.90L618.55 160.46L618.70 159.22L618.85 158.14L619.00 157.19L619.15 156.35L619.30 155.61L619.45 154.95L619.60 154.36L619.75 153.84L619.90 153.38L620.05 152.98L620.20 152.62L620.35 152.32L620.50 152.06L620.65 151.84L620.80 151.66L620.95 151.53L621.10 151.43L621.25 151.37L621.40 151.36L621.55 151.38L621.70 151.44L621.85 151.56L622.00 151.71L622.15 151.92L622.30 152.17L622.45 152.47L622.60 152.83L622.75 153.25L622.90 153.73L623.05 154.27L623.20 154.89L623.35 155.60L623.50 156.40L623.65 157.31L623.80 158.36L623.95 159.56L624.10 160.96L624.25 162.61L624.40 164.61L624.55 167.12L624.70 170.42L624.85 175.24L625.00 184.10L625.15 174.96L625.31 170.08L625.46 166.75L625.62 164.24L625.77 162.25L625.93 160.62L626.08 159.24L626.24 158.07L626.39 157.07L626.55 156.20L626.70 155.45L626.86 154.80L627.01 154.24L627.17 153.76L627.32 153.36L627.48 153.03L627.63 152.76L627.79 152.55L627.94 152.41L628.10 152.32L628.25 152.29L628.40 152.32L628.56 152.40L628.71 152.54L628.87 152.74L629.02 153.00L629.18 153.32L629.33 153.70L629.49 154.16L629.64 154.69L629.80 155.31L629.95 156.03L630.11 156.85L630.26 157.80L630.42 158.90L630.57 160.19L630.73 161.71L630.88 163.53L631.04 165.79L631.19 168.71L631.35 172.78L631.50 179.40L631.65 172.96L631.80 168.96L631.95 166.08L632.10 163.85L632.25 162.05L632.40 160.55L632.55 159.29L632.70 158.21L632.85 157.29L633.00 156.49L633.15 155.80L633.30 155.21L633.45 154.70L633.60 154.28L633.75 153.93L633.90 153.65L634.05 153.43L634.20 153.28L634.35 153.19L634.50 153.16L634.65 153.18L634.80 153.25L634.95 153.38L635.10 153.55L635.25 153.77L635.40 154.05L635.55 154.38L635.70 154.78L635.85 155.23L636.00 155.76L636.15 156.37L636.30 157.06L636.45 157.85L636.60 158.76L636.75 159.79L636.90 160.99L637.05 162.39L637.20 164.06L637.35 166.07L637.50 168.60L637.65 166.17L637.80 164.22L637.95 162.61L638.10 161.26L638.25 160.10L638.40 159.09L638.55 158.22L638.70 157.46L638.85 156.80L639.00 156.22L639.15 155.72L639.30 155.30L639.45 154.94L639.60 154.64L639.75 154.40L639.90 154.21L640.05 154.08L640.20 154.00L640.35 153.98L640.50 154.01L640.65 154.10L640.80 154.25L640.95 154.46L641.10 154.73L641.25 155.07L641.40 155.48L641.55 155.97L641.70 156.55L641.85 157.22L642.00 157.99L642.15 158.89L642.30 159.93L642.45 161.14L642.60 162.57L642.75 164.29L642.90 166.39L643.05 169.07L643.20 172.70L643.36 169.00L643.51 166.29L643.67 164.17L643.82 162.46L643.98 161.04L644.14 159.85L644.29 158.84L644.45 157.99L644.60 157.26L644.76 156.64L644.91 156.12L645.07 155.70L645.23 155.36L645.38 155.10L645.54 154.92L645.69 154.81L645.85 154.78L646.01 154.81L646.16 154.90L646.32 155.05L646.47 155.26L646.63 155.54L646.79 155.88L646.94 156.30L647.10 156.79L647.25 157.38L647.41 158.05L647.56 158.84L647.72 159.75L647.88 160.80L648.03 162.04L648.19 163.50L648.34 165.25L648.50 167.40L648.66 165.38L648.81 163.73L648.97 162.36L649.12 161.19L649.28 160.19L649.44 159.33L649.59 158.60L649.75 157.97L649.91 157.43L650.06 156.98L650.22 156.61L650.38 156.32L650.53 156.09L650.69 155.93L650.84 155.83L651.00 155.80L651.16 155.84L651.31 155.94L651.47 156.12L651.62 156.38L651.78 156.72L651.94 157.14L652.09 157.65L652.25 158.27L652.41 158.99L652.56 159.84L652.72 160.85L652.88 162.03L653.03 163.44L653.19 165.13L653.34 167.22L653.50 169.90L653.65 167.42L653.81 165.45L653.96 163.84L654.11 162.50L654.27 161.37L654.42 160.40L654.57 159.58L654.73 158.88L654.88 158.29L655.03 157.79L655.18 157.38L655.34 157.06L655.49 156.81L655.64 156.63L655.80 156.53L655.95 156.49L656.10 156.52L656.26 156.62L656.41 156.78L656.56 157.00L656.72 157.30L656.87 157.66L657.02 158.11L657.17 158.64L657.33 159.26L657.48 159.98L657.63 160.83L657.79 161.81L657.94 162.96L658.09 164.31L658.25 165.93L658.40 167.90L658.55 166.00L658.70 164.44L658.85 163.13L659.00 162.02L659.15 161.08L659.30 160.28L659.45 159.59L659.60 159.01L659.75 158.52L659.90 158.12L660.05 157.80L660.20 157.55L660.35 157.38L660.50 157.28L660.65 157.24L660.80 157.28L660.95 157.38L661.10 157.54L661.25 157.78L661.40 158.09L661.55 158.48L661.70 158.95L661.85 159.51L662.00 160.17L662.15 160.94L662.30 161.84L662.45 162.90L662.60 164.14L662.75 165.62L662.90 167.40L663.05 165.57L663.21 164.07L663.36 162.83L663.52 161.79L663.67 160.91L663.82 160.18L663.98 159.57L664.13 159.08L664.28 158.68L664.44 158.38L664.59 158.17L664.75 158.04L664.90 158.00L665.05 158.04L665.21 158.16L665.36 158.36L665.52 158.65L665.67 159.03L665.82 159.51L665.98 160.09L666.13 160.79L666.28 161.62L666.44 162.61L666.59 163.79L666.75 165.19L666.90 166.90L667.05 165.36L667.21 164.08L667.36 163.00L667.52 162.09L667.67 161.31L667.82 160.66L667.98 160.12L668.13 159.67L668.28 159.31L668.44 159.04L668.59 158.85L668.75 158.74L668.90 158.70L669.05 158.74L669.21 158.88L669.36 159.10L669.52 159.42L669.67 159.84L669.82 160.37L669.98 161.02L670.13 161.80L670.28 162.74L670.44 163.87L670.59 165.22L670.75 166.86L670.90 168.90L671.05 167.02L671.21 165.49L671.36 164.21L671.52 163.15L671.67 162.26L671.82 161.52L671.98 160.90L672.13 160.39L672.28 159.99L672.44 159.68L672.59 159.47L672.75 159.34L672.90 159.30L673.05 159.34L673.21 159.46L673.36 159.66L673.52 159.94L673.67 160.31L673.82 160.77L673.98 161.34L674.13 162.02L674.28 162.82L674.44 163.78L674.59 164.91L674.75 166.27L674.90 167.90L675.06 166.18L675.22 164.79L675.38 163.64L675.54 162.70L675.70 161.92L675.85 161.30L676.01 160.80L676.17 160.43L676.33 160.16L676.49 160.01L676.65 159.96L676.81 160.01L676.97 160.16L677.13 160.43L677.29 160.80L677.45 161.30L677.60 161.92L677.76 162.70L677.92 163.64L678.08 164.79L678.24 166.18L678.40 167.90L678.56 166.29L678.72 164.98L678.88 163.89L679.04 162.99L679.20 162.25L679.35 161.65L679.51 161.18L679.67 160.82L679.83 160.57L679.99 160.42L680.15 160.37L680.31 160.42L680.47 160.57L680.63 160.82L680.79 161.18L680.95 161.65L681.10 162.25L681.26 162.99L681.42 163.89L681.58 164.98L681.74 166.29L681.90 167.90L682.06 166.47L682.22 165.28L682.38 164.29L682.54 163.47L682.70 162.79L682.85 162.24L683.01 161.80L683.17 161.47L683.33 161.23L683.49 161.10L683.65 161.05L683.81 161.09L683.97 161.20L684.13 161.39L684.29 161.66L684.45 162.02L684.60 162.46L684.76 163.00L684.92 163.65L685.08 164.42L685.24 165.33L685.40 166.40L685.56 165.43L685.72 164.60L685.88 163.89L686.04 163.29L686.20 162.79L686.35 162.38L686.51 162.05L686.67 161.80L686.83 161.62L686.99 161.52L687.15 161.48L687.31 161.52L687.47 161.65L687.63 161.85L687.79 162.15L687.95 162.54L688.10 163.02L688.26 163.62L688.42 164.33L688.58 165.18L688.74 166.19L688.90 167.40L689.05 166.18L689.20 165.17L689.35 164.33L689.50 163.64L689.65 163.08L689.80 162.63L689.95 162.29L690.10 162.05L690.25 161.91L690.40 161.87L690.55 161.91L690.70 162.03L690.85 162.23L691.00 162.51L691.15 162.88L691.30 163.35L691.45 163.93L691.60 164.61L691.75 165.43L691.90 166.40L692.06 165.60L692.22 164.90L692.38 164.31L692.54 163.80L692.70 163.38L692.85 163.02L693.01 162.74L693.17 162.52L693.33 162.37L693.49 162.28L693.65 162.25L693.81 162.29L693.97 162.39L694.13 162.56L694.29 162.81L694.45 163.14L694.60 163.54L694.76 164.04L694.92 164.63L695.08 165.32L695.24 166.14L695.40 167.10L695.55 166.15L695.70 165.34L695.85 164.66L696.00 164.10L696.15 163.64L696.30 163.27L696.45 162.99L696.60 162.79L696.75 162.67L696.90 162.63L697.05 162.68L697.20 162.81L697.35 163.03L697.50 163.34L697.65 163.76L697.80 164.28L697.95 164.91L698.10 165.68L698.25 166.60L698.40 167.70L698.55 166.58L698.70 165.66L698.85 164.90L699.00 164.28L699.15 163.80L699.30 163.43L699.45 163.17L699.60 163.02L699.75 162.97L699.90 163.02L700.05 163.17L700.20 163.43L700.35 163.80L700.50 164.28L700.65 164.90L700.80 165.66L700.95 166.58L701.10 167.70L701.26 166.64L701.41 165.77L701.57 165.04L701.72 164.46L701.88 163.99L702.03 163.64L702.19 163.40L702.34 163.25L702.50 163.20L702.66 163.25L702.81 163.40L702.97 163.64L703.12 163.99L703.28 164.46L703.43 165.04L703.59 165.77L703.74 166.64L703.90 167.70L704.05 166.70L704.20 165.87L704.35 165.18L704.50 164.62L704.65 164.18L704.80 163.85L704.95 163.61L705.10 163.47L705.25 163.42L705.40 163.47L705.55 163.60L705.70 163.83L705.85 164.16L706.00 164.59L706.15 165.13L706.30 165.80L706.45 166.60L706.60 167.56L706.77 166.55L706.93 165.73L707.10 165.06L707.27 164.53L707.43 164.14L707.60 163.86L707.77 163.69L707.93 163.64L708.10 163.69L708.27 163.86L708.44 164.15L708.60 164.56L708.77 165.10L708.94 165.78L709.10 166.63L709.27 167.68L709.43 166.69L709.60 165.89L709.76 165.24L709.93 164.73L710.09 164.34L710.26 164.07L710.42 163.91L710.59 163.85L710.75 163.90L710.92 164.06L711.08 164.31L711.25 164.68L711.41 165.16L711.58 165.77L711.75 166.53L711.91 167.45L712.07 166.59L712.24 165.88L712.40 165.30L712.56 164.85L712.73 164.50L712.89 164.26L713.05 164.11L713.21 164.06L713.38 164.11L713.54 164.26L713.70 164.52L713.87 164.88L714.03 165.35L714.19 165.96L714.36 166.70L714.52 167.60L714.68 166.75L714.84 166.06L715.00 165.49L715.16 165.04L715.33 164.70L715.49 164.46L715.65 164.32L715.81 164.27L715.97 164.32L716.13 164.47L716.29 164.73L716.45 165.09L716.62 165.58L716.78 166.18L716.94 166.93L717.10 167.85L717.26 166.99L717.42 166.29L717.58 165.71L717.74 165.26L717.90 164.91L718.06 164.67L718.22 164.53L718.38 164.48L718.53 164.53L718.69 164.67L718.85 164.92L719.01 165.26L719.17 165.72L719.33 166.30L719.49 167.01L719.65 167.87L719.81 167.06L719.96 166.40L720.12 165.85L720.28 165.42L720.44 165.10L720.60 164.87L720.75 164.73L720.91 164.68L721.07 164.72L721.22 164.84L721.38 165.04L721.54 165.32L721.70 165.69L721.86 166.16L722.01 166.73L722.17 167.43L722.33 166.78L722.48 166.25L722.64 165.82L722.79 165.48L722.95 165.21L723.10 165.03L723.26 164.92L723.41 164.89L723.57 164.92L723.73 165.03L723.88 165.22L724.04 165.49L724.19 165.84L724.35 166.29L724.50 166.83L724.66 167.49L724.81 166.88L724.97 166.38L725.12 165.97L725.27 165.64L725.43 165.40L725.58 165.22L725.74 165.12L725.89 165.09L726.04 165.12L726.20 165.22L726.35 165.39L726.50 165.63L726.66 165.94L726.81 166.34L726.97 166.83L727.12 167.42L727.27 166.88L727.42 166.43L727.58 166.07L727.73 165.78L727.88 165.56L728.03 165.40L728.18 165.31L728.34 165.28L728.49 165.32L728.64 165.42L728.79 165.59L728.94 165.84L729.09 166.16L729.25 166.57L729.40 167.07L729.55 167.67L729.72 167.38L729.88 167.10L730.05 166.81L730.21 166.52L730.38 166.24L730.54 165.95L730.71 165.67L730.88 165.95L731.05 166.23L731.21 166.51L731.38 166.79L731.55 167.07L731.72 167.35L731.89 167.63L732.05 167.91L732.20 167.67L732.35 167.44L732.50 167.21L732.65 166.97L732.81 166.74L732.96 166.50L733.11 166.27L733.26 166.03L733.41 165.80L733.57 166.15L733.74 166.50L733.90 166.86L734.07 167.21L734.23 167.56L734.40 167.91L734.56 168.27L734.72 168.00L734.87 167.73L735.02 167.46L735.18 167.19L735.33 166.92L735.48 166.65L735.64 166.39L735.79 166.12L735.95 166.42L736.10 166.72L736.25 167.02L736.41 167.32L736.56 167.62L736.72 167.92L736.87 168.22L737.03 168.52L737.19 168.26L737.35 168.00L737.51 167.74L737.67 167.48L737.83 167.22L737.99 166.96L738.15 166.70L738.31 166.44L738.47 166.78L738.64 167.12L738.80 167.45L738.97 167.79L739.13 168.12L739.29 168.46L739.46 168.80L739.62 169.13L739.78 168.76L739.93 168.39L740.09 168.02L740.24 167.64L740.40 167.27L740.55 166.90L740.71 166.53L740.86 166.15L741.02 166.61L741.18 167.06L741.34 167.51L741.50 167.96L741.66 168.41L741.81 168.86L741.97 169.32L742.13 169.77L742.29 169.33L742.45 168.90L742.61 168.46L742.77 168.03L742.93 167.59L743.09 167.15L743.25 166.72L743.41 166.28L743.57 165.85L743.73 166.29L743.89 166.74L744.05 167.18L744.20 167.63L744.36 168.07L744.52 168.52L744.68 168.96L744.84 169.41L744.99 169.85L745.15 169.45L745.31 169.04L745.47 168.63L745.63 168.22L745.78 167.82L745.94 167.41L746.10 167.00L746.26 166.59L746.43 166.98L746.59 167.38L746.76 167.77L746.93 168.16L747.10 168.55L747.27 168.94L747.44 169.33L747.60 169.73L747.76 169.34L747.92 168.95L748.08 168.56L748.23 168.17L748.39 167.78L748.55 167.40L748.70 167.01L748.86 166.62L749.02 167.02L749.18 167.41L749.34 167.81L749.50 168.21L749.66 168.60L749.82 169.00L749.97 169.40L750.13 169.79L750.29 169.41L750.44 169.02L750.60 168.64L750.75 168.25L750.90 167.86L751.06 167.48L751.21 167.09L751.36 166.71L751.53 167.14L751.69 167.57L751.85 168.00L752.01 168.43L752.17 168.86L752.33 169.29L752.49 169.72L752.65 170.15L752.82 169.80L752.98 169.45L753.15 169.09L753.31 168.74L753.48 168.38L753.65 168.03L753.81 167.67L753.98 167.32L754.13 167.58L754.29 167.85L754.44 168.12L754.59 168.38L754.75 168.65L754.90 168.91L755.06 169.18L755.21 169.45L755.36 169.27L755.51 169.09L755.67 168.91L755.82 168.73L755.97 168.55L756.12 168.37L756.27 168.19L756.42 168.01L756.59 168.18L756.75 168.35L756.91 168.51L757.08 168.68L757.24 168.84L757.40 169.01L757.56 169.18L757.73 169.34L757.89 169.20L758.05 169.06L758.21 168.92L758.37 168.78L758.54 168.64L758.70 168.50L758.86 168.36L759.02 168.22L759.17 168.40L759.32 168.59L759.48 168.77L759.63 168.95L759.78 169.13L759.93 169.31L760.08 169.49L760.23 169.67L760.38 169.85L760.54 169.68L760.69 169.51L760.84 169.34L760.99 169.16L761.14 168.99L761.29 168.82L761.44 168.65L761.59 168.47L761.74 168.30L761.90 168.50L762.06 168.71L762.22 168.92L762.37 169.12L762.53 169.33L762.69 169.53L762.85 169.74L763.00 169.94L763.16 169.76L763.32 169.58L763.47 169.40L763.63 169.22L763.79 169.05L763.94 168.87L764.10 168.69L764.26 168.51L764.41 168.69L764.57 168.87L764.72 169.06L764.88 169.24L765.04 169.42L765.19 169.60L765.35 169.78L765.50 169.96L765.67 169.80L765.84 169.63L766.00 169.46L766.17 169.30L766.34 169.13L766.51 168.96L766.67 168.79L766.83 168.93L766.99 169.06L767.15 169.20L767.31 169.33L767.47 169.47L767.63 169.60L767.79 169.73L767.95 169.87L768.11 170.00L768.26 169.87L768.42 169.74L768.57 169.61L768.72 169.47L768.87 169.34L769.02 169.21L769.17 169.08L769.32 168.95L769.47 168.81L769.62 168.97L769.77 169.13L769.93 169.28L770.08 169.44L770.23 169.60L770.38 169.75L770.53 169.91L770.69 170.07L770.84 170.23L771.00 170.10L771.17 169.97L771.34 169.84L771.50 169.71L771.67 169.59L771.83 169.46L772.00 169.33L772.17 169.20L772.33 169.35L772.50 169.50L772.67 169.65L772.84 169.80L773.00 169.94L773.17 170.09L773.34 170.24L773.51 170.11L773.68 169.98L773.85 169.85L774.02 169.72L774.19 169.59L774.36 169.46L774.53 169.33L774.70 169.50L774.87 169.66L775.04 169.83L775.21 169.99L775.38 170.15L775.55 170.32L775.72 170.48L775.87 170.32L776.02 170.16L776.18 170.00L776.33 169.83L776.48 169.67L776.63 169.51L776.78 169.35L776.93 169.19L777.08 169.34L777.23 169.50L777.38 169.66L777.53 169.81L777.68 169.97L777.83 170.13L777.98 170.28L778.13 170.44L778.28 170.60L778.44 170.48L778.59 170.37L778.74 170.26L778.89 170.15L779.04 170.04L779.19 169.93L779.34 169.82L779.49 169.71L779.65 169.59L779.80 169.73L779.96 169.87L780.12 170.01L780.28 170.15L780.44 170.29L780.60 170.43L780.76 170.57L780.92 170.71L781.07 170.85L781.23 170.73L781.38 170.61L781.53 170.49L781.68 170.37L781.83 170.25L781.99 170.13L782.14 170.01L782.29 169.89L782.44 169.77L782.60 169.91L782.75 170.05L782.91 170.19L783.07 170.33L783.22 170.47L783.38 170.61L783.53 170.75L783.69 170.89L783.84 171.02L784.01 170.88L784.18 170.74L784.35 170.60L784.52 170.46L784.69 170.32L784.86 170.17L785.02 170.03L785.19 169.89L785.36 170.00L785.52 170.12L785.68 170.23L785.85 170.35L786.01 170.46L786.17 170.57L786.34 170.69L786.50 170.80L786.66 170.89L786.82 170.99L786.98 171.08L787.14 171.17L787.30 171.27L787.46 171.36L787.62 171.45L787.78 171.55L787.94 171.64L788.10 171.73L788.26 171.83L788.42 171.92L788.58 172.01L788.74 172.11L788.90 172.20L789.05 172.01L789.21 171.83L789.36 171.66L789.52 171.50L789.67 171.35L789.82 171.20L789.98 171.07L790.13 170.95L790.28 170.83L790.44 170.72L790.59 170.62L790.75 170.52L790.90 170.43L791.05 170.35L791.21 170.28L791.36 170.21L791.52 170.15L791.67 170.10L791.82 170.05L791.98 170.01L792.13 169.98L792.28 169.95L792.44 169.93L792.59 169.91L792.75 169.90L792.90 169.90L793.05 169.90L793.20 169.91L793.36 169.93L793.51 169.96L793.66 169.99L793.81 170.04L793.96 170.08L794.11 170.14L794.27 170.21L794.42 170.28L794.57 170.36L794.72 170.45L794.87 170.54L795.02 170.65L795.18 170.76L795.33 170.89L795.48 171.02L795.63 171.16L795.78 171.31L795.93 171.47L796.09 171.64L796.24 171.82L796.39 172.01L796.54 172.21L796.69 172.42L796.84 172.65L797.00 172.89L797.15 173.14L797.30 173.40L797.45 173.12L797.60 172.86L797.75 172.60L797.90 172.36L798.05 172.14L798.20 171.92L798.35 171.72L798.50 171.53L798.65 171.35L798.80 171.18L798.95 171.02L799.10 170.87L799.25 170.72L799.40 170.59L799.55 170.47L799.70 170.35L799.85 170.25L800.00 170.15L800.15 170.06L800.30 169.98L800.45 169.91L800.60 169.84L800.75 169.79L800.90 169.74L801.05 169.69L801.20 169.66L801.35 169.63L801.50 169.62L801.65 169.60L801.80 169.60L801.95 169.61L802.10 169.63L802.25 169.66L802.40 169.71L802.55 169.78L802.70 169.85L802.85 169.94L803.00 170.04L803.15 170.16L803.30 170.28L803.45 170.41L803.60 170.55L803.75 170.70L803.90 170.85L804.05 171.01L804.20 171.17L804.35 171.33L804.50 171.50L804.66 171.76L804.81 172.02L804.97 172.29L805.13 172.55L805.29 172.81L805.44 173.07L805.60 173.33L805.76 173.60L805.91 173.86L806.07 174.12L806.23 174.38L806.39 174.64L806.54 174.90L806.70 175.17L806.86 175.43L807.01 175.69L807.17 175.95L807.33 176.21L807.49 176.48L807.64 176.74L807.80 177.00L807.95 176.76L808.10 176.52L808.26 176.29L808.41 176.05L808.56 175.81L808.71 175.57L808.87 175.33L809.02 175.10L809.17 174.86L809.32 174.62L809.48 174.38L809.63 174.14L809.78 173.90L809.93 173.67L810.09 173.43L810.24 173.19L810.39 172.95L810.54 172.71L810.70 172.48L810.85 172.24L811.00 172.00L811.16 171.91L811.31 171.82L811.47 171.73L811.62 171.64L811.78 171.56L811.93 171.47L812.09 171.38L812.24 171.29L812.40 171.20L812.56 171.11L812.71 171.02L812.87 170.93L813.02 170.84L813.18 170.76L813.33 170.67L813.49 170.58L813.64 170.49L813.80 170.40L813.95 170.32L814.10 170.24L814.25 170.17L814.40 170.09L814.55 170.02L814.70 169.95L814.85 169.88L815.00 169.82L815.15 169.76L815.30 169.71L815.45 169.66L815.60 169.62L815.75 169.58L815.90 169.55L816.05 169.53L816.20 169.51L816.35 169.50L816.50 169.50L816.65 169.50L816.80 169.51L816.95 169.53L817.10 169.56L817.25 169.59L817.40 169.63L817.55 169.68L817.70 169.73L817.85 169.79L818.00 169.86L818.15 169.94L818.30 170.02L818.45 170.10L818.60 170.19L818.75 170.29L818.90 170.39L819.05 170.50L819.20 170.61L819.35 170.73L819.50 170.85L819.65 170.97L819.80 171.10L819.95 171.23L820.10 171.37L820.25 171.50L820.40 171.64L820.55 171.78L820.70 171.92L820.85 172.06L821.00 172.20L821.15 172.35L821.31 172.49L821.46 172.64L821.62 172.78L821.77 172.93L821.92 173.08L822.08 173.22L822.23 173.37L822.38 173.52L822.54 173.66L822.69 173.81L822.85 173.95L823.00 174.10L823.15 174.25L823.31 174.39L823.46 174.54L823.62 174.68L823.77 174.83L823.92 174.98L824.08 175.12L824.23 175.27L824.38 175.42L824.54 175.56L824.69 175.71L824.85 175.85L825.00 176.00L825.15 176.22L825.30 176.43L825.45 176.65L825.60 176.86L825.75 177.07L825.90 177.29L826.05 177.50L826.20 177.72L826.35 177.94L826.50 178.15L826.65 178.37L826.80 178.58L826.95 178.80L827.10 179.01L827.25 179.23L827.40 179.44L827.55 179.66L827.70 179.87L827.85 180.09L828.00 180.30L828.15 180.51L828.31 180.72L828.46 180.92L828.62 181.13L828.77 181.34L828.92 181.55L829.08 181.75L829.23 181.96L829.38 182.17L829.54 182.38L829.69 182.58L829.85 182.79L830.00 183.00L830.15 183.31L830.30 183.62L830.45 183.94L830.60 184.25L830.75 184.56L830.90 184.88L831.05 185.19L831.20 185.50L831.37 185.38L831.53 185.27L831.70 185.15L831.87 185.03L832.03 184.92L832.20 184.80L832.37 185.42L832.53 186.03L832.70 186.65L832.87 187.27L833.03 187.88L833.20 188.50L833.37 188.08L833.53 187.67L833.70 187.25L833.87 186.83L834.03 186.42L834.20 186.00L834.37 186.75L834.53 187.50L834.70 188.25L834.87 189.00L835.03 189.75L835.20 190.50L835.36 189.89L835.51 189.27L835.67 188.66L835.83 188.04L835.99 187.43L836.14 186.81L836.30 186.20L836.47 186.87L836.63 187.53L836.80 188.20L836.97 188.87L837.13 189.53L837.30 190.20L837.47 189.50L837.63 188.80L837.80 188.10L837.97 187.40L838.13 186.70L838.30 186.00L838.46 186.50L838.61 187.00L838.77 187.50L838.93 188.00L839.09 188.50L839.24 189.00L839.40 189.50L839.56 189.06L839.71 188.61L839.87 188.17L840.03 187.73L840.19 187.29L840.34 186.84L840.50 186.40L840.66 186.94L840.81 187.49L840.97 188.03L841.13 188.57L841.29 189.11L841.44 189.66L841.60 190.20L841.76 189.83L841.91 189.46L842.07 189.09L842.23 188.71L842.39 188.34L842.54 187.97L842.70 187.60L842.88 188.68L843.06 189.76L843.24 190.84L843.42 191.92L843.60 193.00L843.77 192.62L843.95 192.25L844.12 191.88L844.30 191.50L844.45 192.33L844.60 193.17L844.75 194.00L844.90 194.83L845.05 195.67L845.20 196.50L845.38 196.00L845.55 195.50L845.73 195.00L845.90 194.50L846.06 195.64L846.23 196.78L846.39 197.91L846.55 199.05L846.71 200.19L846.88 201.32L847.04 202.46L847.20 203.60L847.37 203.87L847.53 204.13L847.70 204.40L847.88 204.10L848.05 203.80L848.23 203.50L848.40 203.20L848.57 201.17L848.73 199.13L848.90 197.10L849.07 195.07L849.23 193.03L849.40 191.00L849.55 190.62L849.70 190.25L849.85 189.88L850.00 189.50L850.30 190.40L850.46 189.72L850.62 189.05L850.79 188.38L850.95 187.70L851.11 187.03L851.27 186.35L851.44 185.68L851.60 185.00L851.77 184.58L851.93 184.17L852.10 183.75L852.27 183.33L852.43 182.92L852.60 182.50L852.76 182.40L852.92 182.30L853.08 182.20L853.24 182.10L853.40 182.00L853.55 181.68L853.70 181.37L853.85 181.05L854.00 180.73L854.15 180.42L854.30 180.10L854.45 179.78L854.60 179.47L854.75 179.15L854.90 178.83L855.05 178.52L855.20 178.20L855.36 177.98L855.51 177.76L855.67 177.53L855.82 177.31L855.98 177.09L856.13 176.87L856.29 176.64L856.44 176.42L856.60 176.20L856.76 175.98L856.91 175.76L857.07 175.53L857.22 175.31L857.38 175.09L857.53 174.87L857.69 174.64L857.84 174.42L858.00 174.20L858.15 174.07L858.30 173.95L858.46 173.82L858.61 173.70L858.76 173.57L858.91 173.44L859.07 173.32L859.22 173.19L859.37 173.07L859.52 172.94L859.67 172.81L859.83 172.69L859.98 172.56L860.13 172.43L860.28 172.31L860.43 172.18L860.59 172.06L860.74 171.93L860.89 171.80L861.04 171.68L861.20 171.55L861.35 171.43L861.50 171.30L861.65 171.23L861.80 171.15L861.96 171.08L862.11 171.00L862.26 170.93L862.41 170.86L862.57 170.78L862.72 170.71L862.87 170.63L863.02 170.56L863.17 170.49L863.33 170.41L863.48 170.34L863.63 170.27L863.78 170.19L863.93 170.12L864.09 170.04L864.24 169.97L864.39 169.90L864.54 169.82L864.70 169.75L864.85 169.67L865.00 169.60L865.16 169.56L865.31 169.52L865.47 169.49L865.62 169.45L865.78 169.41L865.94 169.38L866.09 169.34L866.25 169.31L866.40 169.28L866.56 169.25L866.72 169.22L866.87 169.19L867.03 169.16L867.18 169.14L867.34 169.11L867.50 169.09L867.65 169.07L867.81 169.06L867.96 169.04L868.12 169.03L868.28 169.02L868.43 169.01L868.59 169.00L868.74 169.00L868.90 169.00L869.05 169.00L869.20 169.01L869.35 169.02L869.50 169.03L869.65 169.04L869.80 169.06L869.95 169.08L870.10 169.11L870.26 169.14L870.41 169.17L870.56 169.21L870.71 169.25L870.86 169.29L871.01 169.34L871.16 169.39L871.31 169.44L871.46 169.50L871.61 169.56L871.76 169.63L871.91 169.70L872.06 169.77L872.21 169.85L872.36 169.93L872.51 170.01L872.67 170.10L872.82 170.20L872.97 170.29L873.12 170.40L873.27 170.50L873.42 170.61L873.57 170.73L873.72 170.85L873.87 170.98L874.02 171.11L874.17 171.24L874.32 171.38L874.47 171.53L874.62 171.68L874.77 171.84L874.92 172.00L875.08 172.17L875.23 172.34L875.38 172.52L875.53 172.71L875.68 172.90L875.83 173.11L875.98 173.31L876.13 173.53L876.28 173.75L876.43 173.98L876.58 174.22L876.73 174.47L876.88 174.72L877.03 174.99L877.18 175.26L877.33 175.55L877.49 175.84L877.64 176.15L877.79 176.46L877.94 176.79L878.09 177.12L878.24 177.47L878.39 177.83L878.54 178.20L878.69 178.58L878.84 178.97L878.99 179.37L879.14 179.78L879.29 180.20L879.44 180.62L879.59 181.05L879.74 181.47L879.90 181.88L880.05 182.28L880.20 182.66L880.35 183.00L880.50 183.31L880.65 183.56L880.80 183.74L880.95 183.86L881.10 183.90L881.25 183.85L881.40 183.70L881.56 183.46L881.71 183.14L881.86 182.76L882.01 182.33L882.17 181.88L882.32 181.41L882.47 180.93L882.62 180.44L882.77 179.96L882.93 179.49L883.08 179.03L883.23 178.59L883.38 178.15L883.54 177.74L883.69 177.33L883.84 176.95L883.99 176.57L884.14 176.21L884.30 175.87L884.45 175.54L884.60 175.22L884.75 174.91L884.91 174.62L885.06 174.34L885.21 174.07L885.36 173.81L885.51 173.56L885.67 173.32L885.82 173.09L885.97 172.87L886.12 172.66L886.28 172.46L886.43 172.27L886.58 172.08L886.73 171.91L886.89 171.74L887.04 171.57L887.19 171.42L887.34 171.27L887.49 171.13L887.65 171.00L887.80 170.87L887.95 170.75L888.10 170.63L888.26 170.52L888.41 170.42L888.56 170.32L888.71 170.23L888.86 170.15L889.02 170.07L889.17 169.99L889.32 169.92L889.47 169.86L889.63 169.80L889.78 169.75L889.93 169.70L890.08 169.66L890.23 169.62L890.39 169.59L890.54 169.56L890.69 169.54L890.84 169.52L891.00 169.51L891.15 169.50L891.30 169.50L891.45 169.50L891.60 169.51L891.75 169.53L891.90 169.55L892.05 169.57L892.20 169.61L892.35 169.65L892.50 169.69L892.65 169.74L892.80 169.80L892.95 169.86L893.10 169.93L893.25 170.01L893.40 170.09L893.55 170.18L893.70 170.28L893.85 170.38L894.00 170.49L894.15 170.61L894.30 170.74L894.45 170.87L894.60 171.01L894.75 171.15L894.90 171.31L895.05 171.47L895.20 171.64L895.35 171.82L895.50 172.01L895.65 172.21L895.80 172.41L895.95 172.63L896.10 172.85L896.25 173.09L896.40 173.33L896.55 173.59L896.70 173.86L896.85 174.13L897.00 174.42L897.15 174.72L897.30 175.03L897.45 175.36L897.60 175.69L897.75 176.04L897.90 176.40L898.05 176.77L898.20 177.14L898.35 177.53L898.50 177.92L898.65 178.32L898.80 178.72L898.95 179.12L899.10 179.51L899.25 179.89L899.40 180.24L899.55 180.56L899.70 180.85L899.85 181.08L900.00 181.26L900.15 181.36L900.30 181.40L900.45 181.36L900.60 181.24L900.76 181.04L900.91 180.78L901.06 180.47L901.21 180.11L901.36 179.73L901.51 179.32L901.67 178.91L901.82 178.48L901.97 178.06L902.12 177.65L902.27 177.23L902.43 176.83L902.58 176.44L902.73 176.07L902.88 175.70L903.03 175.35L903.19 175.02L903.34 174.69L903.49 174.38L903.64 174.08L903.79 173.80L903.94 173.53L904.10 173.27L904.25 173.02L904.40 172.78L904.55 172.56L904.70 172.34L904.86 172.14L905.01 171.95L905.16 171.76L905.31 171.59L905.46 171.42L905.61 171.27L905.77 171.13L905.92 170.99L906.07 170.86L906.22 170.74L906.37 170.63L906.53 170.53L906.68 170.43L906.83 170.35L906.98 170.27L907.13 170.20L907.29 170.14L907.44 170.08L907.59 170.03L907.74 169.99L907.89 169.96L908.04 169.93L908.20 169.91L908.35 169.90L908.50 169.90L908.65 169.90L908.80 169.91L908.95 169.93L909.10 169.96L909.25 169.99L909.41 170.02L909.56 170.07L909.71 170.12L909.86 170.18L910.01 170.25L910.16 170.32L910.31 170.40L910.46 170.49L910.61 170.59L910.76 170.69L910.91 170.80L911.07 170.92L911.22 171.05L911.37 171.18L911.52 171.33L911.67 171.48L911.82 171.64L911.97 171.81L912.12 171.99L912.27 172.18L912.42 172.38L912.57 172.59L912.73 172.80L912.88 173.03L913.03 173.27L913.18 173.52L913.33 173.77L913.48 174.04L913.63 174.32L913.78 174.62L913.93 174.92L914.08 175.23L914.23 175.55L914.39 175.89L914.54 176.23L914.69 176.58L914.84 176.94L914.99 177.30L915.14 177.67L915.29 178.03L915.44 178.39L915.59 178.74L915.74 179.08L915.89 179.39L916.05 179.67L916.20 179.92L916.35 180.12L916.50 180.28L916.65 180.37L916.80 180.40L916.95 180.36L917.10 180.26L917.25 180.08L917.40 179.85L917.55 179.57L917.70 179.24L917.85 178.89L918.00 178.52L918.15 178.14L918.30 177.75L918.45 177.36L918.60 176.97L918.75 176.59L918.90 176.21L919.05 175.85L919.20 175.50L919.35 175.16L919.50 174.83L919.65 174.52L919.80 174.22L919.95 173.93L920.10 173.65L920.25 173.39L920.40 173.14L920.55 172.90L920.70 172.68L920.85 172.47L921.00 172.27L921.15 172.08L921.30 171.90L921.45 171.73L921.60 171.57L921.75 171.43L921.90 171.29L922.05 171.17L922.20 171.05L922.35 170.95L922.50 170.85L922.65 170.76L922.80 170.69L922.95 170.62L923.10 170.56L923.25 170.51L923.40 170.47L923.55 170.44L923.70 170.42L923.85 170.40L924.00 170.40L924.15 170.40L924.30 170.42L924.45 170.44L924.60 170.46L924.75 170.50L924.91 170.54L925.06 170.59L925.21 170.65L925.36 170.72L925.51 170.79L925.66 170.88L925.81 170.97L925.96 171.07L926.11 171.18L926.26 171.29L926.42 171.42L926.57 171.55L926.72 171.70L926.87 171.85L927.02 172.01L927.17 172.19L927.32 172.37L927.47 172.56L927.62 172.76L927.77 172.97L927.93 173.20L928.08 173.43L928.23 173.67L928.38 173.93L928.53 174.19L928.68 174.47L928.83 174.76L928.98 175.05L929.13 175.36L929.28 175.68L929.44 176.00L929.59 176.33L929.74 176.67L929.89 177.01L930.04 177.36L930.19 177.70L930.34 178.04L930.49 178.36L930.64 178.68L930.79 178.97L930.95 179.23L931.10 179.46L931.25 179.65L931.40 179.79L931.55 179.87L931.70 179.90L931.85 179.87L932.01 179.80L932.16 179.67L932.31 179.50L932.47 179.28L932.62 179.04L932.77 178.77L932.93 178.48L933.08 178.17L933.23 177.85L933.39 177.53L933.54 177.21L933.69 176.89L933.84 176.57L934.00 176.25L934.15 175.95L934.30 175.65L934.46 175.36L934.61 175.08L934.76 174.81L934.92 174.55L935.07 174.31L935.22 174.07L935.38 173.84L935.53 173.63L935.68 173.42L935.84 173.23L935.99 173.04L936.14 172.87L936.30 172.71L936.45 172.56L936.60 172.41L936.76 172.28L936.91 172.16L937.06 172.04L937.21 171.94L937.37 171.85L937.52 171.76L937.67 171.68L937.83 171.62L937.98 171.56L938.13 171.51L938.29 171.47L938.44 171.44L938.59 171.42L938.75 171.40L938.90 171.40L939.05 171.40L939.20 171.42L939.35 171.44L939.50 171.46L939.65 171.50L939.80 171.54L939.95 171.60L940.10 171.66L940.25 171.72L940.40 171.80L940.55 171.89L940.70 171.98L940.85 172.08L941.00 172.19L941.15 172.31L941.30 172.44L941.45 172.58L941.60 172.73L941.75 172.88L941.90 173.05L942.05 173.22L942.20 173.41L942.35 173.60L942.50 173.81L942.65 174.02L942.80 174.25L942.95 174.48L943.10 174.73L943.25 174.99L943.40 175.25L943.55 175.53L943.70 175.81L943.85 176.11L944.00 176.41L944.15 176.73L944.30 177.04L944.45 177.37L944.60 177.69L944.75 178.02L944.90 178.34L945.05 178.66L945.20 178.97L945.35 179.27L945.50 179.54L945.65 179.78L945.80 179.99L945.95 180.17L946.10 180.29L946.25 180.37L946.40 180.40L946.55 180.38L946.70 180.30L946.86 180.19L947.01 180.03L947.16 179.83L947.31 179.60L947.47 179.35L947.62 179.08L947.77 178.79L947.92 178.49L948.07 178.19L948.23 177.88L948.38 177.58L948.53 177.27L948.68 176.98L948.83 176.68L948.99 176.40L949.14 176.12L949.29 175.85L949.44 175.59L949.60 175.35L949.75 175.11L949.90 174.88L950.05 174.66L950.20 174.46L950.36 174.26L950.51 174.07L950.66 173.90L950.81 173.73L950.97 173.58L951.12 173.43L951.27 173.30L951.42 173.17L951.57 173.06L951.73 172.95L951.88 172.85L952.03 172.77L952.18 172.69L952.33 172.62L952.49 172.56L952.64 172.51L952.79 172.47L952.94 172.44L953.10 172.42L953.25 172.40L953.40 172.40L953.55 172.40L953.70 172.42L953.86 172.44L954.01 172.47L954.16 172.51L954.31 172.55L954.46 172.61L954.62 172.67L954.77 172.74L954.92 172.82L955.07 172.91L955.23 173.01L955.38 173.12L955.53 173.24L955.68 173.36L955.83 173.50L955.99 173.64L956.14 173.79L956.29 173.96L956.44 174.13L956.59 174.32L956.75 174.51L956.90 174.71L957.05 174.93L957.20 175.15L957.35 175.38L957.51 175.63L957.66 175.88L957.81 176.14L957.96 176.41L958.11 176.69L958.27 176.98L958.42 177.28L958.57 177.58L958.72 177.88L958.88 178.19L959.03 178.50L959.18 178.80L959.33 179.10L959.48 179.39L959.64 179.66L959.79 179.91L959.94 180.14L960.09 180.33L960.24 180.49L960.40 180.60L960.55 180.68L960.70 180.70L960.85 180.68L961.00 180.61L961.16 180.51L961.31 180.36L961.46 180.18L961.61 179.97L961.77 179.74L961.92 179.49L962.07 179.22L962.22 178.95L962.38 178.66L962.53 178.38L962.68 178.09L962.83 177.80L962.98 177.52L963.14 177.25L963.29 176.98L963.44 176.72L963.59 176.46L963.75 176.22L963.90 175.99L964.05 175.76L964.20 175.55L964.35 175.35L964.51 175.15L964.66 174.97L964.81 174.80L964.96 174.64L965.12 174.48L965.27 174.34L965.42 174.21L965.57 174.09L965.73 173.98L965.88 173.88L966.03 173.79L966.18 173.71L966.33 173.63L966.49 173.57L966.64 173.52L966.79 173.48L966.94 173.44L967.10 173.42L967.25 173.40L967.40 173.40L967.55 173.40L967.70 173.41L967.85 173.43L968.00 173.46L968.15 173.49L968.31 173.53L968.46 173.58L968.61 173.64L968.76 173.70L968.91 173.77L969.06 173.85L969.21 173.93L969.36 174.03L969.51 174.13L969.66 174.24L969.82 174.35L969.97 174.48L970.12 174.61L970.27 174.75L970.42 174.90L970.57 175.06L970.72 175.23L970.87 175.40L971.02 175.59L971.17 175.78L971.33 175.98L971.48 176.19L971.63 176.41L971.78 176.63L971.93 176.87L972.08 177.11L972.23 177.36L972.38 177.62L972.53 177.88L972.68 178.14L972.84 178.42L972.99 178.69L973.14 178.97L973.29 179.24L973.44 179.52L973.59 179.79L973.74 180.05L973.89 180.30L974.04 180.53L974.19 180.74L974.35 180.93L974.50 181.09L974.65 181.23L974.80 181.32L974.95 181.38L975.10 181.40L975.25 181.38L975.40 181.31L975.56 181.21L975.71 181.06L975.86 180.88L976.01 180.67L976.17 180.44L976.32 180.19L976.47 179.92L976.62 179.65L976.77 179.36L976.93 179.08L977.08 178.79L977.23 178.50L977.38 178.22L977.54 177.95L977.69 177.68L977.84 177.42L977.99 177.16L978.15 176.92L978.30 176.69L978.45 176.46L978.60 176.25L978.75 176.05L978.91 175.85L979.06 175.67L979.21 175.50L979.36 175.34L979.52 175.18L979.67 175.04L979.82 174.91L979.97 174.79L980.12 174.68L980.28 174.58L980.43 174.49L980.58 174.41L980.73 174.33L980.89 174.27L981.04 174.22L981.19 174.18L981.34 174.14L981.50 174.12L981.65 174.10L981.80 174.10L981.95 174.10L982.10 174.12L982.25 174.13L982.40 174.16L982.55 174.20L982.70 174.24L982.85 174.29L983.00 174.35L983.15 174.41L983.30 174.49L983.45 174.57L983.60 174.66L983.75 174.76L983.90 174.87L984.05 174.98L984.20 175.11L984.35 175.24L984.50 175.38L984.65 175.53L984.80 175.69L984.95 175.86L985.10 176.04L985.25 176.22L985.40 176.42L985.55 176.63L985.70 176.84L985.85 177.06L986.00 177.30L986.15 177.54L986.30 177.79L986.45 178.05L986.60 178.31L986.75 178.59L986.90 178.87L987.05 179.16L987.20 179.45L987.35 179.74L987.50 180.04L987.65 180.33L987.80 180.62L987.95 180.90L988.10 181.18L988.25 181.43L988.40 181.67L988.55 181.88L988.70 182.06L988.85 182.20L989.00 182.31L989.15 182.38L989.30 182.40L989.45 182.38L989.60 182.33L989.75 182.24L989.90 182.12L990.05 181.97L990.20 181.80L990.35 181.60L990.50 181.38L990.65 181.15L990.80 180.91L990.95 180.66L991.10 180.40L991.25 180.14L991.40 179.88L991.55 179.62L991.70 179.36L991.85 179.11L992.00 178.86L992.15 178.62L992.30 178.38L992.45 178.15L992.60 177.92L992.75 177.71L992.90 177.50L993.05 177.30L993.20 177.11L993.35 176.92L993.50 176.75L993.65 176.58L993.80 176.42L993.95 176.27L994.10 176.13L994.25 175.99L994.40 175.87L994.55 175.75L994.70 175.64L994.85 175.53L995.00 175.44L995.15 175.35L995.30 175.27L995.45 175.20L995.60 175.14L995.75 175.08L995.90 175.03L996.05 174.99L996.20 174.96L996.35 174.93L996.50 174.91L996.65 174.90L996.80 174.90L996.95 174.90L997.10 174.91L997.25 174.93L997.40 174.95L997.55 174.98L997.71 175.02L997.86 175.07L998.01 175.12L998.16 175.18L998.31 175.24L998.46 175.31L998.61 175.39L998.76 175.48L998.91 175.57L999.06 175.67L999.22 175.78L999.37 175.90L999.52 176.02L999.67 176.15L999.82 176.29L999.97 176.44L1000.12 176.59L1000.27 176.75L1000.42 176.92L1000.57 177.10L1000.72 177.28L1000.88 177.48L1001.03 177.68L1001.18 177.89L1001.33 178.10L1001.48 178.33L1001.63 178.56L1001.78 178.80L1001.93 179.04L1002.08 179.29L1002.23 179.55L1002.38 179.81L1002.54 180.07L1002.69 180.34L1002.84 180.60L1002.99 180.87L1003.14 181.13L1003.29 181.39L1003.44 181.63L1003.59 181.87L1003.74 182.09L1003.89 182.29L1004.05 182.46L1004.20 182.62L1004.35 182.74L1004.50 182.83L1004.65 182.88L1004.80 182.90L1005.00 182.70" stroke="#000000" stroke-width="1.04"/>
</g>
<g fill="none" stroke-linejoin="round">
<path d="M101.80 435.06L102.80 435.05L103.80 435.05L104.80 435.05L105.80 435.06L106.80 435.06L107.80 435.07L108.80 435.08L109.80 435.09L110.80 435.10L111.80 435.12L112.80 435.13L113.80 435.15L114.80 435.16L115.80 435.18L116.80 435.19L117.80 435.21L118.80 435.22L119.80 435.23L120.80 435.25L121.80 435.26L122.80 435.27L123.80 435.27L124.80 435.28L125.80 435.29L126.80 435.29L127.80 435.30L128.80 435.30L129.80 435.30L130.80 435.30L131.80 435.30L132.80 435.31L133.80 435.31L134.80 435.31L135.80 435.31L136.80 435.31L137.80 435.32L138.80 435.32L139.80 435.33L140.80 435.34L141.80 435.35L142.80 435.36L143.80 435.38L144.80 435.39L145.80 435.41L146.80 435.43L147.80 435.44L148.80 435.47L149.80 435.49L150.00 435.49L150.10 435.49L150.20 435.50L150.30 435.51L150.40 435.52L150.50 435.53L150.60 435.54L150.70 435.55L150.80 435.56L150.90 435.43L151.00 435.43L151.10 435.43L151.20 435.56L151.30 435.56L151.40 435.54L151.50 435.52L151.60 435.50L151.70 435.32L151.80 435.28L151.90 435.23L152.00 435.18L152.10 435.12L152.20 435.06L152.30 435.00L152.40 434.94L152.50 434.87L152.60 434.81L152.70 434.74L152.80 434.68L152.90 434.63L153.00 434.58L153.10 434.53L153.20 434.49L153.30 434.45L153.40 434.41L153.50 434.38L153.60 434.36L153.70 434.36L153.80 434.38L153.90 434.42L154.00 434.48L154.10 434.58L154.20 434.70L154.30 434.85L154.40 435.04L154.50 435.26L154.60 435.51L154.70 435.79L154.80 436.11L154.90 436.45L155.00 436.81L155.10 437.19L155.20 437.59L155.30 437.99L155.40 438.40L155.50 438.80L155.60 439.19L155.70 439.56L155.80 439.90L155.90 440.20L156.00 440.47L156.10 440.68L156.20 440.84L156.30 440.94L156.40 440.98L156.50 440.95L156.60 440.85L156.70 440.67L156.80 440.41L156.90 440.08L157.00 439.66L157.10 439.15L157.20 438.57L157.30 437.91L157.40 437.17L157.50 436.36L157.60 435.49L157.70 434.57L157.80 433.59L157.90 432.59L158.00 431.55L158.10 430.50L158.20 429.46L158.30 428.43L158.40 427.42L158.50 426.46L158.60 425.56L158.70 424.74L158.80 424.00L158.90 423.37L159.00 422.86L159.10 422.48L159.20 422.24L159.30 422.15L159.40 422.22L159.50 422.46L159.60 422.87L159.70 423.46L159.80 424.23L159.90 425.18L160.00 426.31L160.10 427.60L160.20 429.06L160.30 430.67L160.40 432.42L160.50 434.29L160.60 436.26L160.70 438.30L160.80 440.41L160.90 442.54L161.00 444.68L161.10 446.80L161.20 448.86L161.30 450.84L161.40 452.70L161.50 454.43L161.60 455.98L161.70 457.34L161.80 458.47L161.90 459.36L162.00 459.98L162.10 460.32L162.20 460.38L162.30 460.13L162.40 459.57L162.50 458.68L162.60 457.46L162.70 455.92L162.80 454.05L162.90 451.87L163.00 449.39L163.10 446.63L163.20 443.61L163.30 440.37L163.40 436.94L163.50 433.35L163.60 429.66L163.70 425.89L163.80 422.11L163.90 418.36L164.00 414.69L164.10 411.16L164.20 407.81L164.30 404.69L164.40 401.86L164.50 399.36L164.60 397.22L164.70 395.49L164.80 394.20L164.90 393.38L165.00 393.04L165.10 393.19L165.20 393.83L165.30 394.98L165.40 396.62L165.50 398.76L165.60 401.36L165.70 404.42L165.80 407.91L165.90 411.80L166.00 416.04L166.10 420.60L166.20 425.44L166.30 430.49L166.40 435.72L166.50 441.06L166.60 446.45L166.70 451.83L166.80 457.15L166.90 462.33L167.00 467.32L167.10 472.06L167.20 476.49L167.30 480.55L167.40 484.18L167.50 487.34L167.60 489.97L167.70 492.05L167.80 493.53L167.90 494.38L168.00 494.59L168.10 494.13L168.20 493.01L168.30 491.22L168.40 488.75L168.50 485.64L168.60 481.89L168.70 477.54L168.80 472.63L168.90 467.20L169.00 461.32L169.10 455.04L169.20 448.44L169.30 441.58L169.40 434.54L169.50 427.41L169.60 420.26L169.70 413.19L169.80 406.28L169.90 399.62L170.00 393.27L170.10 387.33L170.20 381.86L170.30 376.93L170.40 372.60L170.50 368.92L170.60 365.94L170.70 363.69L170.80 362.20L170.90 361.48L171.00 361.53L171.10 362.35L171.20 363.91L171.30 366.19L171.40 369.18L171.50 372.83L171.60 377.10L171.70 381.96L171.80 387.36L171.90 393.24L172.00 399.55L172.10 406.22L172.20 413.21L172.30 420.44L172.40 427.86L172.50 435.71L172.60 442.95L172.70 450.49L172.80 457.94L172.90 465.23L173.00 472.29L173.10 479.05L173.20 485.45L173.30 491.43L173.40 496.91L173.50 501.85L173.60 506.18L173.70 509.86L173.80 512.84L173.90 515.08L174.00 516.54L174.10 517.18L174.20 516.99L174.30 515.96L174.40 514.08L174.50 511.35L174.60 507.80L174.70 503.43L174.80 498.29L174.90 492.42L175.00 485.86L175.10 478.70L175.20 470.99L175.30 462.82L175.40 454.28L175.50 445.46L175.60 436.46L175.70 427.38L175.80 418.33L175.90 409.41L176.00 400.74L176.10 392.42L176.20 384.54L176.30 377.22L176.40 370.52L176.50 364.55L176.60 359.37L176.70 355.05L176.80 351.63L176.90 349.17L177.00 347.68L177.10 347.18L177.20 347.67L177.30 349.13L177.40 351.56L177.50 354.92L177.60 359.17L177.70 364.27L177.80 370.16L177.90 376.77L178.00 384.02L178.10 391.83L178.20 400.11L178.30 408.76L178.40 417.68L178.50 426.78L178.60 435.94L178.70 445.06L178.80 454.04L178.90 462.78L179.00 471.18L179.10 479.15L179.20 486.60L179.30 493.46L179.40 499.65L179.50 505.11L179.60 509.78L179.70 513.63L179.80 516.61L179.90 518.70L180.00 519.89L180.10 520.18L180.20 519.56L180.30 518.05L180.40 515.67L180.50 512.47L180.60 508.47L180.70 503.75L180.80 498.35L180.90 492.34L181.00 485.79L181.10 478.77L181.20 471.36L181.30 463.64L181.40 455.70L181.50 447.60L181.60 439.45L181.70 431.32L181.80 423.30L181.90 415.46L182.00 407.88L182.10 400.64L182.20 393.81L182.30 387.45L182.40 381.63L182.50 376.40L182.60 371.82L182.70 367.92L182.80 364.75L182.90 362.33L183.00 360.68L183.10 359.83L183.20 359.78L183.30 360.53L183.40 362.09L183.50 364.43L183.60 367.53L183.70 371.36L183.80 375.87L183.90 380.99L184.00 386.69L184.10 392.87L184.20 399.47L184.30 406.41L184.40 413.60L184.50 420.96L184.60 428.39L184.70 435.81L184.80 443.13L184.90 450.26L185.00 457.13L185.10 463.66L185.20 469.77L185.30 475.41L185.40 480.51L185.50 485.04L185.60 488.94L185.70 492.20L185.80 494.78L185.90 496.68L186.00 497.89L186.10 498.42L186.20 498.28L186.30 497.49L186.40 496.08L186.50 494.08L186.60 491.53L186.70 488.47L186.80 484.94L186.90 481.00L187.00 476.69L187.10 472.07L187.20 467.19L187.30 462.10L187.40 456.85L187.50 451.51L187.60 446.11L187.70 440.72L187.80 435.55L187.90 430.14L188.00 425.06L188.10 420.17L188.20 415.51L188.30 411.13L188.40 407.06L188.50 403.34L188.60 400.00L188.70 397.06L188.80 394.54L188.90 392.47L189.00 390.86L189.10 389.72L189.20 389.06L189.30 388.88L189.40 389.18L189.50 389.96L189.60 391.21L189.70 392.91L189.80 395.05L189.90 397.59L190.00 400.49L190.10 403.73L190.20 407.25L190.30 411.01L190.40 414.95L190.50 419.03L190.60 423.19L190.70 427.37L190.80 431.53L190.90 435.60L191.00 439.55L191.10 443.33L191.20 446.89L191.30 450.20L191.40 453.23L191.50 455.95L191.60 458.35L191.70 460.40L191.80 462.09L191.90 463.43L192.00 464.41L192.10 465.05L192.20 465.34L192.30 465.31L192.40 464.98L192.50 464.36L192.60 463.46L192.70 462.32L192.80 460.95L192.90 459.38L193.00 457.63L193.10 455.74L193.20 453.71L193.30 451.59L193.40 449.40L193.50 447.15L193.60 444.88L193.70 442.61L193.80 440.36L193.90 438.15L194.00 436.01L194.10 433.93L194.20 431.96L194.30 430.09L194.40 428.35L194.50 426.73L194.60 425.26L194.70 423.95L194.80 422.79L194.90 421.79L195.00 420.96L195.10 420.29L195.20 419.79L195.30 419.45L195.40 419.28L195.50 419.26L195.60 419.40L195.70 419.68L195.80 420.10L195.90 420.67L196.00 421.36L196.10 422.17L196.20 423.08L196.30 424.09L196.40 425.16L196.50 426.30L196.60 427.47L196.70 428.67L196.80 429.88L196.90 431.07L197.00 432.24L197.10 433.37L197.20 434.45L197.30 435.46L197.40 436.41L197.50 437.28L197.60 438.06L197.70 438.76L197.80 439.37L197.90 439.90L198.00 440.33L198.10 440.69L198.20 440.97L198.30 441.18L198.40 441.32L198.50 441.40L198.60 441.44L198.70 441.42L198.80 441.37L198.90 441.29L199.00 441.18L199.10 441.04L199.20 440.88L199.30 440.68L199.40 440.47L199.50 440.23L199.60 439.98L199.70 439.71L199.80 439.43L199.90 439.14L200.00 438.84L200.10 438.54L200.20 438.24L200.30 437.93L200.40 437.63L200.50 437.32L200.60 437.02L200.70 436.73L200.80 436.44L200.90 436.16L201.00 435.88L201.10 435.61L201.20 435.48L201.30 435.10L201.40 434.86L201.50 434.63L201.60 434.41L201.70 434.20L201.80 434.01L201.90 433.82L202.00 433.65L202.10 433.49L202.20 433.35L202.30 433.21L202.40 433.10L202.50 432.99L202.60 432.90L202.70 432.83L202.80 432.77L202.90 432.73L203.00 432.70L203.10 432.68L203.20 432.68L203.30 432.70L203.40 432.73L203.50 432.78L203.60 432.84L203.70 432.92L203.80 433.01L203.90 433.11L204.00 433.22L204.10 433.34L204.20 433.46L204.30 433.60L204.40 433.74L204.50 433.88L204.60 434.03L204.70 434.18L204.80 434.33L204.90 434.48L205.00 434.63L205.10 434.77L205.20 434.91L205.30 435.05L205.40 435.18L205.50 435.31L205.60 435.50L205.70 435.53L205.80 435.63L205.90 435.73L206.00 435.81L206.10 435.89L206.20 435.96L206.30 436.02L206.40 436.07L206.50 436.11L206.60 436.15L206.70 436.18L206.80 436.20L206.90 436.21L207.00 436.22L207.10 436.22L207.20 436.22L207.30 436.21L207.40 436.20L207.50 436.18L207.60 436.16L207.70 436.13L207.80 436.10L207.90 436.07L208.00 436.03L208.10 435.99L208.20 435.95L208.30 435.90L208.40 435.85L208.50 435.79L208.60 435.74L208.70 435.69L208.80 435.63L208.90 435.57L209.00 435.52L209.10 435.46L209.20 435.42L209.30 435.36L209.40 435.30L209.50 435.26L209.60 435.21L209.70 435.17L209.80 435.13L209.90 435.09L210.00 435.06L210.10 435.04L210.20 435.01L210.30 434.99L210.40 434.98L210.50 434.97L210.60 434.96L210.70 434.96L210.80 434.97L210.90 434.97L211.00 434.98L211.10 434.99L211.20 435.01L211.30 435.02L211.40 435.04L211.50 435.06L211.60 435.08L211.70 435.11L211.80 435.13L211.90 435.16L212.00 435.18L212.10 435.21L212.20 435.23L212.30 435.25L212.40 435.28L212.50 435.30L212.60 435.32L212.70 435.28L212.80 435.29L212.90 435.31L213.00 435.32L213.10 435.33L213.20 435.34L213.30 435.35L213.40 435.44L213.50 435.44L213.60 435.45L213.70 435.45L213.80 435.45L213.90 435.45L214.00 435.45L214.10 435.45L214.20 435.44L214.30 435.44L214.40 435.43L214.50 435.32L214.60 435.31L214.70 435.30L214.80 435.29L214.90 435.28L215.00 435.27L216.00 435.25L217.00 435.22L218.00 435.20L219.00 435.19L220.00 435.17L221.00 435.15L222.00 435.14L223.00 435.13L224.00 435.12L225.00 435.11L226.00 435.11L227.00 435.10L228.00 435.10L229.00 435.10L230.00 435.11L231.00 435.11L232.00 435.12L233.00 435.13L234.00 435.14L235.00 435.15L236.00 435.16L237.00 435.17L238.00 435.18L239.00 435.19L240.00 435.20L241.00 435.21L242.00 435.22L243.00 435.23L244.00 435.24L245.00 435.24L246.00 435.25L247.00 435.25L248.00 435.25L249.00 435.25L250.00 435.25L251.00 435.25L252.00 435.25L253.00 435.25L254.00 435.25L255.00 435.24L256.00 435.24L257.00 435.24L258.00 435.23L259.00 435.23L260.00 435.23L261.00 435.23L262.00 435.23L263.00 435.24L264.00 435.24L265.00 435.24L266.00 435.25L267.00 435.26L268.00 435.27L269.00 435.28L270.00 435.29L271.00 435.31L272.00 435.32L273.00 435.34L274.00 435.35L275.00 435.37L276.00 435.38L277.00 435.40L278.00 435.41L279.00 435.43L280.00 435.44L281.00 435.45L282.00 435.46L283.00 435.47L284.00 435.48L285.00 435.48L286.00 435.49L287.00 435.49L288.00 435.49L289.00 435.49L290.00 435.48L291.00 435.48L292.00 435.47L293.00 435.46L294.00 435.45L295.00 435.44L296.00 435.43L297.00 435.42L298.00 435.41L299.00 435.40L300.00 435.39L301.00 435.38L302.00 435.37L303.00 435.37L304.00 435.36L305.00 435.36L306.00 435.35L307.00 435.35L308.00 435.35L309.00 435.36L310.00 435.36L311.00 435.36L312.00 435.37L313.00 435.38L314.00 435.39L315.00 435.40L316.00 435.41L317.00 435.42L318.00 435.43L319.00 435.44L320.00 435.45L321.00 435.46L322.00 435.46L323.00 435.47L324.00 435.48L325.00 435.48L326.00 435.49L327.00 435.49L328.00 435.49L329.00 435.49L330.00 435.49L331.00 435.49L332.00 435.48L333.00 435.48L334.00 435.47L335.00 435.47L336.00 435.46L337.00 435.46L338.00 435.45L339.00 435.44L340.00 435.44L341.00 435.43L342.00 435.43L343.00 435.43L344.00 435.42L345.00 435.42L346.00 435.42L347.00 435.43L348.00 435.43L349.00 435.44L350.00 435.44L351.00 435.45L352.00 435.46L353.00 435.47L354.00 435.48L355.00 435.49L356.00 435.50L357.00 435.52L358.00 435.53L359.00 435.54L360.00 435.55L361.00 435.56L362.00 435.57L363.00 435.58L364.00 435.58L365.00 435.59L366.00 435.59L367.00 435.59L368.00 435.59L369.00 435.58L370.00 435.58L371.00 435.57L372.00 435.56L373.00 435.55L374.00 435.54L375.00 435.52L376.00 435.51L377.00 435.49L378.00 435.48L379.00 435.46L380.00 435.44L381.00 435.43L382.00 435.41L383.00 435.39L384.00 435.38L385.00 435.36L386.00 435.35L387.00 435.34L388.00 435.33L389.00 435.32L390.00 435.31L391.00 435.30L392.00 435.29L393.00 435.29L394.00 435.29L395.00 435.28L396.00 435.28L397.00 435.28L398.00 435.28L399.00 435.28L400.00 435.28L401.00 435.27L402.00 435.27L403.00 435.27L404.00 435.27L405.00 435.26L406.00 435.26L407.00 435.25L408.00 435.25L409.00 435.24L410.00 435.23L411.00 435.22L412.00 435.21L413.00 435.19L414.00 435.18L415.00 435.17L416.00 435.16L417.00 435.14L418.00 435.13L419.00 435.12L420.00 435.11L421.00 435.09L422.00 435.08L423.00 435.08L424.00 435.07L425.00 435.06L426.00 435.06L427.00 435.06L428.00 435.06L429.00 435.07L430.00 435.07L431.00 435.08L432.00 435.09L433.00 435.10L434.00 435.11L435.00 435.13L436.00 435.14L437.00 435.16L438.00 435.18L439.00 435.20L440.00 435.22L441.00 435.24L442.00 435.26L443.00 435.28L444.00 435.30L445.00 435.32L446.00 435.34L447.00 435.36L448.00 435.37L449.00 435.39L450.00 435.40L451.00 435.42L452.00 435.43L453.00 435.44L454.00 435.45L455.00 435.45L456.00 435.46L457.00 435.46L458.00 435.47L459.00 435.47L460.00 435.48L461.00 435.48L462.00 435.48L463.00 435.49L464.00 435.49L465.00 435.50L466.00 435.50L467.00 435.51L468.00 435.52L469.00 435.52L470.00 435.53L471.00 435.54L472.00 435.55L473.00 435.56L474.00 435.57L475.00 435.58L476.00 435.60L477.00 435.61L478.00 435.62L479.00 435.63L480.00 435.64L481.00 435.65L482.00 435.66L483.00 435.67L484.00 435.68L485.00 435.69L486.00 435.69L487.00 435.69L488.00 435.69L489.00 435.69L490.00 435.69L491.00 435.68L492.00 435.67L493.00 435.66L494.00 435.65L495.00 435.63L496.00 435.62L497.00 435.60L498.00 435.58L499.00 435.57L500.00 435.55L501.00 435.53L502.00 435.50L503.00 435.48L504.00 435.46L505.00 435.45L506.00 435.43L507.00 435.41L508.00 435.39L509.00 435.38L510.00 435.36L511.00 435.35L512.00 435.34L513.00 435.33L514.00 435.32L515.00 435.31L516.00 435.31L517.00 435.30L518.00 435.30L519.00 435.30L520.00 435.30L521.00 435.29L522.00 435.29L523.00 435.29L524.00 435.29L525.00 435.29L526.00 435.29L527.00 435.29L528.00 435.29L529.00 435.28L530.00 435.28L531.00 435.28L532.00 435.27L533.00 435.27L534.00 435.26L535.00 435.25L536.00 435.24L537.00 435.24L538.00 435.23L539.00 435.22L540.00 435.21L541.00 435.20L542.00 435.20L543.00 435.19L544.00 435.18L545.00 435.18L546.00 435.18L547.00 435.17L548.00 435.17L549.00 435.18L550.00 435.18L551.00 435.18L552.00 435.19L553.00 435.20L554.00 435.21L555.00 435.22L556.00 435.23L557.00 435.25L558.00 435.26L559.00 435.28L560.00 435.30L561.00 435.31L562.00 435.33L563.00 435.35L564.00 435.37L565.00 435.38L566.00 435.40L567.00 435.41L568.00 435.43L569.00 435.44L570.00 435.45L571.00 435.46L572.00 435.47L573.00 435.47L574.00 435.48L575.00 435.48L576.00 435.48L577.00 435.48L578.00 435.48L579.00 435.48L580.00 435.48L581.00 435.47L582.00 435.47L583.00 435.46L584.00 435.46L585.00 435.45L586.00 435.44L587.00 435.44L588.00 435.43L589.00 435.43L590.00 435.43L591.00 435.42L592.00 435.42L593.00 435.42L594.00 435.42L595.00 435.42L596.00 435.42L597.00 435.42L598.00 435.43L599.00 435.43L600.00 435.43L601.00 435.44L602.00 435.44L603.00 435.44L604.00 435.45L605.00 435.45L606.00 435.45L607.00 435.45L608.00 435.45L609.00 435.45L610.00 435.45L611.00 435.44L612.00 435.44L613.00 435.43L614.00 435.42L615.00 435.42L616.00 435.41L617.00 435.39L618.00 435.38L619.00 435.37L620.00 435.36L621.00 435.34L622.00 435.33L623.00 435.31L624.00 435.30L625.00 435.29L626.00 435.27L627.00 435.26L628.00 435.25L629.00 435.24L630.00 435.24L631.00 435.23L632.00 435.23L633.00 435.22L634.00 435.22L635.00 435.22L636.00 435.23L637.00 435.23L638.00 435.24L639.00 435.24L640.00 435.25L641.00 435.26L642.00 435.27L643.00 435.28L644.00 435.29L645.00 435.31L646.00 435.32L647.00 435.33L648.00 435.34L649.00 435.35L650.00 435.36L651.00 435.37L652.00 435.38L653.00 435.39L654.00 435.39L655.00 435.40L656.00 435.40L657.00 435.41L658.00 435.41L659.00 435.41L660.00 435.41L661.00 435.41L662.00 435.41L663.00 435.41L664.00 435.41L665.00 435.41L666.00 435.41L667.00 435.41L668.00 435.41L669.00 435.41L670.00 435.41L671.00 435.41L672.00 435.41L673.00 435.42L674.00 435.42L675.00 435.43L676.00 435.43L677.00 435.44L678.00 435.45L679.00 435.46L680.00 435.47L681.00 435.48L682.00 435.49L683.00 435.50L684.00 435.51L685.00 435.52L686.00 435.53L687.00 435.54L688.00 435.54L689.00 435.55L690.00 435.55L691.00 435.56L692.00 435.56L693.00 435.56L694.00 435.56L695.00 435.56L696.00 435.55L697.00 435.54L698.00 435.54L699.00 435.53L700.00 435.52L701.00 435.50L702.00 435.49L703.00 435.48L704.00 435.46L705.00 435.45L706.00 435.43L707.00 435.42L708.00 435.41L709.00 435.39L710.00 435.38L711.00 435.37L712.00 435.35L713.00 435.34L714.00 435.34L715.00 435.33L716.00 435.32L717.00 435.32L718.00 435.31L719.00 435.31L720.00 435.31L721.00 435.31L722.00 435.31L723.00 435.31L724.00 435.31L725.00 435.31L726.00 435.31L727.00 435.32L728.00 435.32L729.00 435.32L730.00 435.32L731.00 435.32L732.00 435.33L733.00 435.33L734.00 435.32L735.00 435.32L736.00 435.32L737.00 435.32L738.00 435.31L739.00 435.31L740.00 435.30L741.00 435.30L742.00 435.29L743.00 435.29L744.00 435.28L745.00 435.27L746.00 435.27L747.00 435.26L748.00 435.26L749.00 435.25L750.00 435.25L751.00 435.25L752.00 435.25L753.00 435.25L754.00 435.25L755.00 435.25L756.00 435.26L757.00 435.27L758.00 435.27L759.00 435.28L760.00 435.29L761.00 435.30L762.00 435.32L763.00 435.33L764.00 435.34L765.00 435.36L766.00 435.37L767.00 435.38L768.00 435.40L769.00 435.41L770.00 435.42L771.00 435.43L772.00 435.44L773.00 435.45L774.00 435.46L775.00 435.47L776.00 435.47L777.00 435.48L778.00 435.48L779.00 435.48L780.00 435.48L781.00 435.48L782.00 435.47L783.00 435.47L784.00 435.47L785.00 435.46L786.00 435.45L787.00 435.45L788.00 435.44L789.00 435.43L790.00 435.43L791.00 435.42L792.00 435.41L793.00 435.41L794.00 435.40L795.00 435.40L796.00 435.39L797.00 435.39L798.00 435.39L799.00 435.39L800.00 435.39L801.00 435.39L802.00 435.39L803.00 435.39L804.00 435.39L805.00 435.40L806.00 435.40L807.00 435.40L808.00 435.40L809.00 435.41L810.00 435.41L811.00 435.41L812.00 435.41L813.00 435.41L814.00 435.41L815.00 435.40L816.00 435.40L817.00 435.39L818.00 435.39L819.00 435.38L820.00 435.37L821.00 435.36L822.00 435.35L823.00 435.34L824.00 435.33L825.00 435.32L826.00 435.31L827.00 435.30L828.00 435.29L829.00 435.28L830.00 435.27L831.00 435.26L832.00 435.25L833.00 435.25L834.00 435.24L835.00 435.24L836.00 435.24L837.00 435.23L838.00 435.23L839.00 435.24L840.00 435.24L841.00 435.25L842.00 435.25L843.00 435.26L844.00 435.27L845.00 435.28L846.00 435.29L847.00 435.30L848.00 435.31L849.00 435.33L850.00 435.34L851.00 435.35L852.00 435.36L853.00 435.37L854.00 435.38L855.00 435.39L856.00 435.40L857.00 435.41L858.00 435.42L859.00 435.43L860.00 435.43L861.00 435.44L862.00 435.44L863.00 435.44L864.00 435.44L865.00 435.45L866.00 435.45L867.00 435.45L868.00 435.45L869.00 435.45L870.00 435.45L871.00 435.45L872.00 435.45L873.00 435.45L874.00 435.45L875.00 435.45L876.00 435.46L877.00 435.46L878.00 435.46L879.00 435.47L880.00 435.48L881.00 435.48L882.00 435.49L883.00 435.50L884.00 435.51L885.00 435.51L886.00 435.52L887.00 435.53L888.00 435.54L889.00 435.55L890.00 435.55L891.00 435.56L892.00 435.57L893.00 435.57L894.00 435.57L895.00 435.58L896.00 435.58L897.00 435.58L898.00 435.58L899.00 435.57L900.00 435.57L901.00 435.56L902.00 435.55L903.00 435.54L904.00 435.53L905.00 435.52L906.00 435.51L907.00 435.49L908.00 435.48L909.00 435.46L910.00 435.45L911.00 435.43L912.00 435.42L913.00 435.41L914.00 435.39L915.00 435.38L916.00 435.37L917.00 435.35L918.00 435.34L919.00 435.33L920.00 435.33L921.00 435.32L922.00 435.31L923.00 435.31L924.00 435.30L925.00 435.30L926.00 435.30L927.00 435.29L928.00 435.29L929.00 435.29L930.00 435.29L931.00 435.29L932.00 435.29L933.00 435.29L934.00 435.29L935.00 435.29L936.00 435.28L937.00 435.28L938.00 435.28L939.00 435.28L940.00 435.27L941.00 435.27L942.00 435.26L943.00 435.25L944.00 435.25L945.00 435.24L946.00 435.23L947.00 435.23L948.00 435.22L949.00 435.21L950.00 435.20L951.00 435.20L952.00 435.19L953.00 435.18L954.00 435.18L955.00 435.18L956.00 435.17L957.00 435.17L958.00 435.17L959.00 435.17L960.00 435.18L961.00 435.18L962.00 435.19L963.00 435.19L964.00 435.20L965.00 435.21L966.00 435.22L967.00 435.23L968.00 435.24L969.00 435.26L970.00 435.27L971.00 435.28L972.00 435.30L973.00 435.31L974.00 435.32L975.00 435.33L976.00 435.34L977.00 435.35L978.00 435.36L979.00 435.37L980.00 435.38L981.00 435.39L982.00 435.39L983.00 435.40L984.00 435.40L985.00 435.40L986.00 435.40L987.00 435.40L988.00 435.40L989.00 435.40L990.00 435.40L991.00 435.40L992.00 435.40L993.00 435.40L994.00 435.40L995.00 435.40L996.00 435.40L997.00 435.40L998.00 435.40L999.00 435.40L1000.00 435.40L1001.00 435.40L1002.00 435.41L1003.00 435.41L1004.00 435.42L1004.90 435.43" stroke="#0000ff" stroke-width="0.90"/>
<path d="M101.80 435.21L102.80 435.20L103.80 435.20L104.80 435.19L105.80 435.19L106.80 435.18L107.80 435.19L108.80 435.19L109.80 435.19L110.80 435.20L111.80 435.21L112.80 435.22L113.80 435.24L114.80 435.25L115.80 435.27L116.80 435.29L117.80 435.31L118.80 435.32L119.80 435.34L120.80 435.36L121.80 435.38L122.80 435.39L123.80 435.40L124.80 435.42L125.80 435.42L126.80 435.43L127.80 435.44L128.80 435.44L129.80 435.44L130.80 435.44L131.80 435.43L132.80 435.43L133.80 435.42L134.80 435.41L135.80 435.40L136.80 435.38L137.80 435.37L138.80 435.36L139.80 435.35L140.80 435.33L141.80 435.32L142.80 435.31L143.80 435.30L144.80 435.30L145.80 435.29L146.80 435.29L147.80 435.29L148.80 435.29L149.80 435.29L150.80 435.30L151.80 435.31L152.80 435.32L153.80 435.33L154.80 435.34L155.80 435.35L156.80 435.36L157.80 435.37L158.80 435.39L159.80 435.40L160.80 435.41L161.80 435.42L162.80 435.42L163.80 435.43L164.80 435.43L165.80 435.43L166.80 435.43L167.80 435.43L168.80 435.43L169.80 435.42L170.80 435.41L171.80 435.40L172.80 435.39L173.80 435.38L174.80 435.37L175.80 435.36L176.80 435.34L177.80 435.33L178.80 435.32L179.80 435.31L180.80 435.30L181.80 435.29L182.80 435.29L183.80 435.28L184.80 435.28L185.80 435.28L186.80 435.29L187.80 435.29L188.80 435.30L189.80 435.31L190.80 435.32L191.80 435.33L192.80 435.34L193.80 435.36L194.80 435.37L195.80 435.38L196.80 435.40L197.80 435.41L198.80 435.42L199.80 435.44L200.80 435.45L201.80 435.45L202.80 435.46L203.80 435.46L204.80 435.47L205.80 435.47L206.80 435.47L207.80 435.46L208.80 435.46L209.80 435.45L210.80 435.45L211.80 435.44L212.80 435.43L213.80 435.42L214.80 435.41L215.80 435.40L216.80 435.40L217.80 435.39L218.80 435.38L219.80 435.38L220.80 435.38L221.80 435.38L222.80 435.38L223.80 435.38L224.80 435.39L225.80 435.40L226.80 435.41L227.80 435.42L228.80 435.43L229.80 435.44L230.80 435.46L231.80 435.47L232.80 435.49L233.80 435.50L234.80 435.52L235.80 435.53L236.80 435.54L237.80 435.55L238.80 435.56L239.80 435.56L240.80 435.57L241.80 435.57L242.80 435.56L243.80 435.56L244.80 435.55L245.80 435.54L246.80 435.53L247.80 435.51L248.80 435.50L249.80 435.48L250.80 435.46L251.80 435.44L252.80 435.42L253.80 435.40L254.80 435.38L255.80 435.36L256.80 435.35L257.80 435.33L258.80 435.32L259.80 435.30L260.80 435.29L261.80 435.28L262.80 435.28L263.80 435.27L264.80 435.27L265.80 435.27L266.80 435.27L267.80 435.28L268.80 435.28L269.80 435.29L270.80 435.29L271.80 435.30L272.80 435.31L273.80 435.31L274.80 435.32L275.80 435.33L276.80 435.33L277.80 435.34L278.80 435.34L279.80 435.34L280.80 435.34L281.80 435.34L282.80 435.33L283.80 435.33L284.80 435.32L285.80 435.32L286.80 435.31L287.80 435.30L288.80 435.29L289.80 435.28L290.80 435.28L291.80 435.27L292.80 435.26L293.80 435.26L294.80 435.25L295.80 435.25L296.80 435.25L297.80 435.26L298.80 435.26L299.80 435.27L300.80 435.28L301.80 435.29L302.80 435.30L303.80 435.32L304.80 435.33L305.80 435.35L306.80 435.37L307.80 435.39L308.80 435.40L309.80 435.42L310.80 435.44L311.80 435.46L312.80 435.47L313.80 435.48L314.80 435.50L315.80 435.50L316.80 435.51L317.80 435.51L318.80 435.51L319.80 435.51L320.80 435.51L321.80 435.50L322.80 435.49L323.80 435.48L324.80 435.47L325.80 435.45L326.80 435.43L327.80 435.42L328.80 435.40L329.80 435.38L330.80 435.36L331.80 435.35L332.80 435.33L333.80 435.32L334.80 435.31L335.80 435.30L336.80 435.29L337.80 435.28L338.80 435.28L339.80 435.27L340.80 435.28L341.80 435.28L342.80 435.28L343.80 435.29L344.80 435.30L345.80 435.31L346.80 435.32L347.80 435.33L348.80 435.34L349.80 435.35L350.80 435.36L351.80 435.37L352.80 435.38L353.80 435.39L354.80 435.40L355.80 435.40L356.80 435.41L357.80 435.41L358.80 435.41L359.80 435.41L360.80 435.41L361.80 435.41L362.80 435.41L363.80 435.40L364.80 435.40L365.80 435.39L366.80 435.39L367.80 435.38L368.80 435.38L369.80 435.38L370.80 435.38L371.80 435.38L372.80 435.38L373.80 435.38L374.80 435.39L375.80 435.40L376.80 435.41L377.80 435.42L378.80 435.43L379.80 435.44L380.80 435.46L381.80 435.47L382.80 435.49L383.80 435.50L384.80 435.52L385.00 435.52L385.10 435.54L385.20 435.57L385.30 435.44L385.40 435.46L385.50 435.48L385.60 435.50L385.70 435.51L385.80 435.52L385.90 435.53L386.00 435.53L386.10 435.53L386.20 435.53L386.30 435.52L386.40 435.50L386.50 435.48L386.60 435.46L386.70 435.59L386.80 435.56L386.90 435.52L387.00 435.32L387.10 435.27L387.20 435.22L387.30 435.17L387.40 435.11L387.50 435.06L387.60 435.00L387.70 434.94L387.80 434.88L387.90 434.83L388.00 434.78L388.10 434.73L388.20 434.68L388.30 434.64L388.40 434.61L388.50 434.58L388.60 434.56L388.70 434.55L388.80 434.55L388.90 434.56L389.00 434.58L389.10 434.61L389.20 434.66L389.30 434.71L389.40 434.78L389.50 434.86L389.60 434.95L389.70 435.05L389.80 435.15L389.90 435.27L390.00 435.59L390.10 435.52L390.20 435.66L390.30 435.79L390.40 435.93L390.50 436.06L390.60 436.19L390.70 436.31L390.80 436.43L390.90 436.54L391.00 436.63L391.10 436.72L391.20 436.79L391.30 436.84L391.40 436.88L391.50 436.90L391.60 436.90L391.70 436.88L391.80 436.84L391.90 436.79L392.00 436.71L392.10 436.60L392.20 436.48L392.30 436.34L392.40 436.18L392.50 436.01L392.60 435.82L392.70 435.61L392.80 435.59L392.90 435.17L393.00 434.94L393.10 434.70L393.20 434.47L393.30 434.24L393.40 434.02L393.50 433.81L393.60 433.61L393.70 433.43L393.80 433.27L393.90 433.13L394.00 433.02L394.10 432.93L394.20 432.88L394.30 432.86L394.40 432.87L394.50 432.91L394.60 432.99L394.70 433.10L394.80 433.24L394.90 433.42L395.00 433.62L395.10 433.85L395.20 434.10L395.30 434.38L395.40 434.67L395.50 434.99L395.60 435.31L395.70 435.65L395.80 435.99L395.90 436.33L396.00 436.68L396.10 437.02L396.20 437.34L396.30 437.66L396.40 437.95L396.50 438.22L396.60 438.47L396.70 438.68L396.80 438.86L396.90 438.99L397.00 439.08L397.10 439.13L397.20 439.13L397.30 439.08L397.40 438.97L397.50 438.80L397.60 438.57L397.70 438.26L397.80 437.88L397.90 437.43L398.00 436.91L398.10 436.32L398.20 435.68L398.30 435.00L398.40 434.27L398.50 433.53L398.60 432.79L398.70 432.05L398.80 431.34L398.90 430.68L399.00 430.08L399.10 429.55L399.20 429.11L399.30 428.76L399.40 428.52L399.50 428.38L399.60 428.35L399.70 428.42L399.80 428.58L399.90 428.84L400.00 429.18L400.10 429.61L400.20 430.12L400.30 430.70L400.40 431.33L400.50 432.02L400.60 432.76L400.70 433.53L400.80 434.33L400.90 435.15L401.00 435.97L401.10 436.80L401.20 437.63L401.30 438.43L401.40 439.22L401.50 439.97L401.60 440.68L401.70 441.35L401.80 441.96L401.90 442.51L402.00 442.99L402.10 443.39L402.20 443.71L402.30 443.94L402.40 444.08L402.50 444.12L402.60 444.06L402.70 443.90L402.80 443.63L402.90 443.26L403.00 442.77L403.10 442.17L403.20 441.46L403.30 440.66L403.40 439.75L403.50 438.75L403.60 437.67L403.70 436.52L403.80 435.31L403.90 434.06L404.00 432.78L404.10 431.49L404.20 430.21L404.30 428.95L404.40 427.74L404.50 426.59L404.60 425.52L404.70 424.56L404.80 423.70L404.90 422.97L405.00 422.39L405.10 421.95L405.20 421.68L405.30 421.57L405.40 421.62L405.50 421.84L405.60 422.22L405.70 422.76L405.80 423.47L405.90 424.33L406.00 425.34L406.10 426.48L406.20 427.76L406.30 429.15L406.40 430.65L406.50 432.23L406.60 433.89L406.70 435.61L406.80 437.36L406.90 439.14L407.00 440.92L407.10 442.68L407.20 444.40L407.30 446.06L407.40 447.65L407.50 449.14L407.60 450.51L407.70 451.75L407.80 452.84L407.90 453.76L408.00 454.50L408.10 455.05L408.20 455.38L408.30 455.50L408.40 455.39L408.50 455.05L408.60 454.48L408.70 453.69L408.80 452.67L408.90 451.44L409.00 449.99L409.10 448.36L409.20 446.54L409.30 444.55L409.40 442.42L409.50 440.17L409.60 437.81L409.70 435.25L409.80 432.90L409.90 430.39L410.00 427.89L410.10 425.41L410.20 423.00L410.30 420.68L410.40 418.48L410.50 416.41L410.60 414.52L410.70 412.82L410.80 411.34L410.90 410.10L411.00 409.12L411.10 408.40L411.20 407.98L411.30 407.85L411.40 408.03L411.50 408.51L411.60 409.30L411.70 410.39L411.80 411.79L411.90 413.49L412.00 415.46L412.10 417.70L412.20 420.18L412.30 422.88L412.40 425.79L412.50 428.86L412.60 432.07L412.70 435.20L412.80 438.76L412.90 442.17L413.00 445.58L413.10 448.94L413.20 452.21L413.30 455.36L413.40 458.35L413.50 461.13L413.60 463.68L413.70 465.96L413.80 467.93L413.90 469.57L414.00 470.86L414.10 471.77L414.20 472.28L414.30 472.39L414.40 472.09L414.50 471.37L414.60 470.26L414.70 468.74L414.80 466.84L414.90 464.58L415.00 461.96L415.10 459.02L415.20 455.78L415.30 452.28L415.40 448.53L415.50 444.59L415.60 440.48L415.70 436.25L415.80 431.94L415.90 427.60L416.00 423.27L416.10 419.00L416.20 414.83L416.30 410.82L416.40 407.01L416.50 403.45L416.60 400.19L416.70 397.28L416.80 394.75L416.90 392.65L417.00 391.01L417.10 389.88L417.20 389.28L417.30 389.24L417.40 389.78L417.50 390.92L417.60 392.69L417.70 395.08L417.80 398.09L417.90 401.68L418.00 405.84L418.10 410.50L418.20 415.62L418.30 421.12L418.40 426.92L418.50 432.94L418.60 439.08L418.70 445.24L418.80 451.33L418.90 457.26L419.00 462.92L419.10 468.23L419.20 473.11L419.30 477.49L419.40 481.31L419.50 484.52L419.60 487.08L419.70 488.98L419.80 490.22L419.90 490.78L420.00 490.70L420.10 490.01L420.20 488.73L420.30 486.89L420.40 484.53L420.50 481.68L420.60 478.37L420.70 474.64L420.80 470.54L420.90 466.11L421.00 461.39L421.10 456.42L421.20 451.25L421.30 445.91L421.40 440.46L421.50 434.94L421.60 429.39L421.70 423.86L421.80 418.40L421.90 413.05L422.00 407.85L422.10 402.86L422.20 398.12L422.30 393.67L422.40 389.57L422.50 385.86L422.60 382.58L422.70 379.79L422.80 377.52L422.90 375.82L423.00 374.73L423.10 374.28L423.20 374.50L423.30 375.42L423.40 377.06L423.50 379.42L423.60 382.50L423.70 386.29L423.80 390.74L423.90 395.81L424.00 401.45L424.10 407.59L424.20 414.14L424.30 421.02L424.40 428.14L424.50 435.20L424.60 442.65L424.70 449.83L424.80 456.83L424.90 463.54L425.00 469.87L425.10 475.73L425.20 481.04L425.30 485.74L425.40 489.77L425.50 493.09L425.60 495.68L425.70 497.53L425.80 498.62L425.90 498.98L426.00 498.63L426.10 497.59L426.20 495.90L426.30 493.59L426.40 490.70L426.50 487.27L426.60 483.36L426.70 479.00L426.80 474.24L426.90 469.15L427.00 463.78L427.10 458.17L427.20 452.38L427.30 446.48L427.40 440.50L427.50 434.50L427.60 428.55L427.70 422.68L427.80 416.96L427.90 411.42L428.00 406.12L428.10 401.10L428.20 396.41L428.30 392.09L428.40 388.18L428.50 384.72L428.60 381.74L428.70 379.28L428.80 377.36L428.90 376.00L429.00 375.24L429.10 375.08L429.20 375.55L429.30 376.65L429.40 378.39L429.50 380.74L429.60 383.69L429.70 387.21L429.80 391.26L429.90 395.78L430.00 400.74L430.10 406.06L430.20 411.67L430.30 417.52L430.40 423.53L430.50 429.62L430.60 435.71L430.70 441.74L430.80 447.63L430.90 453.31L431.00 458.72L431.10 463.79L431.20 468.47L431.30 472.71L431.40 476.48L431.50 479.74L431.60 482.46L431.70 484.64L431.80 486.25L431.90 487.31L432.00 487.81L432.10 487.78L432.20 487.22L432.30 486.16L432.40 484.63L432.50 482.65L432.60 480.25L432.70 477.48L432.80 474.38L432.90 470.97L433.00 467.29L433.10 463.40L433.20 459.32L433.30 455.10L433.40 450.78L433.50 446.39L433.60 441.97L433.70 437.57L433.80 433.21L433.90 428.94L434.00 424.78L434.10 420.78L434.20 416.96L434.30 413.35L434.40 409.98L434.50 406.88L434.60 404.06L434.70 401.57L434.80 399.40L434.90 397.59L435.00 396.15L435.10 395.09L435.20 394.42L435.30 394.15L435.40 394.28L435.50 394.82L435.60 395.77L435.70 397.12L435.80 398.86L435.90 400.96L436.00 403.42L436.10 406.19L436.20 409.24L436.30 412.55L436.40 416.06L436.50 419.73L436.60 423.53L436.70 427.40L436.80 431.29L436.90 435.17L437.00 438.97L437.10 442.67L437.20 446.21L437.30 449.56L437.40 452.67L437.50 455.53L437.60 458.10L437.70 460.36L437.80 462.28L437.90 463.87L438.00 465.11L438.10 465.99L438.20 466.53L438.30 466.72L438.40 466.58L438.50 466.12L438.60 465.36L438.70 464.31L438.80 462.98L438.90 461.41L439.00 459.62L439.10 457.63L439.20 455.46L439.30 453.14L439.40 450.71L439.50 448.17L439.60 445.58L439.70 442.94L439.80 440.28L439.90 437.64L440.00 435.04L440.10 432.50L440.20 430.04L440.30 427.68L440.40 425.45L440.50 423.36L440.60 421.42L440.70 419.66L440.80 418.08L440.90 416.70L441.00 415.52L441.10 414.55L441.20 413.80L441.30 413.27L441.40 412.95L441.50 412.86L441.60 412.98L441.70 413.31L441.80 413.85L441.90 414.58L442.00 415.49L442.10 416.57L442.20 417.81L442.30 419.19L442.40 420.69L442.50 422.30L442.60 424.00L442.70 425.78L442.80 427.61L442.90 429.48L443.00 431.37L443.10 433.26L443.20 435.14L443.30 436.98L443.40 438.77L443.50 440.50L443.60 442.15L443.70 443.71L443.80 445.15L443.90 446.48L444.00 447.67L444.10 448.72L444.20 449.62L444.30 450.36L444.40 450.94L444.50 451.36L444.60 451.60L444.70 451.68L444.80 451.58L444.90 451.32L445.00 450.89L445.10 450.30L445.20 449.55L445.30 448.65L445.40 447.62L445.50 446.46L445.60 445.20L445.70 443.85L445.80 442.43L445.90 440.95L446.00 439.45L446.10 437.93L446.20 436.43L446.30 434.95L446.40 433.52L446.50 432.15L446.60 430.86L446.70 429.66L446.80 428.56L446.90 427.58L447.00 426.72L447.10 425.98L447.20 425.36L447.30 424.87L447.40 424.50L447.50 424.26L447.60 424.13L447.70 424.10L447.80 424.18L447.90 424.35L448.00 424.61L448.10 424.94L448.20 425.35L448.30 425.82L448.40 426.34L448.50 426.92L448.60 427.54L448.70 428.19L448.80 428.88L448.90 429.58L449.00 430.31L449.10 431.05L449.20 431.80L449.30 432.55L449.40 433.30L449.50 434.04L449.60 434.78L449.70 435.50L449.80 436.21L449.90 436.90L450.00 437.57L450.10 438.21L450.20 438.82L450.30 439.40L450.40 439.94L450.50 440.45L450.60 440.92L450.70 441.34L450.80 441.73L450.90 442.06L451.00 442.34L451.10 442.57L451.20 442.75L451.30 442.87L451.40 442.93L451.50 442.94L451.60 442.88L451.70 442.76L451.80 442.59L451.90 442.35L452.00 442.05L452.10 441.69L452.20 441.28L452.30 440.82L452.40 440.32L452.50 439.77L452.60 439.19L452.70 438.58L452.80 437.95L452.90 437.31L453.00 436.66L453.10 436.02L453.20 435.40L453.30 434.76L453.40 434.16L453.50 433.59L453.60 433.06L453.70 432.57L453.80 432.12L453.90 431.72L454.00 431.36L454.10 431.06L454.20 430.81L454.30 430.62L454.40 430.48L454.50 430.38L454.60 430.34L454.70 430.34L454.80 430.38L454.90 430.46L455.00 430.58L455.10 430.74L455.20 430.93L455.30 431.15L455.40 431.39L455.50 431.66L455.60 431.94L455.70 432.24L455.80 432.55L455.90 432.87L456.00 433.20L456.10 433.54L456.20 433.87L456.30 434.21L456.40 434.54L456.50 434.86L456.60 435.18L456.70 435.49L456.80 435.79L456.90 436.08L457.00 436.35L457.10 436.61L457.20 436.85L457.30 437.08L457.40 437.29L457.50 437.48L457.60 437.66L457.70 437.82L457.80 437.95L457.90 438.07L458.00 438.17L458.10 438.26L458.20 438.32L458.30 438.36L458.40 438.39L458.50 438.39L458.60 438.38L458.70 438.35L458.80 438.30L458.90 438.23L459.00 438.14L459.10 438.03L459.20 437.91L459.30 437.77L459.40 437.62L459.50 437.45L459.60 437.27L459.70 437.07L459.80 436.87L459.90 436.66L460.00 436.44L460.10 436.21L460.20 435.98L460.30 435.75L460.40 435.51L460.50 435.28L460.60 435.05L460.70 434.82L460.80 434.60L460.90 434.38L461.00 434.18L461.10 433.98L461.20 433.80L461.30 433.63L461.40 433.48L461.50 433.34L461.60 433.22L461.70 433.11L461.80 433.02L461.90 432.96L462.00 432.91L462.10 432.88L462.20 432.87L462.30 432.88L462.40 432.91L462.50 432.96L462.60 433.03L462.70 433.13L462.80 433.23L462.90 433.36L463.00 433.50L463.10 433.65L463.20 433.82L463.30 433.99L463.40 434.17L463.50 434.35L463.60 434.53L463.70 434.72L463.80 434.90L463.90 435.07L464.00 435.24L464.10 435.63L464.20 435.55L464.30 435.70L464.40 435.83L464.50 435.95L464.60 436.05L464.70 436.15L464.80 436.23L464.90 436.31L465.00 436.37L465.10 436.42L465.20 436.46L465.30 436.50L465.40 436.52L465.50 436.54L465.60 436.56L465.70 436.57L465.80 436.58L465.90 436.58L466.00 436.58L466.10 436.58L466.20 436.57L466.30 436.55L466.40 436.53L466.50 436.51L466.60 436.48L466.70 436.44L466.80 436.40L466.90 436.36L467.00 436.31L467.10 436.26L467.20 436.20L467.30 436.15L467.40 436.09L467.50 436.02L467.60 435.96L467.70 435.89L467.80 435.83L467.90 435.76L468.00 435.69L468.10 435.62L468.20 435.55L468.30 435.47L468.40 435.67L468.50 435.60L468.60 435.26L468.70 435.19L468.80 435.12L468.90 435.05L469.00 434.98L469.10 434.92L469.20 434.85L469.30 434.79L469.40 434.73L469.50 434.67L469.60 434.61L469.70 434.56L469.80 434.51L469.90 434.46L470.00 434.41L470.10 434.37L470.20 434.33L470.30 434.30L470.40 434.27L470.50 434.24L470.60 434.22L470.70 434.20L470.80 434.19L470.90 434.18L471.00 434.18L471.10 434.18L471.20 434.19L471.30 434.21L471.40 434.23L471.50 434.26L471.60 434.29L471.70 434.33L471.80 434.37L471.90 434.42L472.00 434.47L472.10 434.53L472.20 434.59L472.30 434.66L472.40 434.73L472.50 434.80L472.60 434.87L472.70 434.94L472.80 435.02L472.90 435.09L473.00 435.17L473.10 435.25L473.20 435.32L473.30 435.64L473.40 435.47L473.50 435.54L473.60 435.61L473.70 435.67L473.80 435.73L473.90 435.79L474.00 435.85L474.10 435.90L474.20 435.95L474.30 435.99L474.40 436.03L474.50 436.06L474.60 436.09L474.70 436.12L474.80 436.14L474.90 436.16L475.00 436.17L475.10 436.18L475.20 436.19L475.30 436.19L475.40 436.19L475.50 436.18L475.60 436.17L475.70 436.16L475.80 436.14L475.90 436.12L476.00 436.10L476.10 436.07L476.20 436.04L476.30 436.01L476.40 435.97L476.50 435.94L476.60 435.90L476.70 435.86L476.80 435.81L476.90 435.77L477.00 435.72L477.10 435.67L477.20 435.63L477.30 435.58L477.40 435.53L477.50 435.48L477.60 435.44L477.70 435.55L477.80 435.50L477.90 435.30L478.00 435.26L478.10 435.21L478.20 435.17L478.30 435.13L478.40 435.10L478.50 435.06L478.60 435.03L478.70 435.00L478.80 434.98L478.90 434.95L479.00 434.93L479.10 434.92L479.20 434.90L479.30 434.89L479.40 434.88L479.50 434.87L479.60 434.87L479.70 434.87L479.80 434.87L479.90 434.87L480.00 434.88L480.10 434.89L480.20 434.90L480.30 434.91L480.40 434.93L480.50 434.95L480.60 434.96L480.70 434.98L480.80 435.01L480.90 435.03L481.00 435.05L481.10 435.07L481.20 435.10L481.30 435.12L481.40 435.15L481.50 435.17L481.60 435.20L481.70 435.22L481.80 435.25L481.90 435.27L482.00 435.29L482.10 435.32L482.20 435.38L482.30 435.39L482.40 435.41L482.50 435.43L482.60 435.44L482.70 435.45L482.80 435.44L482.90 435.45L483.00 435.46L483.10 435.47L483.20 435.47L483.30 435.48L483.40 435.48L483.50 435.48L483.60 435.49L483.70 435.48L483.80 435.48L483.90 435.48L484.00 435.47L484.10 435.47L484.20 435.46L484.30 435.45L484.40 435.45L484.50 435.44L484.60 435.40L484.70 435.39L484.80 435.38L484.90 435.36L485.00 435.35L486.00 435.32L487.00 435.30L488.00 435.28L489.00 435.27L490.00 435.25L491.00 435.24L492.00 435.23L493.00 435.22L494.00 435.22L495.00 435.21L496.00 435.21L497.00 435.22L498.00 435.22L499.00 435.23L500.00 435.23L501.00 435.24L502.00 435.25L503.00 435.26L504.00 435.26L505.00 435.27L506.00 435.28L507.00 435.29L508.00 435.29L509.00 435.30L510.00 435.30L511.00 435.31L512.00 435.31L513.00 435.31L514.00 435.31L515.00 435.31L516.00 435.31L517.00 435.31L518.00 435.31L519.00 435.31L520.00 435.31L521.00 435.32L522.00 435.32L523.00 435.33L524.00 435.33L525.00 435.34L526.00 435.35L527.00 435.36L528.00 435.38L529.00 435.39L530.00 435.41L531.00 435.43L532.00 435.45L533.00 435.47L534.00 435.49L535.00 435.52L536.00 435.54L537.00 435.56L538.00 435.58L539.00 435.60L540.00 435.62L541.00 435.63L542.00 435.65L543.00 435.66L544.00 435.66L545.00 435.67L546.00 435.67L547.00 435.67L548.00 435.66L549.00 435.65L550.00 435.64L551.00 435.63L552.00 435.61L553.00 435.59L554.00 435.56L555.00 435.54L556.00 435.52L557.00 435.49L558.00 435.46L559.00 435.43L560.00 435.41L561.00 435.38L562.00 435.36L563.00 435.33L564.00 435.31L565.00 435.29L566.00 435.28L567.00 435.26L568.00 435.25L569.00 435.24L570.00 435.23L571.00 435.22L572.00 435.22L573.00 435.21L574.00 435.21L575.00 435.21L576.00 435.21L577.00 435.21L578.00 435.22L579.00 435.22L580.00 435.22L581.00 435.22L582.00 435.22L583.00 435.22L584.00 435.22L585.00 435.22L586.00 435.22L587.00 435.21L588.00 435.21L589.00 435.20L590.00 435.19L591.00 435.19L592.00 435.18L593.00 435.17L594.00 435.16L595.00 435.16L596.00 435.15L597.00 435.15L598.00 435.14L599.00 435.14L600.00 435.14L601.00 435.15L602.00 435.15L603.00 435.16L604.00 435.17L605.00 435.18L606.00 435.20L607.00 435.22L608.00 435.24L609.00 435.26L610.00 435.28L611.00 435.31L612.00 435.33L613.00 435.35L614.00 435.38L615.00 435.40L616.00 435.43L617.00 435.45L618.00 435.47L619.00 435.49L620.00 435.51L621.00 435.52L622.00 435.53L623.00 435.54L624.00 435.55L625.00 435.55L626.00 435.55L627.00 435.55L628.00 435.55L629.00 435.54L630.00 435.54L631.00 435.53L632.00 435.52L633.00 435.51L634.00 435.50L635.00 435.49L636.00 435.48L637.00 435.47L638.00 435.46L639.00 435.45L640.00 435.44L641.00 435.44L642.00 435.44L643.00 435.44L644.00 435.44L645.00 435.44L646.00 435.44L647.00 435.45L648.00 435.46L649.00 435.46L650.00 435.47L651.00 435.48L652.00 435.49L653.00 435.50L654.00 435.51L655.00 435.52L656.00 435.52L657.00 435.53L658.00 435.53L659.00 435.53L660.00 435.53L661.00 435.53L662.00 435.52L663.00 435.52L664.00 435.51L665.00 435.50L666.00 435.48L667.00 435.47L668.00 435.45L669.00 435.44L670.00 435.42L671.00 435.41L672.00 435.39L673.00 435.37L674.00 435.36L675.00 435.35L676.00 435.33L677.00 435.32L678.00 435.32L679.00 435.31L680.00 435.31L681.00 435.30L682.00 435.30L683.00 435.31L684.00 435.31L685.00 435.32L686.00 435.33L687.00 435.34L688.00 435.35L689.00 435.36L690.00 435.37L691.00 435.38L692.00 435.40L693.00 435.41L694.00 435.42L695.00 435.43L696.00 435.44L697.00 435.44L698.00 435.45L699.00 435.45L700.00 435.45L701.00 435.45L702.00 435.44L703.00 435.44L704.00 435.43L705.00 435.43L706.00 435.42L707.00 435.41L708.00 435.40L709.00 435.39L710.00 435.38L711.00 435.37L712.00 435.36L713.00 435.35L714.00 435.34L715.00 435.34L716.00 435.33L717.00 435.33L718.00 435.33L719.00 435.34L720.00 435.34L721.00 435.35L722.00 435.35L723.00 435.36L724.00 435.37L725.00 435.39L726.00 435.40L727.00 435.41L728.00 435.42L729.00 435.44L730.00 435.45L731.00 435.46L732.00 435.47L733.00 435.47L734.00 435.48L735.00 435.48L736.00 435.48L737.00 435.48L738.00 435.47L739.00 435.46L740.00 435.45L741.00 435.44L742.00 435.43L743.00 435.41L744.00 435.39L745.00 435.37L746.00 435.35L747.00 435.33L748.00 435.31L749.00 435.28L750.00 435.26L751.00 435.24L752.00 435.22L753.00 435.21L754.00 435.19L755.00 435.18L756.00 435.17L757.00 435.16L758.00 435.15L759.00 435.15L760.00 435.15L761.00 435.15L762.00 435.15L763.00 435.15L764.00 435.16L765.00 435.17L766.00 435.18L767.00 435.18L768.00 435.19L769.00 435.20L770.00 435.21L771.00 435.22L772.00 435.22L773.00 435.23L774.00 435.24L775.00 435.24L776.00 435.24L777.00 435.24L778.00 435.25L779.00 435.24L780.00 435.24L781.00 435.24L782.00 435.24L783.00 435.24L784.00 435.23L785.00 435.23L786.00 435.23L787.00 435.23L788.00 435.23L789.00 435.23L790.00 435.24L791.00 435.24L792.00 435.25L793.00 435.26L794.00 435.27L795.00 435.29L796.00 435.31L797.00 435.33L798.00 435.35L799.00 435.37L800.00 435.40L801.00 435.42L802.00 435.45L803.00 435.47L804.00 435.50L805.00 435.53L806.00 435.55L807.00 435.57L808.00 435.59L809.00 435.61L810.00 435.63L811.00 435.64L812.00 435.66L813.00 435.66L814.00 435.67L815.00 435.67L816.00 435.67L817.00 435.67L818.00 435.66L819.00 435.65L820.00 435.64L821.00 435.63L822.00 435.61L823.00 435.60L824.00 435.58L825.00 435.56L826.00 435.55L827.00 435.53L828.00 435.51L829.00 435.50L830.00 435.48L831.00 435.47L832.00 435.46L833.00 435.45L834.00 435.45L835.00 435.44L836.00 435.44L837.00 435.44L838.00 435.44L839.00 435.44L840.00 435.44L841.00 435.44L842.00 435.45L843.00 435.45L844.00 435.46L845.00 435.46L846.00 435.46L847.00 435.47L848.00 435.47L849.00 435.47L850.00 435.47L851.00 435.47L852.00 435.46L853.00 435.46L854.00 435.45L855.00 435.45L856.00 435.44L857.00 435.43L858.00 435.42L859.00 435.41L860.00 435.40L861.00 435.38L862.00 435.37L863.00 435.37L864.00 435.36L865.00 435.35L866.00 435.35L867.00 435.34L868.00 435.34L869.00 435.34L870.00 435.34L871.00 435.35L872.00 435.36L873.00 435.37L874.00 435.38L875.00 435.39L876.00 435.40L877.00 435.42L878.00 435.43L879.00 435.45L880.00 435.46L881.00 435.48L882.00 435.49L883.00 435.50L884.00 435.51L885.00 435.52L886.00 435.53L887.00 435.53L888.00 435.53L889.00 435.53L890.00 435.52L891.00 435.52L892.00 435.50L893.00 435.49L894.00 435.47L895.00 435.46L896.00 435.43L897.00 435.41L898.00 435.39L899.00 435.36L900.00 435.34L901.00 435.31L902.00 435.29L903.00 435.26L904.00 435.24L905.00 435.22L906.00 435.20L907.00 435.18L908.00 435.16L909.00 435.15L910.00 435.14L911.00 435.13L912.00 435.12L913.00 435.12L914.00 435.12L915.00 435.12L916.00 435.12L917.00 435.12L918.00 435.13L919.00 435.13L920.00 435.14L921.00 435.14L922.00 435.15L923.00 435.16L924.00 435.16L925.00 435.17L926.00 435.17L927.00 435.18L928.00 435.18L929.00 435.18L930.00 435.18L931.00 435.18L932.00 435.18L933.00 435.18L934.00 435.18L935.00 435.18L936.00 435.18L937.00 435.17L938.00 435.17L939.00 435.17L940.00 435.18L941.00 435.18L942.00 435.18L943.00 435.19L944.00 435.20L945.00 435.21L946.00 435.22L947.00 435.24L948.00 435.26L949.00 435.28L950.00 435.30L951.00 435.32L952.00 435.35L953.00 435.37L954.00 435.40L955.00 435.42L956.00 435.45L957.00 435.47L958.00 435.49L959.00 435.52L960.00 435.54L961.00 435.55L962.00 435.57L963.00 435.58L964.00 435.59L965.00 435.60L966.00 435.60L967.00 435.60L968.00 435.60L969.00 435.59L970.00 435.59L971.00 435.57L972.00 435.56L973.00 435.55L974.00 435.53L975.00 435.51L976.00 435.49L977.00 435.47L978.00 435.45L979.00 435.44L980.00 435.42L981.00 435.40L982.00 435.39L983.00 435.37L984.00 435.36L985.00 435.36L986.00 435.35L987.00 435.34L988.00 435.34L989.00 435.34L990.00 435.35L991.00 435.35L992.00 435.36L993.00 435.36L994.00 435.37L995.00 435.38L996.00 435.39L997.00 435.40L998.00 435.41L999.00 435.42L1000.00 435.43L1001.00 435.44L1002.00 435.44L1003.00 435.45L1004.00 435.46L1004.90 435.46" stroke="#ff0000" stroke-width="0.90"/>
<path d="M101.8 435.38L666 435.38M815 435.38L1004.90 435.38" stroke="#222" stroke-opacity="0.9" stroke-width="1.0"/>
<path d="M666.00 435.38L666.10 435.37L666.20 435.36L666.30 435.35L666.40 435.34L666.50 435.33L666.60 435.33L666.70 435.33L666.80 435.34L666.90 435.34L667.00 435.36L667.10 435.37L667.20 435.39L667.30 435.41L667.40 435.43L667.50 435.45L667.60 435.47L667.70 435.49L667.80 435.51L667.90 435.53L668.00 435.55L668.10 435.56L668.20 435.57L668.30 435.58L668.40 435.58L668.50 435.58L668.60 435.57L668.70 435.56L668.80 435.54L668.90 435.52L669.00 435.50L669.10 435.47L669.20 435.45L669.30 435.41L669.40 435.38L669.50 435.35L669.60 435.32L669.70 435.28L669.80 435.25L669.90 435.22L670.00 435.20L670.10 435.18L670.20 435.16L670.30 435.14L670.40 435.13L670.50 435.13L670.60 435.13L670.70 435.14L670.80 435.15L670.90 435.16L671.00 435.18L671.10 435.21L671.20 435.24L671.30 435.27L671.40 435.31L671.50 435.34L671.60 435.38L671.70 435.42L671.80 435.46L671.90 435.50L672.00 435.54L672.10 435.57L672.20 435.60L672.30 435.63L672.40 435.65L672.50 435.66L672.60 435.67L672.70 435.68L672.80 435.68L672.90 435.67L673.00 435.66L673.10 435.64L673.20 435.62L673.30 435.59L673.40 435.56L673.50 435.52L673.60 435.49L673.70 435.44L673.80 435.40L673.90 435.36L674.00 435.31L674.10 435.27L674.20 435.23L674.30 435.19L674.40 435.15L674.50 435.12L674.60 435.09L674.70 435.07L674.80 435.05L674.90 435.04L675.00 435.03L675.10 435.03L675.20 435.04L675.30 435.05L675.40 435.08L675.50 435.10L675.60 435.14L675.70 435.18L675.80 435.22L675.90 435.27L676.00 435.32L676.10 435.38L676.20 435.43L676.30 435.48L676.40 435.54L676.50 435.59L676.60 435.63L676.70 435.67L676.80 435.71L676.90 435.74L677.00 435.76L677.10 435.77L677.20 435.78L677.30 435.78L677.40 435.77L677.50 435.75L677.60 435.72L677.70 435.69L677.80 435.65L677.90 435.61L678.00 435.56L678.10 435.50L678.20 435.44L678.30 435.38L678.40 435.32L678.50 435.26L678.60 435.20L678.70 435.15L678.80 435.10L678.90 435.05L679.00 435.01L679.10 434.98L679.20 434.95L679.30 434.94L679.40 434.93L679.50 434.93L679.60 434.94L679.70 434.97L679.80 435.00L679.90 435.04L680.00 435.09L680.10 435.14L680.20 435.20L680.30 435.27L680.40 435.34L680.50 435.41L680.60 435.48L680.70 435.55L680.80 435.62L680.90 435.68L681.00 435.74L681.10 435.78L681.20 435.82L681.30 435.85L681.40 435.87L681.50 435.88L681.60 435.88L681.70 435.86L681.80 435.84L681.90 435.80L682.00 435.75L682.10 435.70L682.20 435.64L682.30 435.57L682.40 435.49L682.50 435.41L682.60 435.34L682.70 435.26L682.80 435.18L682.90 435.11L683.00 435.04L683.10 434.98L683.20 434.93L683.30 434.89L683.40 434.86L683.50 434.84L683.60 434.83L683.70 434.83L683.80 434.85L683.90 434.87L684.00 434.91L684.10 434.95L684.20 435.01L684.30 435.07L684.40 435.14L684.50 435.22L684.60 435.30L684.70 435.39L684.80 435.47L684.90 435.56L685.00 435.65L685.10 435.73L685.20 435.81L685.30 435.88L685.40 435.94L685.50 436.00L685.60 436.04L685.70 436.07L685.80 436.08L685.90 436.08L686.00 436.07L686.10 436.04L686.20 436.00L686.30 435.94L686.40 435.87L686.50 435.79L686.60 435.70L686.70 435.60L686.80 435.49L686.90 435.38L687.00 435.26L687.10 435.15L687.20 435.03L687.30 434.92L687.40 434.82L687.50 434.73L687.60 434.65L687.70 434.58L687.80 434.53L687.90 434.50L688.00 434.48L688.10 434.48L688.20 434.51L688.30 434.55L688.40 434.61L688.50 434.68L688.60 434.77L688.70 434.88L688.80 434.99L688.90 435.12L689.00 435.25L689.10 435.38L689.20 435.52L689.30 435.65L689.40 435.78L689.50 435.90L689.60 436.01L689.70 436.11L689.80 436.20L689.90 436.27L690.00 436.33L690.10 436.36L690.20 436.38L690.30 436.38L690.40 436.36L690.50 436.33L690.60 436.27L690.70 436.20L690.80 436.11L690.90 436.00L691.00 435.87L691.10 435.72L691.20 435.56L691.30 435.38L691.40 435.19L691.50 435.00L691.60 434.81L691.70 434.63L691.80 434.45L691.90 434.29L692.00 434.15L692.10 434.04L692.20 433.95L692.30 433.90L692.40 433.88L692.50 433.90L692.60 433.94L692.70 434.02L692.80 434.12L692.90 434.25L693.00 434.41L693.10 434.58L693.20 434.77L693.30 434.98L693.40 435.19L693.50 435.41L693.60 435.62L693.70 435.83L693.80 436.03L693.90 436.22L694.00 436.38L694.10 436.53L694.20 436.66L694.30 436.75L694.40 436.82L694.50 436.87L694.60 436.88L694.70 436.87L694.80 436.84L694.90 436.79L695.00 436.73L695.10 436.63L695.20 436.52L695.30 436.38L695.40 436.21L695.50 436.02L695.60 435.81L695.70 435.57L695.80 435.31L695.90 435.04L696.00 434.76L696.10 434.47L696.20 434.19L696.30 433.91L696.40 433.64L696.50 433.39L696.60 433.17L696.70 432.99L696.80 432.84L696.90 432.74L697.00 432.68L697.10 432.67L697.20 432.71L697.30 432.79L697.40 432.91L697.50 433.07L697.60 433.27L697.70 433.50L697.80 433.76L697.90 434.05L698.00 434.36L698.10 434.69L698.20 435.03L698.30 435.38L698.40 435.74L698.50 436.09L698.60 436.44L698.70 436.78L698.80 437.10L698.90 437.41L699.00 437.69L699.10 437.95L699.20 438.18L699.30 438.36L699.40 438.51L699.50 438.62L699.60 438.68L699.70 438.69L699.80 438.66L699.90 438.57L700.00 438.44L700.10 438.24L700.20 437.99L700.30 437.67L700.40 437.30L700.50 436.88L700.60 436.41L700.70 435.90L700.80 435.35L700.90 434.78L701.00 434.20L701.10 433.61L701.20 433.04L701.30 432.49L701.40 431.98L701.50 431.52L701.60 431.12L701.70 430.79L701.80 430.54L701.90 430.37L702.00 430.28L702.10 430.28L702.20 430.35L702.30 430.51L702.40 430.74L702.50 431.04L702.60 431.40L702.70 431.82L702.80 432.30L702.90 432.82L703.00 433.37L703.10 433.96L703.20 434.57L703.30 435.19L703.40 435.82L703.50 436.45L703.60 437.07L703.70 437.67L703.80 438.25L703.90 438.79L704.00 439.30L704.10 439.76L704.20 440.17L704.30 440.52L704.40 440.82L704.50 441.04L704.60 441.20L704.70 441.28L704.80 441.29L704.90 441.22L705.00 441.08L705.10 440.86L705.20 440.56L705.30 440.19L705.40 439.74L705.50 439.22L705.60 438.63L705.70 437.98L705.80 437.28L705.90 436.53L706.00 435.74L706.10 434.92L706.20 434.08L706.30 433.24L706.40 432.41L706.50 431.60L706.60 430.82L706.70 430.09L706.80 429.42L706.90 428.81L707.00 428.29L707.10 427.86L707.20 427.52L707.30 427.30L707.40 427.18L707.50 427.18L707.60 427.28L707.70 427.50L707.80 427.82L707.90 428.24L708.00 428.76L708.10 429.37L708.20 430.06L708.30 430.82L708.40 431.65L708.50 432.53L708.60 433.45L708.70 434.41L708.80 435.38L708.90 436.36L709.00 437.34L709.10 438.31L709.20 439.24L709.30 440.14L709.40 440.99L709.50 441.78L709.60 442.50L709.70 443.14L709.80 443.70L709.90 444.15L710.00 444.51L710.10 444.75L710.20 444.88L710.30 444.89L710.40 444.79L710.50 444.56L710.60 444.21L710.70 443.74L710.80 443.14L710.90 442.43L711.00 441.60L711.10 440.66L711.20 439.62L711.30 438.50L711.40 437.29L711.50 436.03L711.60 434.72L711.70 433.38L711.80 432.04L711.90 430.70L712.00 429.40L712.10 428.15L712.20 426.97L712.30 425.88L712.40 424.90L712.50 424.05L712.60 423.34L712.70 422.78L712.80 422.40L712.90 422.18L713.00 422.14L713.10 422.28L713.20 422.59L713.30 423.07L713.40 423.73L713.50 424.54L713.60 425.50L713.70 426.61L713.80 427.84L713.90 429.19L714.00 430.63L714.10 432.16L714.20 433.75L714.30 435.38L714.40 437.04L714.50 438.70L714.60 440.35L714.70 441.96L714.80 443.52L714.90 444.99L715.00 446.37L715.10 447.64L715.20 448.77L715.30 449.75L715.40 450.57L715.50 451.20L715.60 451.64L715.70 451.88L715.80 451.90L715.90 451.71L716.00 451.28L716.10 450.63L716.20 449.75L716.30 448.65L716.40 447.34L716.50 445.84L716.60 444.16L716.70 442.32L716.80 440.35L716.90 438.27L717.00 436.12L717.10 433.92L717.20 431.71L717.30 429.53L717.40 427.40L717.50 425.35L717.60 423.42L717.70 421.64L717.80 420.03L717.90 418.60L718.00 417.39L718.10 416.40L718.20 415.65L718.30 415.14L718.40 414.88L718.50 414.86L718.60 415.08L718.70 415.52L718.80 416.20L718.90 417.08L719.00 418.16L719.10 419.43L719.20 420.88L719.30 422.48L719.40 424.22L719.50 426.09L719.60 428.06L719.70 430.12L719.80 432.26L719.90 434.44L720.00 436.66L720.10 438.89L720.20 441.11L720.30 443.31L720.40 445.46L720.50 447.54L720.60 449.53L720.70 451.41L720.80 453.16L720.90 454.76L721.00 456.19L721.10 457.42L721.20 458.45L721.30 459.25L721.40 459.79L721.50 460.08L721.60 460.09L721.70 459.81L721.80 459.24L721.90 458.36L722.00 457.19L722.10 455.73L722.20 453.99L722.30 451.98L722.40 449.72L722.50 447.25L722.60 444.57L722.70 441.74L722.80 438.78L722.90 435.73L723.00 432.63L723.10 429.52L723.20 426.46L723.30 423.47L723.40 420.61L723.50 417.91L723.60 415.42L723.70 413.16L723.80 411.17L723.90 409.48L724.00 408.11L724.10 407.08L724.20 406.40L724.30 406.08L724.40 406.12L724.50 406.52L724.60 407.27L724.70 408.38L724.80 409.83L724.90 411.60L725.00 413.67L725.10 416.03L725.20 418.64L725.30 421.47L725.40 424.49L725.50 427.66L725.60 430.95L725.70 434.31L725.80 437.70L725.90 441.08L726.00 444.42L726.10 447.67L726.20 450.79L726.30 453.75L726.40 456.52L726.50 459.05L726.60 461.32L726.70 463.30L726.80 464.98L726.90 466.32L727.00 467.33L727.10 467.98L727.20 468.28L727.30 468.22L727.40 467.79L727.50 467.03L727.60 465.92L727.70 464.49L727.80 462.76L727.90 460.74L728.00 458.45L728.10 455.91L728.20 453.16L728.30 450.22L728.40 447.11L728.50 443.87L728.60 440.52L728.70 437.10L728.80 433.65L728.90 430.19L729.00 426.76L729.10 423.39L729.20 420.11L729.30 416.96L729.40 413.98L729.50 411.19L729.60 408.62L729.70 406.30L729.80 404.27L729.90 402.55L730.00 401.16L730.10 400.12L730.20 399.46L730.30 399.18L730.40 399.30L730.50 399.83L730.60 400.76L730.70 402.09L730.80 403.83L730.90 405.95L731.00 408.43L731.10 411.26L731.20 414.39L731.30 417.80L731.40 421.44L731.50 425.27L731.60 429.25L731.70 433.32L731.80 437.44L731.90 441.54L732.00 445.58L732.10 449.51L732.20 453.27L732.30 456.82L732.40 460.11L732.50 463.10L732.60 465.76L732.70 468.05L732.80 469.96L732.90 471.45L733.00 472.52L733.10 473.17L733.20 473.38L733.30 473.17L733.40 472.55L733.50 471.53L733.60 470.12L733.70 468.34L733.80 466.22L733.90 463.78L734.00 461.04L734.10 458.04L734.20 454.82L734.30 451.40L734.40 447.83L734.50 444.14L734.60 440.37L734.70 436.55L734.80 432.74L734.90 428.96L735.00 425.26L735.10 421.67L735.20 418.22L735.30 414.96L735.40 411.90L735.50 409.09L735.60 406.55L735.70 404.29L735.80 402.35L735.90 400.75L736.00 399.49L736.10 398.58L736.20 398.05L736.30 397.88L736.40 398.09L736.50 398.66L736.60 399.59L736.70 400.87L736.80 402.48L736.90 404.40L737.00 406.62L737.10 409.11L737.20 411.84L737.30 414.79L737.40 417.93L737.50 421.23L737.60 424.66L737.70 428.18L737.80 431.77L737.90 435.38L738.00 438.99L738.10 442.56L738.20 446.06L738.30 449.45L738.40 452.71L738.50 455.79L738.60 458.69L738.70 461.35L738.80 463.77L738.90 465.91L739.00 467.75L739.10 469.29L739.20 470.48L739.30 471.34L739.40 471.84L739.50 471.98L739.60 471.75L739.70 471.15L739.80 470.19L739.90 468.86L740.00 467.19L740.10 465.20L740.20 462.89L740.30 460.30L740.40 457.46L740.50 454.39L740.60 451.14L740.70 447.73L740.80 444.21L740.90 440.62L741.00 436.99L741.10 433.36L741.20 429.78L741.30 426.28L741.40 422.90L741.50 419.68L741.60 416.64L741.70 413.83L741.80 411.26L741.90 408.95L742.00 406.94L742.10 405.23L742.20 403.85L742.30 402.78L742.40 402.05L742.50 401.65L742.60 401.58L742.70 401.83L742.80 402.40L742.90 403.28L743.00 404.44L743.10 405.89L743.20 407.59L743.30 409.53L743.40 411.70L743.50 414.06L743.60 416.59L743.70 419.28L743.80 422.09L743.90 425.00L744.00 427.98L744.10 431.01L744.20 434.06L744.30 437.10L744.40 440.11L744.50 443.06L744.60 445.93L744.70 448.69L744.80 451.31L744.90 453.78L745.00 456.08L745.10 458.17L745.20 460.06L745.30 461.71L745.40 463.12L745.50 464.26L745.60 465.14L745.70 465.74L745.80 466.05L745.90 466.08L746.00 465.81L746.10 465.26L746.20 464.41L746.30 463.29L746.40 461.90L746.50 460.26L746.60 458.38L746.70 456.30L746.80 454.02L746.90 451.57L747.00 448.99L747.10 446.30L747.20 443.54L747.30 440.72L747.40 437.88L747.50 435.06L747.60 432.28L747.70 429.56L747.80 426.94L747.90 424.45L748.00 422.09L748.10 419.90L748.20 417.90L748.30 416.09L748.40 414.50L748.50 413.12L748.60 411.98L748.70 411.07L748.80 410.40L748.90 409.96L749.00 409.76L749.10 409.78L749.20 410.02L749.30 410.48L749.40 411.14L749.50 412.00L749.60 413.03L749.70 414.24L749.80 415.59L749.90 417.10L750.00 418.72L750.10 420.47L750.20 422.30L750.30 424.22L750.40 426.21L750.50 428.24L750.60 430.31L750.70 432.40L750.80 434.49L750.90 436.56L751.00 438.61L751.10 440.62L751.20 442.56L751.30 444.44L751.40 446.23L751.50 447.92L751.60 449.50L751.70 450.95L751.80 452.27L751.90 453.45L752.00 454.47L752.10 455.33L752.20 456.02L752.30 456.54L752.40 456.87L752.50 457.02L752.60 456.98L752.70 456.75L752.80 456.34L752.90 455.74L753.00 454.97L753.10 454.03L753.20 452.92L753.30 451.67L753.40 450.29L753.50 448.78L753.60 447.17L753.70 445.47L753.80 443.70L753.90 441.88L754.00 440.03L754.10 438.16L754.20 436.30L754.30 434.47L754.40 432.67L754.50 430.93L754.60 429.27L754.70 427.69L754.80 426.22L754.90 424.85L755.00 423.62L755.10 422.51L755.20 421.54L755.30 420.72L755.40 420.04L755.50 419.52L755.60 419.14L755.70 418.91L755.80 418.82L755.90 418.88L756.00 419.07L756.10 419.40L756.20 419.86L756.30 420.43L756.40 421.12L756.50 421.90L756.60 422.79L756.70 423.76L756.80 424.80L756.90 425.92L757.00 427.09L757.10 428.30L757.20 429.56L757.30 430.84L757.40 432.13L757.50 433.44L757.60 434.73L757.70 436.02L757.80 437.28L757.90 438.52L758.00 439.71L758.10 440.85L758.20 441.93L758.30 442.95L758.40 443.90L758.50 444.76L758.60 445.54L758.70 446.23L758.80 446.83L758.90 447.32L759.00 447.71L759.10 447.99L759.20 448.16L759.30 448.23L759.40 448.18L759.50 448.02L759.60 447.76L759.70 447.39L759.80 446.91L759.90 446.34L760.00 445.68L760.10 444.93L760.20 444.10L760.30 443.21L760.40 442.25L760.50 441.25L760.60 440.21L760.70 439.14L760.80 438.05L760.90 436.95L761.00 435.86L761.10 434.78L761.20 433.74L761.30 432.72L761.40 431.75L761.50 430.84L761.60 429.98L761.70 429.20L761.80 428.48L761.90 427.85L762.00 427.30L762.10 426.84L762.20 426.46L762.30 426.17L762.40 425.97L762.50 425.86L762.60 425.83L762.70 425.88L762.80 426.01L762.90 426.22L763.00 426.50L763.10 426.85L763.20 427.27L763.30 427.74L763.40 428.26L763.50 428.82L763.60 429.42L763.70 430.06L763.80 430.72L763.90 431.40L764.00 432.09L764.10 432.79L764.20 433.50L764.30 434.19L764.40 434.88L764.50 435.55L764.60 436.21L764.70 436.84L764.80 437.44L764.90 438.02L765.00 438.56L765.10 439.06L765.20 439.53L765.30 439.95L765.40 440.33L765.50 440.67L765.60 440.97L765.70 441.22L765.80 441.42L765.90 441.58L766.00 441.70L766.10 441.77L766.20 441.80L766.30 441.78L766.40 441.72L766.50 441.61L766.60 441.47L766.70 441.28L766.80 441.05L766.90 440.78L767.00 440.48L767.10 440.14L767.20 439.78L767.30 439.38L767.40 438.96L767.50 438.52L767.60 438.06L767.70 437.59L767.80 437.10L767.90 436.60L768.00 436.10L768.10 435.60L768.20 435.10L768.30 434.60L768.40 434.12L768.50 433.64L768.60 433.18L768.70 432.74L768.80 432.32L768.90 431.93L769.00 431.56L769.10 431.23L769.20 430.93L769.30 430.66L769.40 430.43L769.50 430.24L769.60 430.08L769.70 429.97L769.80 429.90L769.90 429.87L770.00 429.88L770.10 429.93L770.20 430.03L770.30 430.17L770.40 430.34L770.50 430.55L770.60 430.79L770.70 431.07L770.80 431.37L770.90 431.69L771.00 432.04L771.10 432.41L771.20 432.79L771.30 433.17L771.40 433.57L771.50 433.97L771.60 434.37L771.70 434.77L771.80 435.16L771.90 435.55L772.00 435.92L772.10 436.28L772.20 436.62L772.30 436.95L772.40 437.25L772.50 437.54L772.60 437.80L772.70 438.04L772.80 438.26L772.90 438.45L773.00 438.61L773.10 438.75L773.20 438.87L773.30 438.96L773.40 439.03L773.50 439.07L773.60 439.09L773.70 439.08L773.80 439.05L773.90 438.99L774.00 438.91L774.10 438.80L774.20 438.66L774.30 438.51L774.40 438.33L774.50 438.12L774.60 437.90L774.70 437.66L774.80 437.41L774.90 437.14L775.00 436.86L775.10 436.56L775.20 436.27L775.30 435.96L775.40 435.65L775.50 435.34L775.60 435.04L775.70 434.74L775.80 434.44L775.90 434.16L776.00 433.88L776.10 433.62L776.20 433.38L776.30 433.15L776.40 432.94L776.50 432.75L776.60 432.59L776.70 432.44L776.80 432.32L776.90 432.22L777.00 432.15L777.10 432.10L777.20 432.08L777.30 432.08L777.40 432.10L777.50 432.15L777.60 432.22L777.70 432.31L777.80 432.42L777.90 432.55L778.00 432.70L778.10 432.87L778.20 433.05L778.30 433.24L778.40 433.44L778.50 433.66L778.60 433.88L778.70 434.12L778.80 434.35L778.90 434.59L779.00 434.84L779.10 435.08L779.20 435.32L779.30 435.56L779.40 435.80L779.50 436.03L779.60 436.25L779.70 436.47L779.80 436.67L779.90 436.87L780.00 437.05L780.10 437.22L780.20 437.38L780.30 437.52L780.40 437.65L780.50 437.76L780.60 437.86L780.70 437.94L780.80 438.00L780.90 438.05L781.00 438.07L781.10 438.09L781.20 438.08L781.30 438.06L781.40 438.02L781.50 437.96L781.60 437.89L781.70 437.80L781.80 437.70L781.90 437.59L782.00 437.47L782.10 437.33L782.20 437.18L782.30 437.03L782.40 436.87L782.50 436.70L782.60 436.52L782.70 436.34L782.80 436.16L782.90 435.97L783.00 435.79L783.10 435.60L783.20 435.42L783.30 435.24L783.40 435.06L783.50 434.88L783.60 434.71L783.70 434.54L783.80 434.38L783.90 434.23L784.00 434.09L784.10 433.95L784.20 433.82L784.30 433.71L784.40 433.60L784.50 433.50L784.60 433.42L784.70 433.35L784.80 433.29L784.90 433.24L785.00 433.21L785.10 433.19L785.20 433.18L785.30 433.19L785.40 433.21L785.50 433.25L785.60 433.30L785.70 433.37L785.80 433.46L785.90 433.55L786.00 433.67L786.10 433.79L786.20 433.93L786.30 434.08L786.40 434.24L786.50 434.41L786.60 434.59L786.70 434.77L786.80 434.96L786.90 435.15L787.00 435.35L787.10 435.54L787.20 435.74L787.30 435.93L787.40 436.11L787.50 436.30L787.60 436.47L787.70 436.63L787.80 436.79L787.90 436.93L788.00 437.06L788.10 437.18L788.20 437.29L788.30 437.38L788.40 437.45L788.50 437.51L788.60 437.55L788.70 437.57L788.80 437.58L788.90 437.57L789.00 437.54L789.10 437.50L789.20 437.43L789.30 437.35L789.40 437.26L789.50 437.15L789.60 437.02L789.70 436.89L789.80 436.74L789.90 436.59L790.00 436.43L790.10 436.27L790.20 436.10L790.30 435.93L790.40 435.76L790.50 435.59L790.60 435.42L790.70 435.26L790.80 435.10L790.90 434.96L791.00 434.81L791.10 434.68L791.20 434.56L791.30 434.44L791.40 434.34L791.50 434.24L791.60 434.16L791.70 434.09L791.80 434.03L791.90 433.98L792.00 433.94L792.10 433.91L792.20 433.89L792.30 433.88L792.40 433.87L792.50 433.88L792.60 433.90L792.70 433.92L792.80 433.95L792.90 434.00L793.00 434.05L793.10 434.11L793.20 434.17L793.30 434.24L793.40 434.32L793.50 434.40L793.60 434.49L793.70 434.59L793.80 434.68L793.90 434.78L794.00 434.88L794.10 434.98L794.20 435.09L794.30 435.19L794.40 435.30L794.50 435.40L794.60 435.50L794.70 435.60L794.80 435.70L794.90 435.80L795.00 435.89L795.10 435.97L795.20 436.06L795.30 436.14L795.40 436.21L795.50 436.28L795.60 436.34L795.70 436.39L795.80 436.44L795.90 436.48L796.00 436.52L796.10 436.54L796.20 436.56L796.30 436.58L796.40 436.58L796.50 436.58L796.60 436.57L796.70 436.55L796.80 436.53L796.90 436.50L797.00 436.46L797.10 436.42L797.20 436.37L797.30 436.31L797.40 436.25L797.50 436.18L797.60 436.11L797.70 436.04L797.80 435.96L797.90 435.88L798.00 435.79L798.10 435.71L798.20 435.62L798.30 435.53L798.40 435.44L798.50 435.36L798.60 435.27L798.70 435.18L798.80 435.10L798.90 435.02L799.00 434.94L799.10 434.87L799.20 434.80L799.30 434.73L799.40 434.67L799.50 434.62L799.60 434.57L799.70 434.52L799.80 434.48L799.90 434.45L800.00 434.42L800.10 434.40L800.20 434.39L800.30 434.38L800.40 434.38L800.50 434.38L800.60 434.39L800.70 434.40L800.80 434.42L800.90 434.45L801.00 434.47L801.10 434.51L801.20 434.54L801.30 434.59L801.40 434.63L801.50 434.68L801.60 434.73L801.70 434.78L801.80 434.84L801.90 434.89L802.00 434.95L802.10 435.01L802.20 435.07L802.30 435.13L802.40 435.19L802.50 435.25L802.60 435.31L802.70 435.37L802.80 435.43L802.90 435.49L803.00 435.54L803.10 435.59L803.20 435.65L803.30 435.70L803.40 435.74L803.50 435.79L803.60 435.83L803.70 435.87L803.80 435.90L803.90 435.94L804.00 435.97L804.10 435.99L804.20 436.02L804.30 436.04L804.40 436.05L804.50 436.07L804.60 436.07L804.70 436.08L804.80 436.08L804.90 436.08L805.00 436.08L805.10 436.07L805.20 436.06L805.30 436.05L805.40 436.03L805.50 436.01L805.60 435.99L805.70 435.97L805.80 435.94L805.90 435.91L806.00 435.88L806.10 435.84L806.20 435.80L806.30 435.77L806.40 435.72L806.50 435.68L806.60 435.64L806.70 435.60L806.80 435.55L806.90 435.51L807.00 435.47L807.10 435.42L807.20 435.38L807.30 435.34L807.40 435.29L807.50 435.25L807.60 435.21L807.70 435.17L807.80 435.14L807.90 435.10L808.00 435.07L808.10 435.04L808.20 435.01L808.30 434.99L808.40 434.96L808.50 434.94L808.60 434.93L808.70 434.91L808.80 434.90L808.90 434.89L809.00 434.88L809.10 434.87L809.20 434.87L809.30 434.87L809.40 434.88L809.50 434.88L809.60 434.89L809.70 434.90L809.80 434.91L809.90 434.92L810.00 434.93L810.10 434.95L810.20 434.97L810.30 434.99L810.40 435.01L810.50 435.03L810.60 435.05L810.70 435.07L810.80 435.09L810.90 435.12L811.00 435.14L811.10 435.17L811.20 435.19L811.30 435.21L811.40 435.24L811.50 435.26L811.60 435.28L811.70 435.30L811.80 435.32L811.90 435.34L812.00 435.36L812.10 435.38L812.20 435.40L812.30 435.41L812.40 435.43L812.50 435.44L812.60 435.45L812.70 435.46L812.80 435.47L812.90 435.48L813.00 435.49L813.10 435.49L813.20 435.49L813.30 435.50L813.40 435.50L813.50 435.50L813.60 435.50L813.70 435.49L813.80 435.49L813.90 435.48L814.00 435.48L814.10 435.47L814.20 435.46L814.30 435.45L814.40 435.45L814.50 435.44L814.60 435.43L814.70 435.41L814.80 435.40L814.90 435.39" stroke="#000" stroke-width="0.95"/>
<path d="M697 435.38L795 435.38" stroke="#ff0000" stroke-width="0.6"/>
</g>
<rect x="91.30" y="22.05" width="913.60" height="218.50" fill="none" stroke="#0c0c0c" stroke-width="1.55"/>
<rect x="91.30" y="325.85" width="913.60" height="218.75" fill="none" stroke="#0c0c0c" stroke-width="1.55"/>
<path d="M274.02 240.55v-9.00M274.02 22.05v9.00M456.74 240.55v-9.00M456.74 22.05v9.00M639.46 240.55v-9.00M639.46 22.05v9.00M822.18 240.55v-9.00M822.18 22.05v9.00M91.30 131.30h9.00M1004.90 131.30h-9.00M182.66 544.60v-9.00M182.66 325.85v9.00M274.02 544.60v-9.00M274.02 325.85v9.00M365.38 544.60v-9.00M365.38 325.85v9.00M456.74 544.60v-9.00M456.74 325.85v9.00M548.10 544.60v-9.00M548.10 325.85v9.00M639.46 544.60v-9.00M639.46 325.85v9.00M730.82 544.60v-9.00M730.82 325.85v9.00M822.18 544.60v-9.00M822.18 325.85v9.00M913.54 544.60v-9.00M913.54 325.85v9.00M91.30 380.54h9.00M1004.90 380.54h-9.00M91.30 435.23h9.00M1004.90 435.23h-9.00M91.30 489.91h9.00M1004.90 489.91h-9.00" fill="none" stroke="#0c0c0c" stroke-width="1.55"/>
<g font-size="20" opacity="0.995">
<text x="91.30" y="263" text-anchor="middle">0</text>
<text x="274.02" y="263" text-anchor="middle">50</text>
<text x="456.74" y="263" text-anchor="middle">100</text>
<text x="639.46" y="263" text-anchor="middle">150</text>
<text x="822.18" y="263" text-anchor="middle">200</text>
<text x="1004.90" y="263" text-anchor="middle">250</text>
<text x="91.30" y="566.95" text-anchor="middle">0</text>
<text x="182.66" y="566.95" text-anchor="middle">0.5</text>
<text x="274.02" y="566.95" text-anchor="middle">1</text>
<text x="365.38" y="566.95" text-anchor="middle">1.5</text>
<text x="456.74" y="566.95" text-anchor="middle">2</text>
<text x="548.10" y="566.95" text-anchor="middle">2.5</text>
<text x="639.46" y="566.95" text-anchor="middle">3</text>
<text x="730.82" y="566.95" text-anchor="middle">3.5</text>
<text x="822.18" y="566.95" text-anchor="middle">4</text>
<text x="913.54" y="566.95" text-anchor="middle">4.5</text>
<text x="1004.90" y="566.95" text-anchor="middle">5</text>
<text x="87.0" y="332.95" text-anchor="end">1</text>
<text x="87.0" y="387.64" text-anchor="end">0.5</text>
<text x="87.0" y="442.33" text-anchor="end">0</text>
<text x="87.0" y="497.01" text-anchor="end">−0.5</text>
<text x="87.0" y="551.70" text-anchor="end">−1</text>
<text x="44.1" y="29.30">10<tspan font-size="12.8" dy="-12.0" dx="-0.2">−5</tspan></text>
<text x="44.1" y="138.55">10<tspan font-size="12.8" dy="-12.0" dx="-0.2">−10</tspan></text>
<text x="44.1" y="247.80">10<tspan font-size="12.8" dy="-12.0" dx="-0.2">−15</tspan></text>
<text x="91.5" y="320.1">x 10<tspan font-size="12.8" dy="-11.9" dx="-0.3">−6</tspan></text>
<text x="548.0" y="282.2" text-anchor="middle" textLength="142.3" lengthAdjust="spacingAndGlyphs">Frequency [kHz]</text>
<text x="548.1" y="586.1" text-anchor="middle" textLength="79.2" lengthAdjust="spacingAndGlyphs">time [ms]</text>
<text transform="translate(34.1 131.6) rotate(-90)" text-anchor="middle" textLength="59.4" lengthAdjust="spacingAndGlyphs">| FRF |</text>
<text transform="translate(31.3 434.4) rotate(-90)" text-anchor="middle">u<tspan font-size="14.4" dy="8.6">node 13</tspan><tspan dy="-8.6"> [mm]</tspan></text>
<text x="529.3" y="85.1" word-spacing="0.7"><tspan font-style="italic">d</tspan> = 1 m</text>
<text x="650.6" y="86.6" word-spacing="0.7"><tspan font-style="italic">d</tspan> = 5 m</text>
<text x="800.4" y="90.6" word-spacing="1.0"><tspan font-style="italic">d</tspan> = 10 m</text>
<text x="204.00" y="395.10">F<tspan font-size="14" dy="3.4">Y</tspan><tspan dy="-3.4" letter-spacing="0.3">(1,1)</tspan></text>
<text x="449.60" y="396.60">F<tspan font-size="14" dy="3.4">Y</tspan><tspan dy="-3.4" letter-spacing="0.3"> (1,1)</tspan></text>
<text x="746.20" y="395.10">F<tspan font-size="14" dy="3.4">Y</tspan><tspan dy="-3.4" letter-spacing="0.3"> (1,1)</tspan></text>
</g>
<g opacity="0.995"><text class="s" font-size="25.6" x="969.5" y="52.1">(a)</text>
<text class="s" font-size="25.6" x="963.8" y="355.8">(b)</text></g>
<path d="M522.90 87.20L502.60 115.80M508.68 113.51L502.60 115.80M502.76 109.30L502.60 115.80M650.40 91.40L617.60 131.40M623.83 129.54L617.60 131.40M618.21 124.93L617.60 131.40M802.70 98.70L758.60 165.20M764.61 162.72L758.60 165.20M758.55 158.70L758.60 165.20" fill="none" stroke="#303030" stroke-width="0.68" stroke-linecap="round"/>
</svg>
</body></html>
